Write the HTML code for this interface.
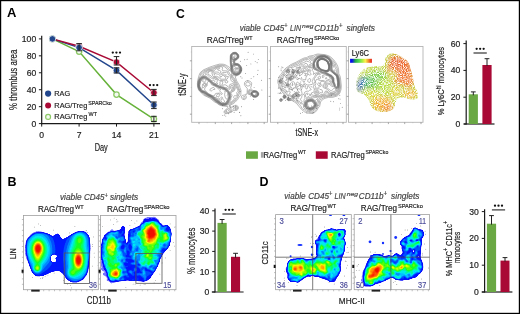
<!DOCTYPE html>
<html><head><meta charset="utf-8"><style>
html,body{margin:0;padding:0;background:#fff;}
#f{position:relative;width:520px;height:314px;overflow:hidden;background:#fff;}
svg{position:absolute;left:0;top:0;will-change:transform;}
</style></head><body><div id="f">
<svg width="520" height="314" viewBox="0 0 520 314" xmlns="http://www.w3.org/2000/svg" font-family="Liberation Sans, sans-serif">
<defs><filter id="jet" x="-5%" y="-5%" width="110%" height="110%" color-interpolation-filters="sRGB">
<feGaussianBlur stdDeviation="0.45"/>
<feComponentTransfer><feFuncR type="table" tableValues="1.000 1.000 1.000 1.000 1.000 1.000 1.000 0.910 0.760 0.610 0.460 0.309 0.159 0.039 0.036 0.032 0.029 0.026 0.023 0.020 0.017 0.014 0.011 0.008 0.005 0.002 0.000 0.000 0.000 0.000 0.000 0.000 0.000 0.000 0.000 0.000 0.000 0.000 0.000 0.000 0.000 0.000 0.000 0.000 0.000 0.000 0.000 0.000 0.000 0.000 0.000 0.000 0.000 0.000 0.003 0.016 0.029 0.041 0.054 0.067 0.080 0.092 0.123 0.167 0.211 0.255 0.299 0.343 0.387 0.431 0.475 0.519 0.565 0.615 0.666 0.716 0.766 0.817 0.867 0.917 0.968 1.000 1.000 1.000 1.000 1.000 1.000 1.000 1.000 1.000 1.000 1.000 1.000 1.000 1.000 1.000 1.000 1.000 1.000 1.000 1.000 1.000 1.000 1.000 1.000 1.000 1.000 1.000 1.000 1.000 1.000 1.000 0.997 0.992 0.988 0.983 0.978 0.973 0.969 0.964 0.959 0.955 0.950 0.945 0.940 0.936 0.931 0.926 0.922"/><feFuncG type="table" tableValues="1.000 1.000 1.000 1.000 1.000 1.000 1.000 0.910 0.760 0.610 0.460 0.309 0.159 0.040 0.044 0.047 0.051 0.055 0.058 0.062 0.066 0.069 0.073 0.077 0.080 0.084 0.104 0.150 0.195 0.240 0.285 0.330 0.375 0.421 0.466 0.511 0.555 0.595 0.634 0.673 0.713 0.752 0.792 0.831 0.870 0.904 0.915 0.926 0.937 0.948 0.959 0.970 0.981 0.992 1.000 1.000 1.000 1.000 1.000 1.000 1.000 1.000 1.000 1.000 1.000 1.000 1.000 1.000 1.000 1.000 1.000 1.000 0.999 0.997 0.995 0.993 0.991 0.988 0.986 0.984 0.982 0.971 0.944 0.917 0.890 0.864 0.837 0.810 0.783 0.756 0.729 0.703 0.676 0.649 0.622 0.595 0.569 0.542 0.515 0.488 0.461 0.435 0.408 0.381 0.354 0.327 0.301 0.274 0.247 0.220 0.193 0.167 0.151 0.141 0.132 0.123 0.113 0.104 0.094 0.085 0.075 0.066 0.057 0.047 0.038 0.028 0.019 0.009 0.000"/><feFuncB type="table" tableValues="1.000 1.000 1.000 1.000 1.000 1.000 1.000 1.000 1.000 1.000 1.000 1.000 1.000 1.000 1.000 1.000 1.000 1.000 1.000 1.000 1.000 1.000 1.000 1.000 1.000 1.000 1.000 1.000 1.000 1.000 1.000 1.000 1.000 1.000 1.000 1.000 1.000 1.000 1.000 1.000 1.000 1.000 1.000 1.000 1.000 0.989 0.934 0.880 0.825 0.770 0.716 0.661 0.606 0.551 0.497 0.443 0.390 0.336 0.282 0.229 0.175 0.122 0.093 0.083 0.074 0.064 0.054 0.045 0.035 0.026 0.016 0.007 0.000 0.000 0.000 0.000 0.000 0.000 0.000 0.000 0.000 0.000 0.000 0.000 0.000 0.000 0.000 0.000 0.000 0.000 0.000 0.000 0.000 0.000 0.000 0.000 0.000 0.000 0.000 0.000 0.000 0.000 0.000 0.000 0.000 0.000 0.000 0.000 0.000 0.000 0.000 0.000 0.000 0.000 0.000 0.000 0.000 0.000 0.000 0.000 0.000 0.000 0.000 0.000 0.000 0.000 0.000 0.000 0.000"/></feComponentTransfer>
</filter><clipPath id="cB1"><rect x="23.5" y="215.5" width="74.8" height="74.19999999999999"/></clipPath><clipPath id="cB2"><rect x="100.5" y="215.5" width="75.5" height="74.19999999999999"/></clipPath><clipPath id="cD1"><rect x="275.6" y="214.6" width="75.69999999999999" height="75.1"/></clipPath><clipPath id="cD2"><rect x="354.2" y="214.6" width="75.40000000000003" height="75.1"/></clipPath><clipPath id="lyclip"><path d="M356.5 88.0 356.4 87.1 356.4 86.1 356.3 85.1 356.4 84.0 356.4 83.0 356.5 82.0 356.6 81.1 356.8 80.3 357.1 79.4 357.3 78.6 357.6 77.8 358.0 77.0 358.4 76.1 358.9 75.3 359.3 74.4 359.9 73.6 360.4 72.7 361.0 72.0 361.6 71.3 362.2 70.7 362.9 70.1 363.6 69.5 364.3 69.0 365.0 68.5 365.8 68.1 366.6 67.7 367.4 67.3 368.2 67.0 369.1 66.7 370.0 66.5 371.0 66.3 372.0 66.2 373.0 66.1 374.0 66.0 375.0 66.0 376.0 66.0 376.9 66.1 377.8 66.2 378.7 66.4 379.5 66.6 380.3 66.6 381.0 66.5 381.7 66.2 382.4 65.9 383.0 65.4 383.6 64.8 384.1 64.2 384.5 63.5 384.8 62.7 384.9 61.8 385.0 60.8 385.1 59.7 385.2 58.8 385.4 58.0 385.7 57.3 386.1 56.8 386.6 56.3 387.0 55.8 387.5 55.4 388.0 55.0 388.5 54.6 388.9 54.2 389.4 53.9 389.8 53.6 390.4 53.4 391.0 53.3 391.7 53.2 392.4 53.2 393.2 53.3 394.1 53.4 395.0 53.7 396.0 54.0 397.1 54.4 398.3 55.0 399.5 55.7 400.7 56.4 401.9 57.1 403.0 57.8 404.0 58.4 404.9 59.0 405.8 59.6 406.6 60.3 407.3 61.1 408.0 62.0 408.6 63.1 409.2 64.3 409.7 65.7 410.1 67.1 410.6 68.6 411.0 70.0 411.4 71.5 411.8 73.0 412.2 74.6 412.6 76.1 412.9 77.6 413.2 79.0 413.5 80.3 413.7 81.6 413.8 82.8 414.0 83.9 414.2 85.0 414.5 86.0 414.9 86.9 415.3 87.8 415.8 88.6 416.2 89.3 416.7 90.1 417.0 91.0 417.3 92.0 417.6 93.1 417.8 94.2 418.0 95.2 418.1 96.2 418.0 97.0 417.8 97.7 417.4 98.2 416.9 98.7 416.4 99.0 415.7 99.3 415.0 99.5 414.2 99.6 413.2 99.6 412.2 99.5 411.1 99.4 410.0 99.2 409.0 99.0 408.0 98.8 407.0 98.5 406.0 98.1 405.0 97.8 404.0 97.6 403.0 97.5 401.9 97.5 400.8 97.6 399.7 97.8 398.7 98.1 397.7 98.5 397.0 99.0 396.5 99.6 396.2 100.4 396.0 101.3 395.9 102.2 395.8 103.1 395.5 104.0 395.2 104.9 394.8 105.8 394.5 106.7 394.1 107.5 393.6 108.3 393.0 109.0 392.3 109.6 391.6 110.1 390.8 110.5 389.9 110.9 389.0 111.2 388.0 111.5 386.9 111.7 385.8 111.9 384.6 112.0 383.3 112.1 382.1 112.1 381.0 112.0 379.9 111.8 378.9 111.6 377.8 111.3 376.8 110.9 375.9 110.5 375.0 110.0 374.2 109.5 373.5 108.9 372.8 108.2 372.1 107.6 371.5 106.8 371.0 106.0 370.5 105.1 370.2 104.1 369.9 103.1 369.5 102.0 369.2 101.0 368.7 100.0 368.1 99.1 367.5 98.1 366.7 97.2 366.0 96.4 365.2 95.6 364.5 95.0 363.7 94.5 362.9 94.1 362.1 93.8 361.4 93.5 360.6 93.3 360.0 93.0 359.5 92.7 359.0 92.5 358.5 92.3 358.1 92.1 357.8 91.9 357.5 91.5 357.2 91.1 357.0 90.6 356.8 90.0 356.7 89.4 356.6 88.8Z"/></clipPath><filter id="lyblur" x="-10%" y="-10%" width="120%" height="120%"><feGaussianBlur stdDeviation="2.2"/></filter>
<filter id="speck" x="0" y="0" width="100%" height="100%" color-interpolation-filters="sRGB">
<feTurbulence type="fractalNoise" baseFrequency="1.1" numOctaves="1" seed="4" result="n"/>
<feColorMatrix in="n" type="matrix" values="0 0 0 0 0  0 0 0 0 0  0 0 0 0 0  3.0 0 0 0 -0.9" result="na"/>
<feComposite in="SourceGraphic" in2="na" operator="in"/>
</filter><linearGradient id="lyg" x1="0" x2="1" y1="0" y2="0"><stop offset="0" stop-color="#0000f0"/><stop offset="0.1" stop-color="#0818e0"/><stop offset="0.24" stop-color="#28a848"/><stop offset="0.42" stop-color="#58e050"/><stop offset="0.6" stop-color="#c0f040"/><stop offset="0.7" stop-color="#fff050"/><stop offset="0.82" stop-color="#f0a030"/><stop offset="0.92" stop-color="#f05020"/><stop offset="1" stop-color="#e02020"/></linearGradient></defs><rect x="0.5" y="0.5" width="519" height="313" fill="#fff" stroke="#000" stroke-width="1.4"/>
<text x="7.0" y="17.4" font-size="12.8" fill="#000" textLength="9.4" lengthAdjust="spacingAndGlyphs" font-weight="bold">A</text><text x="175.9" y="17.7" font-size="12.2" fill="#000" font-weight="bold">C</text><text x="7.6" y="185.7" font-size="12.5" fill="#000" font-weight="bold">B</text><text x="259.4" y="185.7" font-size="12.1" fill="#000" textLength="9.0" lengthAdjust="spacingAndGlyphs" font-weight="bold">D</text><line x1="41.7" y1="35.7" x2="41.7" y2="124.2" stroke="#1a1a1a" stroke-width="1.2"/><line x1="41.1" y1="123.6" x2="160" y2="123.6" stroke="#1a1a1a" stroke-width="1.2"/><line x1="38.9" y1="123.6" x2="41.7" y2="123.6" stroke="#1a1a1a" stroke-width="1"/><text x="36.2" y="126.6" font-size="8.6" fill="#222" text-anchor="end" stroke="#222" stroke-width="0.18">0</text><line x1="38.9" y1="106.66" x2="41.7" y2="106.66" stroke="#1a1a1a" stroke-width="1"/><text x="36.2" y="109.66" font-size="8.6" fill="#222" text-anchor="end" stroke="#222" stroke-width="0.18">20</text><line x1="38.9" y1="89.72" x2="41.7" y2="89.72" stroke="#1a1a1a" stroke-width="1"/><text x="36.2" y="92.72" font-size="8.6" fill="#222" text-anchor="end" stroke="#222" stroke-width="0.18">40</text><line x1="38.9" y1="72.78" x2="41.7" y2="72.78" stroke="#1a1a1a" stroke-width="1"/><text x="36.2" y="75.78" font-size="8.6" fill="#222" text-anchor="end" stroke="#222" stroke-width="0.18">60</text><line x1="38.9" y1="55.84" x2="41.7" y2="55.84" stroke="#1a1a1a" stroke-width="1"/><text x="36.2" y="58.84" font-size="8.6" fill="#222" text-anchor="end" stroke="#222" stroke-width="0.18">80</text><line x1="38.9" y1="38.89999999999999" x2="41.7" y2="38.89999999999999" stroke="#1a1a1a" stroke-width="1"/><text x="36.2" y="41.89999999999999" font-size="8.6" fill="#222" text-anchor="end" stroke="#222" stroke-width="0.18">100</text><line x1="41.7" y1="123.6" x2="41.7" y2="126.6" stroke="#1a1a1a" stroke-width="1"/><text x="41.7" y="137.6" font-size="8.6" fill="#222" text-anchor="middle" stroke="#222" stroke-width="0.18">0</text><line x1="79.1" y1="123.6" x2="79.1" y2="126.6" stroke="#1a1a1a" stroke-width="1"/><text x="79.1" y="137.6" font-size="8.6" fill="#222" text-anchor="middle" stroke="#222" stroke-width="0.18">7</text><line x1="116.5" y1="123.6" x2="116.5" y2="126.6" stroke="#1a1a1a" stroke-width="1"/><text x="116.5" y="137.6" font-size="8.6" fill="#222" text-anchor="middle" stroke="#222" stroke-width="0.18">14</text><line x1="153.90000000000003" y1="123.6" x2="153.90000000000003" y2="126.6" stroke="#1a1a1a" stroke-width="1"/><text x="153.90000000000003" y="137.6" font-size="8.6" fill="#222" text-anchor="middle" stroke="#222" stroke-width="0.18">21</text><text x="101.25" y="151.2" font-size="10" fill="#222" text-anchor="middle" textLength="13.1" lengthAdjust="spacingAndGlyphs" stroke="#222" stroke-width="0.18">Day</text><text x="16.6" y="79.8" font-size="10.8" fill="#222" text-anchor="middle" textLength="60.4" lengthAdjust="spacingAndGlyphs" transform="rotate(-90 16.6 79.8)" stroke="#222" stroke-width="0.18">% thrombus area</text><polyline points="52.4,38.9 79.1,51.6 116.5,94.6 153.9,119.1" fill="none" stroke="#66b23a" stroke-width="1.45"/><polyline points="52.4,38.9 79.1,47.6 116.5,70.4 153.9,105.0" fill="none" stroke="#22468c" stroke-width="1.45"/><polyline points="52.4,38.9 79.1,46.3 116.5,62.1 153.9,92.7" fill="none" stroke="#a90a35" stroke-width="1.45"/><circle cx="52.4" cy="38.9" r="2.7" fill="#f4faf0" stroke="#8cc866" stroke-width="1.3"/><circle cx="79.1" cy="51.6" r="2.7" fill="#f4faf0" stroke="#8cc866" stroke-width="1.3"/><circle cx="116.5" cy="94.6" r="2.7" fill="#f4faf0" stroke="#8cc866" stroke-width="1.3"/><circle cx="153.9" cy="119.1" r="2.7" fill="#f4faf0" stroke="#8cc866" stroke-width="1.3"/><circle cx="79.1" cy="46.3" r="3.3" fill="#a90a35" stroke="#fff" stroke-width="0.7"/><circle cx="116.5" cy="62.1" r="3.3" fill="#a90a35" stroke="#fff" stroke-width="0.7"/><circle cx="153.9" cy="92.7" r="3.3" fill="#a90a35" stroke="#fff" stroke-width="0.7"/><circle cx="52.4" cy="38.9" r="3.3" fill="#22468c" stroke="#fff" stroke-width="0.7"/><circle cx="79.1" cy="47.6" r="3.3" fill="#22468c" stroke="#fff" stroke-width="0.7"/><circle cx="116.5" cy="70.4" r="3.3" fill="#22468c" stroke="#fff" stroke-width="0.7"/><circle cx="153.9" cy="105.0" r="3.3" fill="#22468c" stroke="#fff" stroke-width="0.7"/><line x1="79.1" y1="43.6" x2="79.1" y2="50.8" stroke="#222" stroke-width="1"/><line x1="76.3" y1="43.6" x2="81.89999999999999" y2="43.6" stroke="#222" stroke-width="1"/><line x1="76.3" y1="50.8" x2="81.89999999999999" y2="50.8" stroke="#222" stroke-width="1"/><line x1="116.5" y1="56.6" x2="116.5" y2="65" stroke="#222" stroke-width="1"/><line x1="113.7" y1="56.6" x2="119.3" y2="56.6" stroke="#222" stroke-width="1"/><line x1="113.7" y1="65" x2="119.3" y2="65" stroke="#222" stroke-width="1"/><line x1="116.5" y1="67.8" x2="116.5" y2="73" stroke="#222" stroke-width="1"/><line x1="113.7" y1="67.8" x2="119.3" y2="67.8" stroke="#222" stroke-width="1"/><line x1="113.7" y1="73" x2="119.3" y2="73" stroke="#222" stroke-width="1"/><line x1="153.90000000000003" y1="89.4" x2="153.90000000000003" y2="95.6" stroke="#222" stroke-width="1"/><line x1="151.10000000000002" y1="89.4" x2="156.70000000000005" y2="89.4" stroke="#222" stroke-width="1"/><line x1="151.10000000000002" y1="95.6" x2="156.70000000000005" y2="95.6" stroke="#222" stroke-width="1"/><line x1="153.90000000000003" y1="102" x2="153.90000000000003" y2="108.6" stroke="#222" stroke-width="1"/><line x1="151.10000000000002" y1="102" x2="156.70000000000005" y2="102" stroke="#222" stroke-width="1"/><line x1="151.10000000000002" y1="108.6" x2="156.70000000000005" y2="108.6" stroke="#222" stroke-width="1"/><line x1="153.90000000000003" y1="116.3" x2="153.90000000000003" y2="121.6" stroke="#222" stroke-width="1"/><line x1="151.10000000000002" y1="116.3" x2="156.70000000000005" y2="116.3" stroke="#222" stroke-width="1"/><line x1="151.10000000000002" y1="121.6" x2="156.70000000000005" y2="121.6" stroke="#222" stroke-width="1"/><circle cx="112.80" cy="52.6" r="1.15" fill="#111"/><circle cx="116.40" cy="52.6" r="1.15" fill="#111"/><circle cx="120.00" cy="52.6" r="1.15" fill="#111"/><circle cx="150.00" cy="85.1" r="1.15" fill="#111"/><circle cx="153.60" cy="85.1" r="1.15" fill="#111"/><circle cx="157.20" cy="85.1" r="1.15" fill="#111"/><circle cx="48.1" cy="93.6" r="3.1" fill="#22468c"/><circle cx="48.1" cy="105.4" r="3.0" fill="#a90a35"/><circle cx="48.1" cy="116.9" r="2.45" fill="#f4faf0" stroke="#8cc866" stroke-width="1.2"/><text x="54.3" y="96.2" font-size="7.8" fill="#222" textLength="15.8" lengthAdjust="spacingAndGlyphs" stroke="#222" stroke-width="0.18">RAG</text><text x="54.3" y="107.9" font-size="7.8" fill="#1e1e1e" textLength="33" lengthAdjust="spacingAndGlyphs" stroke="#1e1e1e" stroke-width="0.18">RAG/Treg</text><text x="88.2" y="104.60000000000001" font-size="6.2" fill="#1e1e1e" textLength="23.6" lengthAdjust="spacingAndGlyphs" stroke="#1e1e1e" stroke-width="0.18">SPARCko</text><text x="54.3" y="119.2" font-size="7.8" fill="#1e1e1e" textLength="33" lengthAdjust="spacingAndGlyphs" stroke="#1e1e1e" stroke-width="0.18">RAG/Treg</text><text x="88.6" y="116.0" font-size="6.2" fill="#1e1e1e" textLength="8.4" lengthAdjust="spacingAndGlyphs" stroke="#1e1e1e" stroke-width="0.18">WT</text><line x1="466.2" y1="40.5" x2="466.2" y2="124.6" stroke="#1a1a1a" stroke-width="1.2"/><line x1="463.9" y1="124" x2="494.5" y2="124" stroke="#1a1a1a" stroke-width="1.2"/><line x1="463.4" y1="124.0" x2="466.2" y2="124.0" stroke="#1a1a1a" stroke-width="1"/><text x="460.4" y="127.0" font-size="8.6" fill="#222" text-anchor="end" stroke="#222" stroke-width="0.18">0</text><line x1="463.4" y1="97.2" x2="466.2" y2="97.2" stroke="#1a1a1a" stroke-width="1"/><text x="460.4" y="100.2" font-size="8.6" fill="#222" text-anchor="end" stroke="#222" stroke-width="0.18">20</text><line x1="463.4" y1="70.4" x2="466.2" y2="70.4" stroke="#1a1a1a" stroke-width="1"/><text x="460.4" y="73.4" font-size="8.6" fill="#222" text-anchor="end" stroke="#222" stroke-width="0.18">40</text><line x1="463.4" y1="43.599999999999994" x2="466.2" y2="43.599999999999994" stroke="#1a1a1a" stroke-width="1"/><text x="460.4" y="46.599999999999994" font-size="8.6" fill="#222" text-anchor="end" stroke="#222" stroke-width="0.18">60</text><rect x="468.7" y="94.3" width="9.199999999999989" height="29.700000000000003" fill="#6aa843"/><line x1="473.29999999999995" y1="91.9" x2="473.29999999999995" y2="95.3" stroke="#222" stroke-width="1"/><line x1="470.9" y1="91.9" x2="475.69999999999993" y2="91.9" stroke="#222" stroke-width="1"/><rect x="482.4" y="65" width="9.200000000000045" height="59" fill="#a90a35"/><line x1="487.0" y1="58.7" x2="487.0" y2="66" stroke="#222" stroke-width="1"/><line x1="484.6" y1="58.7" x2="489.4" y2="58.7" stroke="#222" stroke-width="1"/><line x1="473.5" y1="53" x2="486.8" y2="53" stroke="#222" stroke-width="1.1"/><circle cx="476.65" cy="48.8" r="1.15" fill="#111"/><circle cx="480.15" cy="48.8" r="1.15" fill="#111"/><circle cx="483.65" cy="48.8" r="1.15" fill="#111"/><text x="444.5" y="81.1" font-size="9.7" fill="#222" text-anchor="middle" textLength="68.5" lengthAdjust="spacingAndGlyphs" transform="rotate(-90 444.5 81.1)" stroke="#222" stroke-width="0.18">% Ly6C<tspan font-size="6.5" dy="-3.5">hi</tspan><tspan dy="3.5"> monocytes</tspan></text><line x1="215" y1="208.6" x2="215" y2="292.6" stroke="#1a1a1a" stroke-width="1.2"/><line x1="211.8" y1="292" x2="243.6" y2="292" stroke="#1a1a1a" stroke-width="1.2"/><line x1="212.2" y1="292.0" x2="215" y2="292.0" stroke="#1a1a1a" stroke-width="1"/><text x="209.4" y="295.0" font-size="8.6" fill="#222" text-anchor="end" stroke="#222" stroke-width="0.18">0</text><line x1="212.2" y1="271.7" x2="215" y2="271.7" stroke="#1a1a1a" stroke-width="1"/><text x="209.4" y="274.7" font-size="8.6" fill="#222" text-anchor="end" stroke="#222" stroke-width="0.18">10</text><line x1="212.2" y1="251.4" x2="215" y2="251.4" stroke="#1a1a1a" stroke-width="1"/><text x="209.4" y="254.4" font-size="8.6" fill="#222" text-anchor="end" stroke="#222" stroke-width="0.18">20</text><line x1="212.2" y1="231.10000000000002" x2="215" y2="231.10000000000002" stroke="#1a1a1a" stroke-width="1"/><text x="209.4" y="234.10000000000002" font-size="8.6" fill="#222" text-anchor="end" stroke="#222" stroke-width="0.18">30</text><line x1="212.2" y1="210.8" x2="215" y2="210.8" stroke="#1a1a1a" stroke-width="1"/><text x="209.4" y="213.8" font-size="8.6" fill="#222" text-anchor="end" stroke="#222" stroke-width="0.18">40</text><rect x="217.5" y="222.9" width="9.199999999999989" height="69.1" fill="#6aa843"/><line x1="222.1" y1="219.5" x2="222.1" y2="223.9" stroke="#222" stroke-width="1"/><line x1="219.7" y1="219.5" x2="224.5" y2="219.5" stroke="#222" stroke-width="1"/><rect x="231" y="256.8" width="9.099999999999994" height="35.19999999999999" fill="#a90a35"/><line x1="235.55" y1="253.3" x2="235.55" y2="257.8" stroke="#222" stroke-width="1"/><line x1="233.15" y1="253.3" x2="237.95000000000002" y2="253.3" stroke="#222" stroke-width="1"/><line x1="222.4" y1="214" x2="235.8" y2="214" stroke="#222" stroke-width="1.1"/><circle cx="225.60" cy="209.8" r="1.15" fill="#111"/><circle cx="229.10" cy="209.8" r="1.15" fill="#111"/><circle cx="232.60" cy="209.8" r="1.15" fill="#111"/><text x="195" y="250.8" font-size="10.5" fill="#222" text-anchor="middle" textLength="46.4" lengthAdjust="spacingAndGlyphs" transform="rotate(-90 195 250.8)" stroke="#222" stroke-width="0.18">% monocytes</text><line x1="484.6" y1="209.3" x2="484.6" y2="292.6" stroke="#1a1a1a" stroke-width="1.2"/><line x1="481.8" y1="292" x2="512.4" y2="292" stroke="#1a1a1a" stroke-width="1.2"/><line x1="481.8" y1="292.0" x2="484.6" y2="292.0" stroke="#1a1a1a" stroke-width="1"/><text x="478.9" y="295.0" font-size="8.6" fill="#222" text-anchor="end" stroke="#222" stroke-width="0.18">0</text><line x1="481.8" y1="265.2" x2="484.6" y2="265.2" stroke="#1a1a1a" stroke-width="1"/><text x="478.9" y="268.2" font-size="8.6" fill="#222" text-anchor="end" stroke="#222" stroke-width="0.18">10</text><line x1="481.8" y1="238.4" x2="484.6" y2="238.4" stroke="#1a1a1a" stroke-width="1"/><text x="478.9" y="241.4" font-size="8.6" fill="#222" text-anchor="end" stroke="#222" stroke-width="0.18">20</text><line x1="481.8" y1="211.6" x2="484.6" y2="211.6" stroke="#1a1a1a" stroke-width="1"/><text x="478.9" y="214.6" font-size="8.6" fill="#222" text-anchor="end" stroke="#222" stroke-width="0.18">30</text><rect x="486.9" y="223.7" width="9.200000000000045" height="68.30000000000001" fill="#6aa843"/><line x1="491.5" y1="215.6" x2="491.5" y2="224.7" stroke="#222" stroke-width="1"/><line x1="489.1" y1="215.6" x2="493.9" y2="215.6" stroke="#222" stroke-width="1"/><rect x="500.5" y="260.6" width="9.0" height="31.399999999999977" fill="#a90a35"/><line x1="505.0" y1="257.6" x2="505.0" y2="261.6" stroke="#222" stroke-width="1"/><line x1="502.6" y1="257.6" x2="507.4" y2="257.6" stroke="#222" stroke-width="1"/><line x1="491.9" y1="209.9" x2="505.1" y2="209.9" stroke="#222" stroke-width="1.1"/><circle cx="495.00" cy="205.70000000000002" r="1.15" fill="#111"/><circle cx="498.50" cy="205.70000000000002" r="1.15" fill="#111"/><circle cx="502.00" cy="205.70000000000002" r="1.15" fill="#111"/><text x="451.8" y="248.6" font-size="9.4" fill="#222" text-anchor="middle" textLength="55.2" lengthAdjust="spacingAndGlyphs" transform="rotate(-90 451.8 248.6)" stroke="#222" stroke-width="0.18">% MHC<tspan font-size="6.5" dy="-3.5">+</tspan><tspan dy="3.5"> CD11c</tspan><tspan font-size="6.5" dy="-3.5">+</tspan></text><text x="460.3" y="247.4" font-size="9.2" fill="#222" text-anchor="middle" textLength="31" lengthAdjust="spacingAndGlyphs" transform="rotate(-90 460.3 247.4)" stroke="#222" stroke-width="0.18">monocytes</text><text x="239.7" y="30.8" font-size="8.3" fill="#444" textLength="21.2" lengthAdjust="spacingAndGlyphs" font-style="italic" stroke="#444" stroke-width="0.18">viable</text><text x="263.6" y="30.8" font-size="8.3" fill="#444" textLength="20.8" lengthAdjust="spacingAndGlyphs" font-style="italic" stroke="#444" stroke-width="0.18">CD45</text><text x="284.3" y="28.2" font-size="6.6" fill="#444" textLength="3.3" lengthAdjust="spacingAndGlyphs" font-style="italic" stroke="#444" stroke-width="0.18">+</text><text x="290" y="30.8" font-size="8.3" fill="#444" textLength="11" lengthAdjust="spacingAndGlyphs" font-style="italic" stroke="#444" stroke-width="0.18">LIN</text><text x="302.1" y="28.2" font-size="6.0" fill="#444" textLength="11.4" lengthAdjust="spacingAndGlyphs" font-style="italic" stroke="#444" stroke-width="0.18">neg</text><text x="314.2" y="30.8" font-size="8.3" fill="#444" textLength="24.6" lengthAdjust="spacingAndGlyphs" font-style="italic" stroke="#444" stroke-width="0.18">CD11b</text><text x="339.0" y="28.2" font-size="6.6" fill="#444" textLength="3.5" lengthAdjust="spacingAndGlyphs" font-style="italic" stroke="#444" stroke-width="0.18">+</text><text x="346.5" y="30.8" font-size="8.3" fill="#444" textLength="28.4" lengthAdjust="spacingAndGlyphs" font-style="italic" stroke="#444" stroke-width="0.18">singlets</text><text x="284.3" y="198.9" font-size="8.3" fill="#444" textLength="21.2" lengthAdjust="spacingAndGlyphs" font-style="italic" stroke="#444" stroke-width="0.18">viable</text><text x="308.20000000000005" y="198.9" font-size="8.3" fill="#444" textLength="20.8" lengthAdjust="spacingAndGlyphs" font-style="italic" stroke="#444" stroke-width="0.18">CD45</text><text x="328.90000000000003" y="196.3" font-size="6.6" fill="#444" textLength="3.3" lengthAdjust="spacingAndGlyphs" font-style="italic" stroke="#444" stroke-width="0.18">+</text><text x="334.6" y="198.9" font-size="8.3" fill="#444" textLength="11" lengthAdjust="spacingAndGlyphs" font-style="italic" stroke="#444" stroke-width="0.18">LIN</text><text x="346.70000000000005" y="196.3" font-size="6.0" fill="#444" textLength="11.4" lengthAdjust="spacingAndGlyphs" font-style="italic" stroke="#444" stroke-width="0.18">neg</text><text x="358.8" y="198.9" font-size="8.3" fill="#444" textLength="24.6" lengthAdjust="spacingAndGlyphs" font-style="italic" stroke="#444" stroke-width="0.18">CD11b</text><text x="383.6" y="196.3" font-size="6.6" fill="#444" textLength="3.5" lengthAdjust="spacingAndGlyphs" font-style="italic" stroke="#444" stroke-width="0.18">+</text><text x="391.1" y="198.9" font-size="8.3" fill="#444" textLength="28.4" lengthAdjust="spacingAndGlyphs" font-style="italic" stroke="#444" stroke-width="0.18">singlets</text><text x="59.9" y="200.4" font-size="8.3" fill="#444" textLength="21.8" lengthAdjust="spacingAndGlyphs" font-style="italic" stroke="#444" stroke-width="0.18">viable</text><text x="84" y="200.4" font-size="8.3" fill="#444" textLength="20.5" lengthAdjust="spacingAndGlyphs" font-style="italic" stroke="#444" stroke-width="0.18">CD45</text><text x="104.6" y="197.8" font-size="6.6" fill="#444" textLength="3.3" lengthAdjust="spacingAndGlyphs" font-style="italic" stroke="#444" stroke-width="0.18">+</text><text x="110" y="200.4" font-size="8.3" fill="#444" textLength="28.1" lengthAdjust="spacingAndGlyphs" font-style="italic" stroke="#444" stroke-width="0.18">singlets</text><text x="206.7" y="42.9" font-size="8.3" fill="#1e1e1e" textLength="36.9" lengthAdjust="spacingAndGlyphs" stroke="#1e1e1e" stroke-width="0.18">RAG/Treg</text><text x="244.2" y="39.8" font-size="6.2" fill="#1e1e1e" textLength="8.3" lengthAdjust="spacingAndGlyphs" stroke="#1e1e1e" stroke-width="0.18">WT</text><text x="276.8" y="42.9" font-size="8.3" fill="#1e1e1e" textLength="36.5" lengthAdjust="spacingAndGlyphs" stroke="#1e1e1e" stroke-width="0.18">RAG/Treg</text><text x="314" y="39.8" font-size="6.2" fill="#1e1e1e" textLength="25.3" lengthAdjust="spacingAndGlyphs" stroke="#1e1e1e" stroke-width="0.18">SPARCko</text><text x="37.9" y="212" font-size="8.3" fill="#1e1e1e" textLength="36.1" lengthAdjust="spacingAndGlyphs" stroke="#1e1e1e" stroke-width="0.18">RAG/Treg</text><text x="75" y="208.9" font-size="6.2" fill="#1e1e1e" textLength="8.7" lengthAdjust="spacingAndGlyphs" stroke="#1e1e1e" stroke-width="0.18">WT</text><text x="106.9" y="212" font-size="8.3" fill="#1e1e1e" textLength="36.4" lengthAdjust="spacingAndGlyphs" stroke="#1e1e1e" stroke-width="0.18">RAG/Treg</text><text x="144" y="208.9" font-size="6.2" fill="#1e1e1e" textLength="25.6" lengthAdjust="spacingAndGlyphs" stroke="#1e1e1e" stroke-width="0.18">SPARCko</text><text x="290.5" y="211" font-size="8.3" fill="#1e1e1e" textLength="36.3" lengthAdjust="spacingAndGlyphs" stroke="#1e1e1e" stroke-width="0.18">RAG/Treg</text><text x="327.6" y="207.9" font-size="6.2" fill="#1e1e1e" textLength="8.6" lengthAdjust="spacingAndGlyphs" stroke="#1e1e1e" stroke-width="0.18">WT</text><text x="360.8" y="211" font-size="8.3" fill="#1e1e1e" textLength="36.3" lengthAdjust="spacingAndGlyphs" stroke="#1e1e1e" stroke-width="0.18">RAG/Treg</text><text x="397.9" y="207.9" font-size="6.2" fill="#1e1e1e" textLength="24.9" lengthAdjust="spacingAndGlyphs" stroke="#1e1e1e" stroke-width="0.18">SPARCko</text><rect x="246" y="151.3" width="11.9" height="7.5" fill="#6aa843"/><rect x="260.9" y="152.1" width="2.9" height="5.6" fill="#a4a4a4"/><text x="263.5" y="157.7" font-size="8.3" fill="#1e1e1e" textLength="33.8" lengthAdjust="spacingAndGlyphs" stroke="#1e1e1e" stroke-width="0.18">RAG/Treg</text><text x="297.9" y="154.29999999999998" font-size="6.2" fill="#1e1e1e" textLength="8.1" lengthAdjust="spacingAndGlyphs" stroke="#1e1e1e" stroke-width="0.18">WT</text><rect x="315.8" y="151.3" width="11.9" height="7.5" fill="#a90a35"/><text x="331" y="157.8" font-size="8.3" fill="#1e1e1e" textLength="33.7" lengthAdjust="spacingAndGlyphs" stroke="#1e1e1e" stroke-width="0.18">RAG/Treg</text><text x="365.4" y="154.4" font-size="6.2" fill="#1e1e1e" textLength="22.9" lengthAdjust="spacingAndGlyphs" stroke="#1e1e1e" stroke-width="0.18">SPARCko</text><text x="185.9" y="84.65" font-size="10" fill="#222" text-anchor="middle" textLength="22.3" lengthAdjust="spacingAndGlyphs" transform="rotate(-90 185.9 84.65)" stroke="#222" stroke-width="0.18">tSNE-y</text><text x="306.8" y="136.1" font-size="10" fill="#222" text-anchor="middle" textLength="22.4" lengthAdjust="spacingAndGlyphs" stroke="#222" stroke-width="0.18">tSNE-x</text><text x="15.8" y="253.7" font-size="9.2" fill="#222" text-anchor="middle" textLength="10.8" lengthAdjust="spacingAndGlyphs" transform="rotate(-90 15.8 253.7)" stroke="#222" stroke-width="0.18">LIN</text><text x="98.8" y="304" font-size="10" fill="#222" text-anchor="middle" textLength="24.2" lengthAdjust="spacingAndGlyphs" stroke="#222" stroke-width="0.18">CD11b</text><text x="268.5" y="252.95" font-size="9.8" fill="#222" text-anchor="middle" textLength="23.1" lengthAdjust="spacingAndGlyphs" transform="rotate(-90 268.5 252.95)" stroke="#222" stroke-width="0.18">CD11c</text><text x="351.85" y="303.6" font-size="9.4" fill="#222" text-anchor="middle" textLength="26" lengthAdjust="spacingAndGlyphs" stroke="#222" stroke-width="0.18">MHC-II</text><g clip-path="url(#cB1)"><g filter="url(#jet)"><rect x="19.5" y="211.5" width="82.8" height="82.19999999999999" fill="#000"/><path fill-rule="evenodd" fill="rgb(10,10,10)" d="M78.38 286.64 76.62 286.52 75.12 286.11 73.62 285.38 72.12 284.34 66.38 279.60 65.73 278.88 63.00 274.62 60.92 272.62 59.62 271.80 58.38 271.53 56.62 271.49 54.12 271.83 51.40 272.62 49.61 273.38 48.12 274.27 43.38 276.20 39.62 276.83 38.12 276.81 35.62 276.26 34.12 275.56 33.03 274.62 32.00 273.38 30.12 270.49 26.17 265.62 24.71 263.12 23.62 260.65 23.62 239.35 24.71 236.88 26.17 234.38 27.88 232.16 29.62 230.43 32.38 228.53 35.38 227.34 38.38 226.94 41.38 227.28 43.88 228.16 46.38 229.64 48.38 231.36 50.39 233.62 52.38 235.20 53.38 235.13 56.88 233.17 57.62 233.05 58.38 233.24 59.31 234.12 61.62 237.77 62.12 238.25 62.62 238.41 63.86 238.12 66.41 236.88 68.53 235.12 70.72 232.38 72.38 230.78 74.38 229.47 76.62 228.65 79.38 228.44 82.12 229.06 83.62 229.75 85.62 231.00 87.75 232.88 89.31 235.12 90.30 237.88 92.42 251.12 92.78 255.12 92.84 259.12 92.59 263.38 92.08 267.12 91.20 271.12 90.00 274.88 88.44 278.38 86.77 281.12 84.88 283.39 82.88 285.06 80.62 286.20 78.38 286.64ZM53.85 262.12 55.02 261.88 56.12 260.79 56.12 259.92 54.73 258.62 54.88 258.38 56.12 257.65 56.74 256.38 56.64 255.88 56.27 255.38 55.50 254.88 54.12 254.56 53.12 254.68 51.86 255.62 51.12 257.05 50.83 258.38 50.85 259.62 51.10 260.62 51.62 261.37 52.70 262.12 53.85 262.12Z"/><path fill-rule="evenodd" fill="rgb(20,20,20)" d="M76.38 282.65 74.12 282.74 72.12 282.47 70.38 281.82 68.62 280.77 66.28 278.88 63.02 274.12 60.38 271.80 58.62 271.24 55.88 271.20 51.88 272.09 49.38 273.11 47.88 274.00 43.38 275.82 39.62 276.47 38.38 276.48 35.88 275.95 34.38 275.26 33.58 274.62 32.57 273.38 31.70 271.88 28.38 263.61 26.31 259.12 25.24 255.62 24.69 251.88 24.63 249.38 24.82 246.62 25.47 242.62 26.21 240.12 27.51 237.88 30.62 234.27 32.38 232.87 34.12 231.89 36.12 231.20 38.12 230.93 40.88 231.19 47.12 233.02 50.62 234.71 52.38 235.76 53.38 235.62 56.88 233.52 57.88 233.41 58.92 234.12 61.62 238.29 62.12 238.66 62.88 238.75 63.62 238.61 66.44 237.38 73.12 232.96 75.62 231.75 77.62 231.07 79.12 230.84 81.38 230.82 83.88 231.23 85.62 231.84 87.22 233.12 88.87 235.38 89.76 237.88 90.18 240.38 90.52 244.88 90.61 248.62 90.30 260.38 89.95 264.12 89.26 267.88 88.02 272.38 87.23 274.38 85.67 276.88 84.10 278.88 82.62 280.26 80.38 281.57 77.62 282.47 76.38 282.65ZM53.39 262.38 55.12 262.01 56.27 260.88 56.38 259.99 55.03 258.62 56.17 257.88 56.93 256.38 56.83 255.88 56.38 255.24 55.62 254.75 54.38 254.42 53.12 254.51 51.88 255.40 51.12 256.65 50.71 258.12 50.71 259.62 51.04 260.88 51.88 261.88 52.62 262.27 53.39 262.38Z"/><path fill-rule="evenodd" fill="rgb(31,31,31)" d="M76.62 282.14 75.12 282.33 72.62 282.23 70.88 281.71 69.88 281.21 66.62 278.86 63.60 274.38 61.52 272.38 60.12 271.35 58.62 270.97 55.62 270.97 51.88 271.82 44.38 275.16 43.12 275.63 41.38 275.96 39.38 276.24 38.12 276.17 35.62 275.58 33.95 274.62 32.71 273.12 32.01 271.88 29.77 266.38 27.23 258.38 25.92 252.62 25.68 246.88 26.06 242.62 26.77 240.12 28.08 238.12 31.38 234.95 32.38 234.20 34.62 232.95 36.88 232.42 40.62 232.35 43.38 232.55 45.38 232.96 47.88 233.67 50.62 235.04 51.88 235.88 52.62 236.07 53.62 235.80 56.88 233.81 57.88 233.68 58.79 234.38 61.38 238.40 61.88 238.85 62.62 239.02 63.62 238.89 66.54 237.62 73.12 233.42 77.38 231.67 79.38 231.31 81.88 231.24 84.88 231.83 86.58 232.88 88.56 235.38 89.54 238.12 89.90 240.38 90.22 244.88 90.28 248.62 89.93 254.12 88.90 264.12 88.27 268.38 87.42 272.12 86.70 274.12 85.17 276.38 83.14 278.88 82.38 279.55 79.88 281.03 76.62 282.14ZM54.05 262.38 55.22 262.12 56.44 260.88 56.50 259.88 55.30 258.62 56.12 258.13 56.62 257.49 57.09 256.12 56.62 255.29 55.62 254.59 53.62 254.28 52.63 254.62 51.52 255.62 50.84 257.12 50.59 258.12 50.56 259.38 50.89 260.88 51.67 261.88 52.88 262.48 54.05 262.38Z"/><path fill-rule="evenodd" fill="rgb(41,41,41)" d="M76.38 281.91 74.12 282.09 72.38 281.94 70.62 281.34 68.98 280.38 66.62 278.51 63.38 273.76 60.62 271.33 58.88 270.73 55.62 270.69 51.88 271.54 44.39 274.88 43.09 275.38 41.38 275.70 39.38 275.98 38.12 275.92 35.88 275.42 34.12 274.46 33.00 273.12 32.27 271.88 30.04 266.38 27.78 259.12 26.22 252.38 26.00 246.88 26.32 242.88 26.97 240.38 28.23 238.38 31.62 235.16 32.62 234.43 34.62 233.30 37.12 232.73 42.88 232.80 45.38 233.23 47.88 233.94 50.62 235.32 51.88 236.16 52.62 236.33 53.88 235.97 56.88 234.12 57.88 233.99 58.62 234.62 61.20 238.62 61.88 239.16 62.62 239.29 63.62 239.16 66.38 237.98 73.38 233.58 77.38 231.95 79.38 231.58 81.88 231.50 84.88 232.08 86.38 233.01 88.38 235.53 89.30 238.12 89.67 240.38 89.98 244.88 90.04 248.38 89.67 253.88 87.94 268.38 87.12 272.12 86.51 273.88 84.99 276.12 82.97 278.62 82.38 279.19 79.62 280.82 76.38 281.91ZM53.63 262.62 55.38 262.22 56.47 261.12 56.75 260.38 56.68 259.88 55.57 258.62 56.12 258.31 56.72 257.62 57.24 256.38 57.18 255.88 56.62 255.07 55.62 254.44 54.38 254.16 53.12 254.24 51.62 255.31 50.79 256.88 50.48 258.12 50.47 259.62 50.91 261.12 51.88 262.19 52.62 262.56 53.63 262.62Z"/><path fill-rule="evenodd" fill="rgb(51,51,51)" d="M76.62 281.63 74.12 281.85 72.38 281.69 70.74 281.12 69.05 280.12 66.85 278.38 63.91 273.88 61.88 271.81 60.62 270.78 58.88 270.20 55.88 270.14 53.88 270.51 51.38 271.27 49.12 272.23 47.12 273.38 43.45 274.88 41.30 275.38 39.38 275.66 38.27 275.62 35.95 275.12 34.38 274.30 32.62 272.05 30.29 266.38 28.04 259.12 26.47 252.38 26.24 246.88 26.55 242.88 27.22 240.38 28.32 238.62 31.62 235.48 32.77 234.62 34.88 233.47 37.12 232.98 42.88 233.04 45.12 233.42 47.68 234.12 50.62 235.62 51.88 236.47 52.62 236.63 53.88 236.36 56.98 234.62 57.62 234.49 58.12 234.82 60.02 237.88 61.01 239.12 61.62 239.56 62.38 239.70 63.88 239.48 66.62 238.19 73.38 233.83 77.62 232.12 79.38 231.80 81.88 231.74 84.88 232.33 86.14 233.12 88.15 235.62 89.03 238.12 89.42 240.38 89.73 244.88 89.81 248.38 89.45 253.88 87.75 268.12 86.88 272.12 86.24 273.88 82.87 278.38 82.12 279.07 79.62 280.55 76.62 281.63ZM54.41 262.62 55.38 262.48 56.76 261.12 57.00 260.38 56.96 259.88 56.02 258.88 56.00 258.62 56.98 257.62 57.50 256.12 56.88 255.04 55.88 254.37 54.62 254.03 53.62 254.01 52.38 254.52 51.26 255.62 50.43 257.88 50.35 259.62 50.75 261.12 51.62 262.21 52.88 262.80 54.41 262.62Z"/><path fill-rule="evenodd" fill="rgb(61,61,61)" d="M76.38 281.40 74.88 281.55 72.62 281.41 70.11 280.38 68.62 279.38 67.12 278.04 65.88 276.20 64.85 274.12 64.31 272.12 63.05 260.88 62.92 256.38 63.20 252.12 63.74 248.62 64.58 245.12 65.98 240.88 66.95 238.88 68.57 237.38 73.83 233.88 77.62 232.35 79.38 232.03 81.88 231.99 84.62 232.56 85.94 233.38 87.88 235.86 88.74 238.38 89.11 240.62 89.53 248.38 89.21 253.88 88.59 259.88 87.52 268.12 86.64 272.12 85.97 273.88 84.59 275.88 82.12 278.76 79.38 280.39 76.38 281.40ZM38.62 274.66 36.38 274.56 35.12 274.14 34.38 273.66 32.88 271.87 31.38 268.52 28.62 260.39 27.35 255.62 26.70 252.38 26.47 246.88 26.79 242.88 27.38 240.62 28.38 238.92 32.10 235.38 34.12 234.08 35.16 233.62 37.12 233.22 43.38 233.33 47.49 234.38 50.25 235.88 52.36 237.38 52.78 237.88 54.18 241.62 55.04 245.38 55.43 249.38 55.30 253.12 55.18 253.62 53.38 253.84 52.38 254.31 51.25 255.38 50.54 256.88 50.21 258.62 50.45 260.88 51.20 262.12 52.23 263.12 51.50 264.62 49.94 266.88 47.38 269.58 43.26 272.62 40.88 274.01 38.62 274.66Z"/><path fill-rule="evenodd" fill="rgb(71,71,71)" d="M76.62 280.90 74.01 280.88 72.62 280.43 70.88 279.57 68.38 277.66 67.38 276.38 66.73 275.12 66.29 273.62 66.11 272.12 66.30 267.12 65.60 258.62 65.83 253.38 66.44 249.38 67.47 245.38 69.49 239.88 71.08 236.62 72.02 235.62 73.62 234.38 76.89 232.88 79.12 232.34 81.62 232.29 83.95 232.88 85.33 233.88 86.91 236.12 87.82 238.62 88.22 240.88 89.04 248.62 88.92 253.88 88.35 259.88 87.25 268.12 86.38 271.99 85.62 273.86 84.38 275.65 82.09 278.38 79.11 280.12 76.62 280.90ZM37.62 273.38 36.38 273.29 35.12 272.89 33.92 272.12 33.12 271.26 32.12 269.30 29.12 261.01 27.62 255.69 26.92 252.12 26.74 246.88 27.10 242.88 27.75 240.62 28.62 239.12 32.12 235.73 34.19 234.38 35.38 233.85 37.38 233.48 43.03 233.62 45.80 234.38 47.13 235.12 48.74 237.12 50.27 239.88 51.45 243.12 52.14 246.38 52.40 249.88 52.18 253.38 51.96 254.12 50.99 255.38 50.42 256.62 50.02 258.12 49.88 260.91 48.38 263.41 46.97 265.12 44.38 267.69 42.37 270.62 41.38 271.75 39.62 272.92 37.62 273.38Z"/><path fill-rule="evenodd" fill="rgb(82,82,82)" d="M77.62 278.88 74.12 278.94 71.38 278.29 70.12 277.63 69.16 276.88 68.31 275.88 67.75 274.88 67.35 273.62 67.20 272.38 67.99 266.38 67.41 260.12 67.41 255.88 67.84 251.88 68.73 247.88 71.47 239.88 72.69 237.12 73.90 235.38 75.38 234.12 77.54 233.12 80.12 232.80 82.12 233.21 83.88 234.30 85.26 235.88 86.23 237.88 86.74 240.38 87.07 246.12 88.24 252.88 88.18 257.62 87.51 264.12 86.88 267.97 85.88 271.51 85.38 272.68 83.62 275.35 81.88 277.12 79.88 278.29 77.62 278.88ZM37.38 272.63 35.88 272.38 34.62 271.71 33.57 270.62 32.91 269.38 32.08 264.88 29.62 260.65 27.88 255.16 27.29 251.88 27.22 246.62 27.73 243.38 28.62 240.97 29.86 238.88 31.88 236.72 33.59 235.38 35.61 234.38 37.62 234.00 40.12 234.04 42.12 234.47 44.12 235.63 46.12 237.50 47.80 239.88 48.99 242.38 49.88 245.38 50.31 248.38 50.31 251.62 49.98 254.12 49.42 256.38 48.57 258.62 47.50 260.62 46.12 262.51 43.38 265.50 42.88 266.48 41.93 269.38 41.01 270.88 39.38 272.16 37.38 272.63Z"/><path fill-rule="evenodd" fill="rgb(92,92,92)" d="M74.38 277.63 72.12 277.48 70.38 276.73 68.97 275.38 68.18 273.62 68.03 272.38 68.14 271.12 69.20 267.62 69.43 266.12 68.79 258.88 69.10 253.38 70.15 248.62 73.11 239.38 73.99 237.38 75.32 235.62 76.88 234.48 78.62 233.89 80.38 233.87 82.12 234.43 83.62 235.53 84.77 237.12 85.40 238.88 85.64 240.88 85.57 246.38 86.75 252.38 87.16 255.88 87.20 259.38 86.87 262.88 86.30 265.88 85.35 268.88 84.15 271.38 82.76 273.38 81.12 274.95 79.38 276.04 76.62 277.16 74.38 277.63ZM38.38 271.93 36.88 272.04 35.62 271.66 34.54 270.88 33.69 269.62 33.26 267.88 33.37 264.88 33.21 263.88 30.46 258.88 29.38 256.38 28.55 253.12 28.28 249.88 28.49 247.12 29.03 244.62 29.98 242.12 31.31 239.88 32.88 238.10 34.62 236.82 36.38 236.08 38.38 235.79 40.38 236.06 42.38 236.91 44.12 238.21 45.62 239.91 46.88 241.96 47.85 244.38 48.48 247.12 48.70 249.88 48.30 253.88 47.06 257.62 45.59 260.12 42.14 264.38 41.81 265.38 41.49 268.38 40.78 270.12 39.62 271.34 38.38 271.93Z"/><path fill-rule="evenodd" fill="rgb(102,102,102)" d="M74.12 276.65 72.38 276.66 70.62 275.98 69.38 274.66 68.82 273.12 68.78 272.12 69.00 270.88 70.44 267.62 70.73 266.38 70.06 259.12 70.34 253.88 71.10 250.38 73.06 244.88 74.16 239.88 74.94 237.88 76.04 236.38 77.38 235.38 78.88 234.88 80.38 234.88 81.88 235.41 83.11 236.38 83.96 237.62 84.48 239.12 84.63 241.12 84.15 246.38 85.49 252.62 85.89 255.38 86.02 259.12 85.72 262.62 85.23 265.12 84.44 267.62 83.38 269.88 82.18 271.62 80.62 273.13 78.00 274.88 75.88 276.09 74.12 276.65ZM38.38 271.42 37.12 271.58 35.88 271.25 34.88 270.52 34.14 269.38 33.82 267.62 34.34 264.62 34.30 263.62 31.74 258.38 30.73 255.88 29.94 252.88 29.67 249.88 29.84 247.38 30.31 245.12 31.04 243.12 32.15 241.12 33.62 239.41 35.12 238.30 36.62 237.67 38.38 237.43 40.12 237.70 41.62 238.35 43.12 239.46 44.59 241.12 45.76 243.12 46.52 245.12 47.03 247.38 47.22 249.88 46.91 253.12 45.88 256.38 44.65 258.62 41.62 262.68 40.96 263.88 40.78 264.88 40.96 267.88 40.59 269.38 39.71 270.62 38.38 271.42Z"/><path fill-rule="evenodd" fill="rgb(112,112,112)" d="M73.38 275.90 71.88 275.76 70.69 275.12 69.87 274.12 69.49 272.88 69.52 271.88 69.79 270.88 71.61 267.88 71.97 266.62 71.17 259.12 71.23 256.38 71.55 253.88 72.39 250.62 74.55 245.38 75.16 240.38 75.81 238.38 76.68 237.12 77.88 236.23 79.12 235.83 80.38 235.86 81.62 236.36 82.53 237.12 83.29 238.38 83.62 239.62 83.59 241.62 82.78 245.12 82.69 246.62 82.96 248.12 84.32 252.62 84.86 255.62 85.04 259.38 84.67 263.12 84.16 265.38 83.45 267.38 82.62 269.00 81.62 270.40 80.38 271.59 75.62 275.04 74.49 275.62 73.38 275.90ZM37.62 271.14 36.62 271.06 35.62 270.59 34.92 269.88 34.44 268.88 34.37 267.12 35.30 264.38 35.31 263.38 33.20 259.12 31.78 255.38 30.99 252.12 30.79 249.12 31.00 246.88 31.49 244.88 32.19 243.12 33.10 241.62 34.38 240.21 35.62 239.34 36.88 238.84 38.38 238.66 39.88 238.93 41.38 239.65 42.62 240.68 43.79 242.12 44.75 243.88 45.44 245.88 45.82 247.88 45.92 250.12 45.53 253.12 44.57 255.88 43.21 258.38 39.85 263.62 39.79 264.62 40.43 267.38 40.18 269.12 39.77 269.88 39.12 270.54 37.62 271.14Z"/><path fill-rule="evenodd" fill="rgb(122,122,122)" d="M73.88 274.93 72.62 275.10 71.38 274.69 70.58 273.88 70.21 272.62 70.34 271.62 70.66 270.88 72.79 268.38 73.13 267.38 73.09 266.12 72.15 260.12 72.14 257.62 72.40 255.12 72.91 252.88 73.62 250.89 76.09 246.62 76.47 245.62 76.56 244.62 76.23 241.12 76.62 239.12 77.18 238.12 78.12 237.27 79.12 236.88 80.12 236.87 81.12 237.24 81.86 237.88 82.33 238.62 82.63 239.62 82.68 240.62 82.46 241.88 81.06 245.12 80.84 246.38 81.14 247.62 83.12 252.12 83.91 255.12 84.27 259.12 83.97 262.88 83.02 266.38 82.31 267.88 81.38 269.24 79.88 270.60 77.13 272.12 75.19 274.12 73.88 274.93ZM37.88 270.67 36.88 270.69 36.05 270.38 35.38 269.78 34.89 268.88 34.76 267.88 35.02 266.62 36.60 264.12 36.74 263.62 34.57 260.12 33.31 257.12 32.00 252.62 31.63 249.12 31.78 247.12 32.16 245.38 32.71 243.88 33.56 242.38 34.62 241.13 35.62 240.36 36.88 239.80 38.12 239.62 39.38 239.77 40.62 240.30 41.88 241.25 42.88 242.43 43.71 243.88 44.37 245.62 44.75 247.38 44.89 249.38 44.55 252.38 43.52 255.38 41.11 259.88 38.38 263.62 38.43 264.12 39.76 266.62 39.95 268.12 39.38 269.69 38.62 270.37 37.88 270.67Z"/><path fill-rule="evenodd" fill="rgb(133,133,133)" d="M79.88 242.95 79.12 243.09 78.38 242.70 77.88 241.93 77.62 240.88 77.72 239.88 78.12 238.98 78.80 238.38 79.62 238.14 80.38 238.31 80.88 238.68 81.30 239.38 81.45 240.12 81.12 241.62 80.62 242.36 79.88 242.95ZM38.38 261.64 37.38 261.81 36.62 261.46 35.62 260.39 34.89 259.12 32.91 253.38 32.44 251.12 32.28 249.12 32.38 247.38 32.74 245.62 33.29 244.12 34.00 242.88 34.88 241.82 35.88 241.04 36.88 240.58 38.12 240.39 39.38 240.58 40.38 241.02 41.38 241.79 42.31 242.88 43.03 244.12 43.60 245.62 44.09 248.88 43.77 251.88 42.74 254.88 40.29 259.62 39.38 260.84 38.38 261.64ZM73.12 274.14 72.38 274.13 71.62 273.73 71.22 273.12 71.10 272.38 71.30 271.62 71.84 270.88 74.02 269.62 74.44 268.88 74.33 267.62 73.29 263.38 72.93 260.88 72.91 257.88 73.28 255.12 74.15 252.38 75.38 250.24 77.12 248.63 77.88 248.33 78.62 248.31 79.88 248.95 81.12 250.33 82.12 252.04 82.92 254.12 83.43 256.38 83.66 258.88 83.59 261.38 83.24 263.62 82.23 266.62 80.88 268.66 79.12 269.93 75.88 270.83 74.42 273.38 73.12 274.14ZM38.12 270.15 37.12 270.30 36.38 270.07 35.62 269.41 35.27 268.62 35.23 267.62 35.57 266.62 36.38 265.65 37.12 265.27 37.88 265.31 38.62 265.82 39.12 266.51 39.45 267.38 39.47 268.38 39.23 269.12 38.88 269.63 38.12 270.15Z"/><path fill-rule="evenodd" fill="rgb(143,143,143)" d="M38.38 260.40 37.62 260.60 36.88 260.37 36.12 259.70 35.38 258.49 33.46 253.12 33.00 251.12 32.81 249.12 33.20 245.88 34.31 243.38 35.12 242.38 36.12 241.60 37.12 241.17 38.12 241.04 39.12 241.18 40.12 241.61 41.11 242.38 41.88 243.29 42.99 245.62 43.46 248.62 43.19 251.38 42.27 254.12 39.88 258.82 39.12 259.81 38.38 260.40ZM78.62 269.19 77.62 269.27 76.62 268.98 75.88 268.38 75.38 267.65 74.59 265.88 73.98 263.88 73.46 259.88 73.73 256.38 74.74 253.12 75.45 251.88 76.38 250.83 77.12 250.31 78.12 250.02 79.12 250.17 79.88 250.59 80.88 251.58 81.62 252.73 82.77 255.88 83.18 259.38 82.90 262.88 82.00 265.88 81.31 267.12 80.49 268.12 79.62 268.79 78.62 269.19ZM38.12 269.65 37.38 269.86 36.62 269.69 36.12 269.31 35.74 268.62 35.67 267.88 35.88 267.15 36.38 266.47 36.88 266.16 37.62 266.08 38.12 266.28 38.93 267.38 38.94 268.62 38.62 269.22 38.12 269.65Z"/><path fill-rule="evenodd" fill="rgb(153,153,153)" d="M37.62 259.39 36.89 259.12 36.38 258.64 35.07 256.12 33.59 251.62 33.26 248.38 33.66 245.88 34.71 243.62 35.38 242.83 36.38 242.07 38.12 241.61 39.12 241.77 40.12 242.26 41.62 243.82 42.63 246.12 42.96 248.88 42.49 251.88 41.23 254.88 39.12 258.48 38.38 259.17 37.62 259.39ZM78.62 268.42 77.62 268.40 76.88 268.08 76.12 267.42 75.43 266.38 74.35 263.38 73.94 259.88 74.29 256.38 75.26 253.62 76.62 251.86 77.38 251.39 78.38 251.18 79.12 251.33 79.88 251.75 80.62 252.47 81.39 253.62 82.39 256.38 82.77 259.62 82.49 262.88 81.61 265.62 80.38 267.44 79.62 268.03 78.62 268.42ZM37.88 269.15 37.38 269.30 36.88 269.20 36.32 268.62 36.22 268.12 36.38 267.46 37.12 266.84 37.88 266.96 38.39 267.62 38.38 268.56 37.88 269.15Z"/><path fill-rule="evenodd" fill="rgb(163,163,163)" d="M38.12 258.00 37.38 258.05 36.88 257.77 35.62 255.89 34.09 251.88 33.65 248.62 33.99 246.12 35.05 243.88 36.38 242.62 37.12 242.28 38.12 242.13 39.12 242.31 39.88 242.68 41.29 244.12 42.18 246.12 42.52 248.62 42.26 250.88 41.38 253.37 39.38 256.80 38.12 258.00ZM78.88 267.69 78.12 267.76 77.38 267.57 76.62 267.05 75.88 266.11 74.78 263.38 74.36 260.38 74.56 257.38 75.40 254.62 76.12 253.42 76.88 252.65 77.62 252.23 78.38 252.10 79.12 252.24 79.88 252.68 81.12 254.24 82.02 256.62 82.40 259.38 82.21 262.38 81.50 264.88 80.38 266.71 79.62 267.35 78.88 267.69Z"/><path fill-rule="evenodd" fill="rgb(173,173,173)" d="M38.12 256.72 37.38 256.74 36.88 256.43 35.62 254.61 34.43 251.62 34.00 248.62 34.29 246.38 35.18 244.38 36.62 242.99 38.12 242.60 39.62 243.05 40.97 244.38 41.85 246.38 42.13 248.62 41.84 250.88 40.98 253.12 39.38 255.63 38.12 256.72ZM78.62 267.14 77.88 267.10 77.12 266.74 75.96 265.38 75.03 262.88 74.71 260.12 74.97 257.38 75.70 255.12 76.88 253.50 77.62 253.03 78.38 252.88 79.12 253.02 79.73 253.38 80.94 254.88 81.76 257.12 82.08 259.88 81.83 262.62 81.12 264.81 80.05 266.38 79.38 266.88 78.62 267.14Z"/><path fill-rule="evenodd" fill="rgb(184,184,184)" d="M37.88 255.66 37.38 255.59 36.62 255.04 35.41 253.12 34.55 250.62 34.34 248.38 34.64 246.38 35.45 244.62 36.62 243.48 38.12 243.06 39.62 243.56 40.68 244.62 41.49 246.38 41.78 248.62 41.44 250.88 40.61 252.88 39.12 254.92 37.88 255.66ZM79.12 266.43 78.38 266.59 77.62 266.42 76.45 265.38 75.51 263.38 75.07 260.88 75.19 258.12 75.88 255.77 77.03 254.12 77.62 253.74 78.38 253.56 79.62 254.01 80.62 255.19 81.41 257.12 81.76 259.38 81.69 261.62 81.15 263.88 80.37 265.38 79.12 266.43Z"/><path fill-rule="evenodd" fill="rgb(194,194,194)" d="M38.12 254.69 37.12 254.52 35.88 253.08 34.96 250.88 34.65 248.62 34.90 246.62 35.62 244.99 36.88 243.80 38.12 243.49 39.38 243.88 40.41 244.88 41.14 246.38 41.45 248.38 41.21 250.38 40.56 252.12 39.38 253.84 38.12 254.69ZM79.12 265.89 77.88 265.96 77.12 265.50 76.62 264.93 75.78 263.12 75.38 260.88 75.48 258.38 76.12 256.17 77.12 254.74 78.38 254.19 79.38 254.49 80.41 255.62 81.14 257.38 81.47 259.38 81.40 261.62 80.90 263.62 80.12 265.06 79.12 265.89Z"/><path fill-rule="evenodd" fill="rgb(204,204,204)" d="M38.12 253.91 37.12 253.71 35.95 252.38 35.23 250.62 34.95 248.62 35.15 246.88 35.88 245.23 36.88 244.25 38.12 243.92 39.38 244.35 40.32 245.38 40.94 246.88 41.13 248.38 40.93 250.12 40.26 251.88 39.12 253.36 38.12 253.91ZM78.88 265.47 78.12 265.50 77.62 265.31 76.71 264.38 75.96 262.62 75.65 260.62 75.80 258.38 76.38 256.52 77.38 255.18 78.38 254.79 79.38 255.11 80.26 256.12 80.88 257.62 81.20 259.62 81.12 261.62 80.62 263.48 79.88 264.76 78.88 265.47Z"/><path fill-rule="evenodd" fill="rgb(214,214,214)" d="M38.38 253.16 37.38 253.14 36.38 252.26 35.57 250.62 35.26 248.88 35.35 247.38 35.88 245.86 36.88 244.72 37.88 244.35 38.88 244.52 39.88 245.35 40.54 246.62 40.81 248.12 40.71 249.62 40.23 251.12 39.38 252.44 38.38 253.16ZM78.88 264.95 77.88 264.90 76.88 263.97 76.20 262.38 75.94 260.62 76.06 258.62 76.61 256.88 77.38 255.81 78.38 255.36 79.38 255.72 80.12 256.62 80.64 257.88 80.93 259.62 80.87 261.38 80.43 263.12 79.69 264.38 78.88 264.95Z"/><path fill-rule="evenodd" fill="rgb(224,224,224)" d="M38.62 252.42 37.62 252.58 36.63 251.88 35.93 250.62 35.58 249.12 35.62 247.62 36.11 246.12 36.88 245.20 37.88 244.78 38.88 244.98 39.62 245.61 40.19 246.62 40.48 247.88 40.43 249.38 40.06 250.62 39.38 251.78 38.62 252.42ZM78.88 264.43 77.88 264.37 77.12 263.67 76.52 262.38 76.23 260.62 76.33 258.88 76.77 257.38 77.45 256.38 78.38 255.93 79.12 256.14 79.88 256.94 80.38 258.12 80.65 259.62 80.62 261.12 80.29 262.62 79.62 263.86 78.88 264.43Z"/><path fill-rule="evenodd" fill="rgb(235,235,235)" d="M38.38 251.93 37.62 251.96 36.79 251.38 36.12 250.14 35.87 248.88 35.94 247.62 36.37 246.38 37.12 245.51 37.88 245.23 38.62 245.34 39.38 245.90 39.93 246.88 40.18 248.12 40.09 249.38 39.66 250.62 39.12 251.40 38.38 251.93ZM78.88 263.88 78.12 263.92 77.38 263.35 76.78 262.12 76.52 260.62 76.60 259.12 76.95 257.88 77.62 256.86 78.38 256.51 79.12 256.75 79.68 257.38 80.13 258.38 80.38 259.88 80.33 261.12 80.04 262.38 79.50 263.38 78.88 263.88Z"/><path fill-rule="evenodd" fill="rgb(245,245,245)" d="M38.12 251.39 37.38 251.22 36.79 250.62 36.35 249.62 36.20 248.38 36.38 247.26 36.82 246.38 37.38 245.88 38.12 245.70 38.88 246.01 39.38 246.58 39.71 247.38 39.85 248.38 39.73 249.38 39.38 250.33 38.88 250.99 38.12 251.39ZM78.62 263.38 77.88 263.19 77.38 262.62 76.99 261.62 76.82 260.38 76.93 259.12 77.26 258.12 77.81 257.38 78.38 257.12 79.12 257.40 79.62 258.08 80.08 260.12 79.98 261.38 79.66 262.38 79.12 263.12 78.62 263.38Z"/></g><circle cx="40.4" cy="225.4" r="0.4" fill="#555"/><circle cx="53.4" cy="230.1" r="0.4" fill="#555"/><circle cx="92.4" cy="244.4" r="0.4" fill="#555"/><circle cx="94.6" cy="257.1" r="0.4" fill="#555"/><circle cx="74.9" cy="226.4" r="0.4" fill="#555"/><circle cx="67.6" cy="284.1" r="0.4" fill="#555"/><circle cx="34.4" cy="227.1" r="0.4" fill="#555"/><circle cx="40.6" cy="278.6" r="0.4" fill="#555"/><circle cx="71.6" cy="287.9" r="0.4" fill="#555"/><circle cx="86.6" cy="230.4" r="0.4" fill="#555"/><circle cx="69.4" cy="232.9" r="0.4" fill="#555"/><circle cx="23.6" cy="267.4" r="0.4" fill="#555"/><circle cx="70.6" cy="285.6" r="0.4" fill="#555"/><circle cx="54.1" cy="273.1" r="0.4" fill="#555"/><circle cx="92.4" cy="266.1" r="0.4" fill="#555"/><circle cx="38.4" cy="223.9" r="0.4" fill="#555"/><circle cx="23.6" cy="234.6" r="0.4" fill="#555"/><circle cx="94.1" cy="253.1" r="0.4" fill="#555"/><circle cx="87.4" cy="232.4" r="0.4" fill="#555"/><circle cx="37.1" cy="276.6" r="0.4" fill="#555"/><circle cx="63.6" cy="280.6" r="0.4" fill="#555"/><circle cx="47.9" cy="275.1" r="0.4" fill="#555"/><circle cx="93.6" cy="236.9" r="0.4" fill="#555"/><circle cx="32.4" cy="277.6" r="0.4" fill="#555"/><circle cx="42.4" cy="278.4" r="0.4" fill="#555"/><circle cx="98.1" cy="265.4" r="0.4" fill="#555"/><circle cx="85.9" cy="230.9" r="0.4" fill="#555"/><circle cx="45.1" cy="276.6" r="0.4" fill="#555"/><circle cx="42.9" cy="277.4" r="0.4" fill="#555"/><circle cx="92.6" cy="246.4" r="0.4" fill="#555"/></g><g clip-path="url(#cB2)"><g filter="url(#jet)"><rect x="96.5" y="211.5" width="83.5" height="82.19999999999999" fill="#000"/><path fill-rule="evenodd" fill="rgb(10,10,10)" d="M114.38 289.63 111.56 289.62 111.12 289.08 110.12 288.83 109.38 289.02 108.25 289.62 106.52 289.62 106.01 288.12 104.83 286.62 104.35 285.62 104.19 284.88 104.32 283.62 102.62 282.80 101.33 280.38 101.45 279.88 102.58 278.38 102.72 277.88 102.38 277.22 101.03 276.38 100.62 275.17 100.56 273.88 100.59 236.88 100.62 235.98 101.11 235.12 102.25 231.62 102.31 229.38 102.52 228.88 103.38 228.17 104.88 227.54 106.12 225.39 107.49 224.62 107.57 224.38 106.64 223.88 106.58 223.62 106.88 223.35 108.12 223.61 109.88 223.32 111.62 224.34 113.38 224.61 114.88 225.21 116.88 224.72 117.51 225.38 117.88 226.74 119.38 227.31 119.88 227.88 120.38 227.49 120.98 226.38 121.62 225.90 123.12 225.70 124.38 226.00 125.36 226.88 125.76 228.38 125.16 232.12 125.14 234.88 125.62 237.67 126.12 238.82 126.62 239.28 126.88 239.09 127.38 236.56 128.06 230.88 128.51 229.88 129.38 229.20 131.94 228.12 133.88 226.25 136.07 225.38 136.44 224.62 136.24 224.12 135.55 223.38 135.56 223.12 137.63 222.12 138.63 220.38 140.88 218.19 142.38 217.40 143.38 216.46 145.62 216.28 146.83 215.62 154.88 215.54 157.92 215.62 158.61 215.88 158.97 216.38 159.34 217.62 160.90 218.88 161.88 220.53 163.38 221.15 163.95 221.62 164.15 222.12 164.19 223.62 164.62 224.28 165.12 224.47 166.88 224.40 167.88 224.71 168.88 225.37 170.05 226.62 171.18 229.12 171.76 231.38 172.04 234.12 171.53 240.38 170.62 243.38 170.23 245.62 169.75 246.62 168.35 248.62 164.45 253.12 163.95 254.12 163.69 255.62 161.74 258.62 161.65 259.88 161.17 261.62 161.90 263.62 161.86 264.38 161.12 266.15 159.38 266.84 158.82 267.62 158.45 269.62 158.93 271.38 158.66 272.12 157.38 273.54 156.88 273.70 155.62 273.68 155.22 273.88 154.38 275.61 153.12 276.05 152.80 276.38 152.67 276.88 152.83 277.88 152.62 278.20 151.12 278.78 147.88 280.94 146.12 281.81 142.88 282.12 137.38 281.69 132.38 281.59 130.62 281.27 127.38 281.13 123.88 281.72 121.80 281.88 120.54 282.88 120.01 284.38 118.51 285.88 118.15 286.62 117.86 288.12 117.38 288.84 116.88 289.03 116.62 288.62 117.23 287.12 117.24 286.62 116.71 286.12 116.12 286.12 115.62 286.50 114.56 288.12 114.38 289.63Z"/><path fill-rule="evenodd" fill="rgb(20,20,20)" d="M111.88 283.42 111.12 283.52 110.62 283.33 108.62 281.60 106.77 280.88 106.51 280.38 106.58 278.12 106.12 277.15 105.12 276.13 103.46 275.62 102.99 274.88 102.85 273.62 103.05 272.88 103.38 272.52 104.38 272.18 104.36 271.88 104.06 271.62 102.88 271.39 102.12 271.03 100.69 269.12 100.75 268.62 101.44 267.38 101.36 266.88 100.62 266.05 100.61 265.62 100.59 252.38 100.62 251.78 101.10 250.88 101.22 250.12 100.93 248.38 101.16 246.62 100.83 244.88 101.53 242.62 101.73 239.88 102.05 238.88 103.14 237.38 104.00 235.12 106.03 233.62 107.38 231.65 109.62 230.89 110.88 229.53 111.88 229.12 112.88 229.26 113.62 230.29 114.12 230.55 118.62 229.95 120.26 228.88 120.88 227.96 121.42 226.62 121.88 226.24 123.12 226.07 124.38 226.40 125.08 227.12 125.37 228.62 124.78 232.12 124.67 235.12 126.21 241.88 126.88 242.97 127.12 242.78 127.62 241.12 127.64 237.62 128.40 231.12 128.82 230.12 129.62 229.55 133.87 228.12 134.88 227.42 139.19 225.38 140.65 223.12 142.38 221.13 143.38 219.12 144.38 218.16 145.12 217.76 148.12 216.81 149.88 216.63 151.88 216.78 153.62 216.38 154.62 216.50 157.12 218.30 159.16 220.12 159.48 220.62 159.91 222.38 160.40 222.88 162.12 223.54 162.90 225.12 163.62 225.32 167.12 224.93 168.12 225.33 169.38 226.40 170.74 228.88 171.43 231.62 171.65 234.12 171.09 240.38 170.13 243.62 169.82 245.62 168.05 248.38 163.13 253.88 161.73 257.12 160.62 258.81 160.02 261.12 158.01 266.38 156.91 268.12 155.26 271.38 151.62 276.37 150.11 278.88 147.38 280.73 146.12 281.38 145.38 281.56 143.12 281.76 137.38 281.36 132.62 281.32 130.88 281.00 126.88 280.69 124.12 281.16 118.87 281.62 114.38 283.00 112.88 283.07 111.88 283.42Z"/><path fill-rule="evenodd" fill="rgb(31,31,31)" d="M114.62 281.88 110.88 281.78 109.62 281.02 108.46 279.88 107.86 278.12 106.56 275.62 106.71 273.62 106.53 272.88 105.12 270.14 103.79 269.12 103.67 267.38 103.11 265.88 102.88 264.14 102.22 262.62 102.12 260.76 101.42 259.62 101.56 257.88 101.10 255.88 101.00 253.62 101.53 250.38 101.40 248.62 101.60 246.88 101.52 244.62 102.34 239.38 103.62 237.38 104.20 235.88 104.62 235.29 107.62 232.78 108.62 232.18 111.38 231.24 113.38 231.39 114.62 231.24 118.88 230.22 120.35 229.38 120.84 228.88 121.88 226.60 122.62 226.34 123.88 226.49 124.77 227.12 125.05 228.38 124.29 235.12 125.89 241.88 126.38 242.96 126.88 243.55 127.12 243.48 127.38 243.02 127.93 241.12 127.90 237.62 128.51 233.62 128.67 231.12 128.96 230.38 129.88 229.76 133.88 228.52 139.46 225.88 141.38 223.76 142.88 222.62 143.31 221.88 143.90 219.88 144.38 219.30 145.12 218.82 146.12 218.75 147.12 219.33 147.62 219.39 149.88 218.33 151.88 218.65 153.62 217.94 154.38 217.91 156.88 219.40 157.74 220.12 158.42 220.88 159.43 222.62 161.38 224.37 162.38 225.64 163.12 225.83 166.88 225.16 167.88 225.52 169.12 226.56 169.73 227.38 170.55 229.12 171.19 231.62 171.43 234.12 170.84 240.38 169.93 243.38 169.56 245.62 167.74 248.38 162.88 253.71 161.53 256.88 160.34 258.62 159.74 260.88 157.74 266.12 156.64 267.88 155.28 270.62 151.39 276.12 149.88 278.67 146.12 281.10 143.62 281.50 140.88 281.19 132.62 281.11 127.12 280.20 124.12 280.89 121.88 280.98 114.62 281.88Z"/><path fill-rule="evenodd" fill="rgb(41,41,41)" d="M115.12 281.43 113.62 281.57 110.88 281.05 109.88 280.50 109.10 279.62 107.44 276.12 106.96 272.88 103.92 265.88 103.04 262.88 102.87 261.38 102.03 258.88 101.55 256.12 101.42 253.88 101.77 250.38 101.66 248.62 101.87 246.88 101.83 244.62 102.62 239.38 104.02 237.38 104.46 236.12 105.00 235.38 107.88 233.01 108.88 232.45 111.38 231.66 113.38 231.69 115.12 231.44 118.88 230.51 122.28 229.38 122.60 229.12 121.82 228.38 121.88 227.12 122.12 226.81 122.62 226.62 123.88 226.79 124.56 227.38 124.62 228.51 124.38 228.85 123.02 229.12 124.12 229.80 124.40 230.38 124.22 232.88 123.76 235.12 124.42 236.38 124.66 237.88 125.24 239.62 125.56 241.88 126.62 243.77 127.12 243.91 127.49 243.38 128.24 241.12 128.11 237.88 128.98 233.88 128.90 231.38 129.12 230.59 129.66 230.12 134.12 228.68 137.88 226.81 139.62 226.18 141.38 224.18 142.95 223.12 143.73 222.38 144.73 220.62 145.12 220.30 147.12 220.78 150.62 220.03 153.62 218.88 154.24 218.88 156.88 220.24 162.38 226.01 163.12 226.14 166.88 225.40 167.62 225.69 169.01 226.88 170.30 229.12 170.98 231.62 171.24 234.12 170.67 240.12 169.68 243.38 169.33 245.62 167.62 248.18 162.61 253.62 161.28 256.88 160.04 258.62 159.40 261.12 158.21 263.88 157.48 266.12 156.48 267.62 155.15 270.38 152.98 273.62 151.03 276.12 149.88 278.21 149.12 278.74 147.88 278.95 146.77 280.38 145.88 280.95 145.12 281.12 143.38 281.25 142.04 280.88 141.87 279.12 141.38 278.52 140.62 278.23 140.12 278.62 139.92 280.62 139.12 280.92 132.38 280.90 129.28 280.38 128.69 280.12 128.12 279.52 127.38 279.35 126.62 279.51 125.12 280.38 124.12 280.67 120.38 281.03 116.38 281.15 115.12 281.43ZM122.95 247.62 123.34 247.12 123.40 246.62 123.12 246.14 122.88 246.07 122.28 246.38 121.96 247.12 122.14 247.62 122.95 247.62ZM130.03 268.62 130.61 268.12 130.52 267.62 130.12 267.37 128.62 267.41 128.12 267.62 127.69 268.12 127.75 268.38 128.12 268.56 130.03 268.62Z"/><path fill-rule="evenodd" fill="rgb(51,51,51)" d="M114.88 281.18 113.62 281.32 111.12 280.81 110.12 280.32 109.30 279.38 107.74 275.88 107.24 272.88 106.48 271.38 106.01 269.62 104.26 265.88 103.33 262.88 103.12 261.29 102.30 258.88 101.80 256.12 101.70 253.88 101.99 250.38 101.87 248.88 102.11 246.88 102.08 244.62 102.50 242.88 102.59 240.62 102.87 239.38 104.59 237.38 104.87 236.12 105.21 235.62 108.38 232.97 111.12 231.98 114.62 231.77 119.62 230.66 120.88 231.06 122.62 230.25 123.62 230.44 124.09 231.12 123.94 232.88 123.62 233.76 122.65 235.12 122.88 235.56 123.88 236.12 124.12 236.47 124.46 238.12 125.02 239.62 125.13 240.62 124.88 241.42 124.06 241.62 123.72 242.12 124.12 242.42 125.12 242.22 125.62 242.66 126.62 244.12 127.12 244.25 127.53 243.88 128.79 240.88 128.38 239.60 128.37 237.88 128.88 236.10 129.53 235.38 129.73 234.88 129.73 233.62 129.23 231.38 129.51 230.62 131.62 229.66 134.12 228.93 138.12 226.97 139.62 226.62 141.62 224.23 143.07 223.38 145.12 221.79 150.62 220.93 153.12 220.11 153.62 220.19 154.38 220.65 156.12 220.65 158.12 222.05 162.38 226.31 163.12 226.40 166.38 225.61 167.12 225.74 167.64 226.12 168.42 227.38 166.88 228.59 166.69 229.12 166.82 229.62 167.12 230.05 167.62 230.16 168.44 229.12 168.88 228.23 169.12 228.18 169.62 228.59 170.08 229.38 170.68 231.38 171.05 234.12 170.42 240.38 169.48 243.12 169.12 245.55 167.39 248.12 165.46 249.88 162.26 253.62 161.12 256.75 159.72 258.62 159.16 261.12 157.92 263.88 157.24 266.12 156.31 267.38 155.63 269.12 154.62 270.81 152.64 273.62 150.46 276.12 149.88 277.24 149.62 277.44 149.12 276.82 148.62 276.99 147.04 278.38 146.62 279.88 146.27 280.38 145.12 280.90 143.12 280.84 142.87 280.62 142.82 279.38 142.46 278.62 141.38 277.70 139.88 277.09 139.62 277.11 139.44 277.38 139.32 279.88 139.00 280.38 138.62 280.50 135.62 280.42 133.38 280.71 132.12 280.63 129.62 280.00 129.35 279.62 129.25 278.62 128.38 278.36 126.38 278.67 125.62 279.17 124.77 280.12 123.88 280.48 117.88 280.92 116.12 280.67 114.88 281.18ZM123.88 227.68 122.88 227.82 122.45 227.38 122.62 227.11 123.38 227.11 123.87 227.38 123.88 227.68ZM122.74 248.38 123.53 247.88 123.93 246.88 123.82 245.88 123.12 245.37 122.12 245.85 121.44 247.12 121.43 247.62 121.68 248.12 122.12 248.36 122.74 248.38ZM130.56 249.12 131.13 247.38 131.13 246.62 130.12 245.64 129.62 245.52 129.40 247.88 129.88 248.90 130.38 249.26 130.56 249.12ZM130.14 261.88 132.88 261.51 133.18 261.12 132.88 260.81 130.88 259.84 129.88 259.84 129.05 260.12 128.78 260.62 129.07 261.38 129.62 261.86 130.14 261.88ZM126.75 265.12 127.77 264.62 127.91 264.38 127.76 264.12 125.88 263.40 125.11 263.62 124.95 264.12 125.38 264.93 125.88 265.18 126.75 265.12ZM128.35 269.38 130.38 269.35 131.38 268.98 131.59 268.62 131.89 266.38 131.38 266.16 128.62 266.77 126.97 267.62 126.69 268.12 127.12 269.03 127.62 269.41 128.35 269.38ZM138.76 272.12 139.31 271.38 139.30 270.12 138.66 268.88 137.88 268.60 137.16 270.88 137.12 271.62 137.38 272.07 137.88 272.30 138.76 272.12ZM129.44 274.62 129.57 274.38 129.38 273.88 128.80 273.62 128.62 273.88 128.74 274.38 129.12 274.70 129.44 274.62ZM134.29 277.88 136.12 276.91 136.11 276.38 135.84 276.12 135.38 276.12 134.38 276.73 132.38 277.33 131.38 277.01 131.11 277.12 131.21 277.62 131.62 277.91 134.29 277.88Z"/><path fill-rule="evenodd" fill="rgb(61,61,61)" d="M114.62 280.91 113.62 281.09 111.38 280.66 110.21 280.12 109.55 279.38 107.98 275.88 107.48 272.88 106.70 271.38 106.27 269.62 105.43 268.12 104.44 265.62 103.55 262.88 103.32 261.12 102.47 258.62 102.01 256.12 101.99 254.12 102.24 250.38 102.10 248.62 102.41 246.88 102.33 244.88 102.88 243.12 102.82 240.62 103.16 239.38 104.12 238.54 104.88 238.57 105.62 239.51 105.88 239.57 106.38 239.14 106.54 238.38 105.49 236.62 105.49 236.12 105.80 235.62 108.24 233.38 109.12 232.86 111.39 232.12 113.88 232.11 117.88 231.24 119.02 231.38 119.18 232.62 119.62 233.40 120.12 233.62 121.12 233.62 121.53 233.12 121.98 231.38 122.38 231.02 123.12 230.96 123.64 231.38 123.62 232.62 123.12 233.45 121.76 234.38 121.35 235.88 123.67 236.62 124.81 240.12 124.62 240.66 123.56 241.12 122.63 241.88 122.33 242.62 122.88 243.29 123.38 243.49 125.38 243.00 126.45 244.38 127.12 244.62 127.74 244.12 128.12 242.95 128.62 242.17 129.88 242.19 130.26 241.38 130.12 240.24 128.88 239.26 128.77 238.62 128.94 237.38 130.14 236.38 130.59 235.62 129.98 231.62 130.07 231.12 131.40 230.12 134.12 229.21 138.12 227.26 139.62 227.34 141.62 224.48 143.14 223.62 144.88 222.25 146.38 221.81 150.62 221.25 152.62 220.79 154.42 221.12 156.12 221.18 156.88 221.46 158.12 222.36 162.12 226.51 163.12 226.69 166.38 225.88 167.03 226.12 167.27 226.62 167.20 227.12 166.04 229.12 166.29 230.38 166.88 231.09 167.88 231.28 168.81 231.12 169.14 230.88 169.38 230.22 169.62 230.24 170.39 231.62 170.85 234.12 170.20 240.38 169.12 243.12 168.88 245.40 167.26 247.88 166.12 248.79 165.62 248.93 163.88 248.43 163.08 248.62 162.62 248.97 161.51 250.88 161.44 251.38 161.62 251.67 162.12 251.86 163.62 250.88 163.86 251.12 162.38 252.71 161.78 253.62 160.94 256.62 159.74 257.88 159.31 258.62 158.91 261.12 157.55 263.88 157.13 265.88 155.81 267.38 155.10 269.62 154.12 271.11 153.12 272.21 152.79 272.38 152.12 271.38 149.38 269.89 147.38 269.44 145.88 267.95 145.38 267.84 144.98 268.12 145.40 270.12 145.88 270.92 148.12 271.16 149.62 271.86 151.88 273.38 151.62 274.08 151.12 274.54 149.38 274.71 148.75 275.38 147.62 275.88 146.46 278.12 146.19 279.62 145.88 280.23 145.12 280.62 143.88 280.46 143.62 278.89 143.35 278.38 139.80 275.62 139.12 275.48 137.62 276.08 136.88 275.57 136.31 274.38 136.44 273.62 136.79 273.12 138.62 272.91 139.88 272.46 140.88 272.88 141.38 272.88 141.65 272.62 141.59 272.12 140.52 271.38 140.16 270.12 139.19 268.38 137.88 267.47 136.38 267.02 136.18 265.88 135.88 265.49 133.38 264.99 131.12 264.77 130.43 264.38 130.33 263.38 130.69 262.62 131.38 262.26 133.12 262.16 133.62 261.94 134.03 261.38 133.78 260.62 132.32 259.88 130.88 258.74 128.62 259.02 127.12 258.56 126.62 258.68 126.09 259.12 125.79 259.62 125.79 260.12 126.38 261.33 127.62 261.65 128.06 262.12 128.10 262.62 127.88 262.91 127.38 263.02 126.12 262.49 125.62 262.50 124.38 262.96 123.95 263.62 124.55 265.12 125.62 266.24 127.12 265.80 128.13 265.88 127.84 266.38 127.12 266.81 125.88 266.69 125.62 266.91 125.55 267.38 127.01 270.12 126.72 271.88 127.62 272.96 128.34 275.62 129.27 276.38 129.18 276.88 128.38 277.38 127.38 277.42 125.75 276.12 124.88 275.94 124.02 276.38 123.57 276.88 123.61 277.12 124.66 278.12 124.41 279.62 124.04 280.12 123.12 280.37 118.12 280.67 115.88 280.07 115.38 280.25 114.62 280.91ZM139.63 229.62 139.88 229.55 140.07 229.12 139.62 228.51 139.38 228.66 139.20 229.12 139.24 229.38 139.63 229.62ZM134.07 232.12 134.60 231.62 134.69 231.12 134.39 230.62 133.88 230.52 133.19 230.88 132.81 231.88 133.38 232.26 134.07 232.12ZM130.82 250.62 131.20 249.88 131.72 246.62 130.30 243.88 130.12 243.63 129.88 243.65 128.62 245.12 128.48 247.62 129.88 250.56 130.38 250.82 130.82 250.62ZM123.22 249.12 124.03 248.12 124.73 245.88 124.38 245.09 123.38 244.39 122.88 244.49 121.76 245.62 121.13 246.62 120.86 247.62 120.97 248.38 121.38 248.85 122.62 249.23 123.22 249.12ZM130.81 257.38 131.08 256.88 130.97 256.62 129.62 256.03 129.10 255.38 129.53 252.38 129.40 251.38 128.88 250.98 127.12 250.43 126.79 251.12 127.14 252.62 127.04 254.38 126.79 254.88 125.71 255.62 125.79 256.38 126.88 257.25 128.38 257.00 130.12 257.56 130.81 257.38ZM139.74 265.38 139.84 264.88 139.20 264.12 138.38 263.75 137.75 263.88 137.61 264.62 138.12 265.35 139.12 265.61 139.74 265.38ZM129.38 265.67 128.92 265.62 129.19 265.38 129.62 265.35 129.38 265.67ZM133.62 275.74 132.62 275.74 131.77 274.88 130.62 274.25 128.51 272.38 128.25 271.88 128.27 271.12 128.88 270.23 129.88 270.00 131.38 270.04 132.88 270.92 133.38 270.91 133.66 270.12 133.74 268.62 133.98 268.12 135.12 267.42 136.38 267.21 136.90 269.12 136.77 270.12 136.38 271.10 135.88 271.72 134.12 271.78 133.69 272.12 133.67 272.88 134.48 274.62 134.15 275.38 133.62 275.74ZM124.22 272.38 124.36 272.12 123.88 271.80 123.38 271.82 123.19 272.12 123.62 272.59 124.22 272.38ZM138.12 279.73 136.88 279.40 136.58 278.88 137.38 278.44 138.16 278.38 138.44 278.62 138.57 279.12 138.38 279.61 138.12 279.73ZM133.38 280.41 132.42 280.38 131.79 279.88 132.38 279.33 133.38 279.17 133.75 279.38 134.05 279.88 133.99 280.12 133.38 280.41Z"/><path fill-rule="evenodd" fill="rgb(71,71,71)" d="M153.62 271.01 153.12 271.05 151.38 270.54 149.38 269.21 147.62 268.94 146.38 267.60 145.62 267.18 144.38 267.24 142.88 266.92 142.09 267.38 141.12 268.62 140.62 268.83 140.38 268.75 138.24 266.62 138.38 266.37 139.88 266.09 140.45 265.38 140.11 264.38 138.31 262.88 137.79 261.88 137.51 260.38 137.87 259.88 138.62 259.35 137.60 259.38 137.29 260.12 135.94 261.62 135.89 262.12 136.39 263.62 136.28 264.12 136.02 264.38 134.88 264.65 133.62 264.30 132.12 264.31 131.54 264.12 131.18 263.62 131.38 263.01 131.88 262.75 133.12 262.73 133.88 262.46 134.77 261.62 134.83 260.88 134.51 260.38 132.88 259.61 132.18 258.88 132.00 258.12 132.33 256.12 132.21 255.62 130.38 255.53 129.93 255.12 129.80 254.62 129.93 253.62 130.28 252.88 131.57 251.88 131.77 249.38 132.21 247.12 131.60 244.88 131.50 243.62 131.03 242.38 130.99 240.62 129.98 238.62 129.88 237.88 130.35 237.12 131.12 236.56 131.62 236.41 132.88 236.70 133.62 236.16 133.88 235.12 133.50 234.12 133.51 233.62 133.98 233.12 135.12 232.62 135.90 230.38 135.83 230.12 134.78 229.62 134.81 229.38 135.41 228.88 138.12 227.86 138.27 228.12 137.88 228.91 136.67 229.62 136.38 230.12 137.12 230.39 140.12 230.13 140.66 229.38 140.43 227.88 140.77 226.12 141.11 225.38 141.88 224.50 143.38 223.80 144.69 222.62 145.62 222.23 152.62 221.11 155.88 221.45 157.12 221.91 158.37 222.88 160.38 224.88 161.38 226.54 161.88 226.93 163.62 227.12 165.60 226.38 166.39 226.38 166.56 226.62 166.52 227.12 164.90 229.62 164.94 230.62 166.85 231.62 170.12 232.83 170.59 234.38 169.88 240.63 169.38 241.77 168.44 242.88 168.22 244.88 166.95 245.88 167.06 247.12 166.88 247.62 166.38 248.06 165.88 248.17 164.62 247.49 164.12 247.42 161.95 248.12 161.44 249.62 160.60 250.62 160.41 251.12 161.14 252.62 161.12 253.38 160.38 254.23 158.88 254.55 158.23 255.12 158.38 255.88 159.34 257.12 158.54 259.12 158.56 261.12 157.88 262.57 156.76 263.38 157.11 264.88 156.78 265.88 156.12 266.26 154.62 266.17 153.11 267.62 152.97 268.12 153.19 268.62 153.62 268.90 154.62 268.92 154.86 269.12 154.38 270.25 153.62 271.01ZM114.12 280.73 113.38 280.81 111.62 280.52 110.19 279.88 109.64 279.12 108.26 276.12 107.73 272.88 106.88 271.27 106.52 269.62 105.54 267.88 103.88 263.38 103.57 261.12 102.66 258.62 102.24 256.12 102.33 254.38 102.62 253.75 103.38 253.24 103.59 252.62 102.67 251.38 102.40 248.62 102.62 247.95 103.21 247.12 102.74 245.62 102.75 244.88 103.76 243.38 103.11 241.88 103.19 240.38 103.38 239.83 103.88 239.37 104.38 239.47 105.62 240.46 106.38 240.00 107.11 238.38 107.01 237.88 106.20 236.62 106.21 236.12 106.53 235.62 107.88 234.65 108.47 233.62 109.21 233.12 111.62 232.31 114.38 232.33 116.77 231.62 117.88 231.56 118.32 231.88 118.57 233.62 118.32 236.12 118.10 236.62 117.62 236.86 117.12 236.77 116.12 236.04 115.88 236.05 115.66 236.38 115.67 236.88 116.24 238.12 116.88 238.57 117.38 238.56 118.62 237.52 120.38 237.28 121.88 236.83 122.62 236.82 123.38 237.35 123.56 238.38 124.30 239.62 124.12 240.15 121.88 241.02 121.38 240.95 120.62 240.46 119.88 240.49 119.38 240.88 119.15 241.38 119.54 241.88 120.88 242.44 121.85 243.88 121.70 244.88 120.63 246.38 120.24 247.38 120.16 248.38 120.49 249.62 120.78 250.12 121.83 251.12 122.24 251.88 122.61 253.12 123.15 254.12 123.08 255.38 123.31 255.88 125.38 257.07 126.04 257.88 125.89 258.38 125.00 259.62 125.34 260.88 125.28 261.62 124.72 262.12 123.35 262.62 123.12 263.12 123.62 264.88 124.43 266.62 124.58 267.88 125.99 269.12 126.34 269.88 126.31 270.38 125.89 270.88 125.38 271.06 123.12 270.94 122.54 271.62 122.48 272.62 123.12 273.36 123.88 273.56 125.88 272.95 126.62 273.01 127.28 273.62 127.55 274.62 127.38 275.26 126.88 275.58 125.38 275.10 124.62 275.15 120.17 277.88 119.65 278.62 119.88 279.39 120.31 279.88 120.08 280.12 118.12 280.39 115.62 279.62 114.95 279.88 114.12 280.73ZM135.98 233.88 136.19 233.12 135.62 232.80 135.35 233.12 135.39 233.88 135.62 234.10 135.98 233.88ZM131.88 234.99 131.38 234.68 131.21 234.12 131.34 233.38 131.62 233.26 132.35 233.62 132.61 234.12 132.38 234.62 131.88 234.99ZM164.75 246.62 165.68 245.88 165.77 245.38 165.22 244.38 164.62 244.12 163.78 244.62 163.51 245.38 163.64 245.88 164.12 246.53 164.75 246.62ZM127.12 246.68 126.88 246.65 126.84 246.38 127.12 245.82 127.38 246.12 127.12 246.68ZM125.88 253.16 125.38 253.19 124.38 252.36 123.87 251.62 123.67 250.62 123.88 249.90 125.12 247.53 125.88 247.18 126.35 247.38 125.93 248.88 126.12 250.38 125.88 253.16ZM137.42 251.12 137.81 250.62 138.16 248.38 137.96 247.62 137.62 247.28 137.38 247.28 136.91 248.12 135.62 249.08 135.49 249.62 135.69 250.38 136.12 250.84 136.88 251.17 137.42 251.12ZM160.38 256.66 160.10 256.62 160.06 256.38 160.37 255.62 160.62 255.48 160.74 256.12 160.38 256.66ZM122.13 261.88 122.45 261.62 122.86 260.38 122.82 259.88 122.38 259.62 121.73 259.88 121.35 260.62 121.58 261.62 122.13 261.88ZM155.64 261.38 155.88 261.25 155.97 260.88 155.62 260.63 155.38 260.67 155.20 260.88 155.27 261.12 155.64 261.38ZM150.40 267.38 152.38 266.38 152.51 265.88 152.34 265.62 151.62 265.53 149.77 266.38 149.47 266.88 149.57 267.38 149.88 267.52 150.40 267.38ZM135.12 270.88 134.62 270.70 134.40 270.38 134.35 269.38 134.88 268.50 135.62 268.30 136.12 268.66 136.33 269.62 135.88 270.58 135.12 270.88ZM145.38 279.93 144.88 280.06 144.64 279.88 144.24 277.88 142.12 275.93 140.88 275.40 139.38 274.25 138.88 274.27 137.88 274.85 137.62 274.81 137.35 274.38 137.42 274.12 137.88 273.86 141.12 273.86 142.11 273.38 142.53 272.38 142.06 271.12 142.08 270.62 143.62 268.84 144.12 268.93 144.38 269.17 145.76 272.38 145.93 273.88 145.49 275.12 146.27 276.62 145.74 278.12 145.62 279.55 145.38 279.93ZM131.62 273.66 130.88 273.58 129.38 272.33 129.10 271.62 129.56 270.88 130.88 270.65 131.52 270.88 132.02 271.38 132.27 272.62 132.00 273.38 131.62 273.66ZM122.88 280.13 121.12 279.88 121.12 279.62 122.09 278.38 122.88 278.09 123.62 278.54 123.79 279.38 123.62 279.88 122.88 280.13Z"/><path fill-rule="evenodd" fill="rgb(82,82,82)" d="M148.38 268.39 147.62 268.28 146.38 266.90 145.62 266.55 144.62 266.62 142.88 266.30 140.88 267.21 140.49 267.12 140.94 265.88 140.87 264.88 140.17 263.88 138.82 262.62 138.52 261.88 138.66 261.12 139.79 260.38 140.19 259.38 139.93 257.62 140.04 256.38 139.52 255.12 140.33 253.88 139.77 253.12 139.38 252.99 138.88 253.15 138.54 253.62 138.03 255.12 135.31 257.38 134.88 259.13 134.52 259.38 133.88 259.43 132.92 258.88 132.75 258.12 132.91 256.62 133.68 254.88 133.74 253.62 134.06 252.88 134.88 252.15 135.62 251.78 137.38 251.86 138.12 251.72 138.46 251.38 138.81 250.12 139.54 249.62 139.68 249.12 139.38 248.17 138.12 246.17 137.38 245.66 136.62 245.61 136.12 246.12 135.69 247.38 134.62 248.14 134.36 249.88 134.11 250.38 133.12 251.00 132.62 251.00 132.38 250.81 132.22 249.62 132.76 247.62 132.35 245.38 132.58 243.88 131.76 242.12 131.81 240.38 130.87 239.12 130.61 238.12 130.82 237.62 131.38 237.25 133.38 237.34 134.62 236.22 135.88 235.88 136.84 233.38 137.12 231.82 138.38 231.04 140.38 230.46 140.88 229.92 141.09 229.12 140.99 227.88 141.14 225.88 142.06 224.62 143.88 224.03 144.79 222.88 145.88 222.37 152.88 221.35 155.88 221.76 156.88 222.10 158.22 223.12 159.27 224.38 160.17 225.12 160.61 226.12 160.27 228.62 160.88 229.63 161.38 229.75 161.78 229.62 163.12 228.38 163.78 228.38 163.94 228.62 163.90 229.88 164.23 230.88 164.61 231.38 167.62 232.27 168.84 233.12 169.56 234.12 169.03 235.12 169.88 236.31 169.91 238.62 169.38 240.89 167.57 242.62 166.88 244.09 166.38 244.18 165.62 243.49 164.88 243.31 163.88 243.81 163.03 244.62 162.82 245.38 162.88 246.70 161.30 247.62 161.00 248.12 160.73 249.38 159.54 250.38 159.52 251.12 160.31 252.62 160.26 253.12 159.88 253.42 158.12 253.61 156.84 254.62 156.96 255.38 158.41 257.12 158.42 257.88 157.38 259.78 156.88 259.95 154.88 260.01 154.38 260.24 154.24 260.62 155.57 262.88 156.38 265.19 155.88 265.28 154.38 264.67 153.12 264.89 151.62 264.82 149.12 266.30 148.66 268.12 148.38 268.39ZM113.62 280.38 111.12 280.18 110.38 279.79 109.88 279.15 109.55 278.12 108.26 275.62 107.97 272.62 107.12 271.30 106.80 269.62 105.76 267.88 105.31 266.12 104.02 263.12 103.90 261.12 102.93 258.88 102.54 255.88 102.62 255.26 102.88 254.94 103.12 254.92 103.39 255.12 103.62 256.40 104.12 256.46 104.34 256.12 103.90 254.62 104.46 252.12 104.27 251.62 103.51 250.88 103.29 250.12 103.38 249.48 103.88 248.65 104.12 247.68 103.96 245.12 104.70 244.12 104.80 243.62 104.52 242.88 103.63 241.88 103.52 241.38 103.62 240.87 104.12 240.53 105.62 241.27 106.12 241.07 107.55 238.38 107.50 237.62 106.98 236.62 107.04 236.12 107.38 235.83 108.88 235.35 109.65 233.62 111.58 232.62 113.88 232.89 115.12 232.84 116.24 232.12 117.12 231.88 117.62 232.09 117.71 232.38 117.66 233.38 117.38 233.74 116.12 233.64 115.27 234.38 114.88 234.50 113.38 233.79 112.88 233.76 112.38 234.05 112.27 234.62 112.94 235.62 114.62 236.28 115.63 238.12 116.62 239.06 117.62 239.19 118.88 238.37 119.38 238.23 120.20 238.38 120.34 238.62 118.38 240.39 117.91 241.12 117.79 241.88 117.95 242.38 118.38 242.79 120.38 243.07 121.09 243.88 120.98 244.88 119.88 245.94 118.59 248.38 119.12 249.23 119.59 250.62 121.12 251.49 121.62 252.09 121.80 253.88 122.64 256.12 124.55 257.88 124.51 258.12 123.88 258.49 122.38 258.74 121.62 259.08 120.78 259.88 120.61 260.38 120.99 262.12 122.20 263.12 122.62 263.83 123.21 266.38 123.12 266.66 122.88 266.70 121.38 266.52 120.80 266.88 120.62 267.38 120.88 267.88 121.97 268.88 122.50 269.62 122.55 270.38 122.02 271.88 121.93 272.88 122.38 273.58 123.42 274.38 123.58 274.88 122.98 275.62 121.38 276.47 119.55 277.88 119.21 278.38 119.14 279.62 118.98 279.88 118.12 280.02 116.38 279.38 115.38 279.32 114.48 279.62 113.62 280.38ZM139.48 240.12 139.66 239.62 139.52 239.12 139.12 238.69 138.62 238.67 138.43 239.12 138.62 240.06 139.12 240.36 139.48 240.12ZM134.59 240.38 134.76 239.88 134.38 239.48 133.62 239.45 133.14 239.88 133.15 240.12 133.48 240.38 134.59 240.38ZM139.70 243.62 139.81 243.12 139.62 242.46 139.38 242.08 138.88 241.98 138.46 242.62 138.41 243.12 138.92 243.62 139.70 243.62ZM125.12 251.55 124.62 251.45 124.35 250.88 124.46 250.38 124.88 250.03 125.21 250.12 125.47 250.62 125.38 251.27 125.12 251.55ZM131.38 254.92 130.62 254.84 130.39 254.12 130.76 253.38 131.38 253.14 131.97 253.38 132.16 253.88 131.88 254.55 131.38 254.92ZM124.12 261.73 123.62 261.74 123.33 261.38 123.40 260.88 123.88 260.35 124.38 260.45 124.65 260.88 124.60 261.38 124.12 261.73ZM134.88 263.88 134.38 263.65 134.25 263.38 134.38 263.09 134.88 262.85 135.36 263.38 135.33 263.62 134.88 263.88ZM152.12 270.14 151.38 270.04 150.62 269.58 150.14 268.88 150.25 268.38 151.12 267.91 151.81 268.12 152.78 269.62 152.75 269.88 152.12 270.14ZM125.38 270.38 124.38 270.31 124.20 270.12 124.29 269.62 124.88 269.21 125.38 269.32 125.70 269.88 125.38 270.38ZM144.12 274.65 143.38 274.77 142.88 274.47 142.72 274.12 143.16 272.38 142.96 270.88 143.62 270.19 144.05 270.38 144.38 270.87 144.91 272.38 144.74 273.88 144.12 274.65ZM131.12 272.40 130.88 272.52 130.56 272.38 130.34 272.12 130.38 271.77 130.88 271.72 131.12 272.02 131.12 272.40ZM126.62 274.49 126.21 274.38 126.12 274.12 126.38 273.97 126.62 274.07 126.62 274.49ZM122.88 279.42 122.62 279.52 122.47 279.38 122.62 279.15 122.88 279.42Z"/><path fill-rule="evenodd" fill="rgb(92,92,92)" d="M147.88 267.29 147.07 266.62 146.65 265.12 146.12 264.59 145.86 264.62 145.35 265.62 144.88 265.97 141.88 265.74 140.89 264.12 139.37 262.38 139.38 261.71 140.16 261.12 140.44 260.62 140.91 256.12 141.38 255.65 142.62 255.25 143.01 254.62 142.85 254.12 141.55 253.12 141.01 252.38 141.13 251.88 141.94 250.88 141.83 250.12 140.39 248.88 139.09 246.38 139.05 245.88 139.28 245.38 140.88 244.88 141.21 244.38 140.28 241.88 140.41 240.12 140.29 239.38 139.38 238.00 137.12 235.86 136.82 234.88 137.74 232.12 138.62 231.50 140.62 230.77 141.27 229.88 141.88 227.90 143.20 227.62 143.77 226.12 144.77 224.88 144.91 223.38 145.33 222.88 146.62 222.43 148.62 222.39 151.88 221.64 153.12 221.58 156.21 222.38 156.64 223.62 157.12 223.85 157.88 223.88 159.74 225.38 160.00 226.38 159.55 228.38 159.94 229.38 160.62 230.26 161.12 230.41 162.62 229.92 163.12 229.99 164.38 231.79 166.62 232.20 168.12 233.09 168.47 233.88 168.34 235.38 169.49 236.88 169.67 238.38 169.02 240.38 168.38 241.12 166.62 242.33 164.62 242.77 162.13 244.38 161.98 245.88 161.62 246.36 161.12 246.51 160.12 246.36 159.88 246.58 159.58 248.88 157.91 250.12 158.62 251.38 158.66 252.12 157.19 253.38 154.59 254.88 154.36 255.62 154.62 256.10 155.88 256.01 156.38 256.15 157.32 256.88 157.62 257.62 157.17 258.62 156.62 259.23 155.88 259.46 154.12 259.60 153.48 260.12 153.55 260.62 154.76 262.62 154.88 263.12 154.76 263.62 153.38 264.21 151.38 264.31 150.38 265.12 148.88 265.89 147.88 267.29ZM142.38 226.73 141.88 226.70 141.56 225.88 141.90 225.12 142.62 224.80 143.12 225.12 143.19 225.62 143.00 226.12 142.38 226.73ZM111.62 279.91 110.95 279.88 110.27 279.38 109.97 278.12 108.60 276.12 108.33 275.12 108.31 273.88 108.89 271.88 108.62 271.55 107.88 271.58 107.60 271.38 107.35 270.88 107.36 269.62 106.38 268.47 105.94 267.62 105.88 266.88 106.54 265.62 106.27 264.38 106.84 262.88 106.73 262.38 106.23 261.62 106.22 260.12 105.88 259.63 105.38 259.46 103.88 259.90 103.38 259.28 103.15 258.38 103.38 257.67 104.62 257.01 105.07 256.38 104.69 254.12 105.39 251.62 104.75 250.38 104.63 249.62 104.81 246.12 105.57 244.38 105.60 242.62 106.38 241.59 107.74 238.88 108.23 237.12 108.62 236.75 110.17 236.12 110.62 234.89 110.88 234.66 111.38 234.87 112.62 236.12 114.38 236.88 115.62 238.83 117.27 240.12 117.22 241.88 117.62 242.99 119.72 244.38 118.78 246.38 117.38 247.99 117.11 248.62 117.10 249.38 118.00 250.62 118.38 252.15 118.62 252.30 119.62 251.85 120.38 251.82 120.91 252.12 121.13 252.88 120.88 253.44 119.82 254.38 119.49 255.88 117.62 256.48 117.15 256.88 116.98 257.38 117.15 257.88 118.12 258.62 117.89 259.62 118.12 260.62 119.88 261.48 120.88 263.19 121.74 264.12 121.62 264.78 119.35 266.62 118.86 267.38 119.17 267.88 121.12 268.78 121.89 269.62 122.01 270.62 121.37 273.12 121.62 273.80 122.53 274.88 122.22 275.38 121.12 276.07 119.08 277.88 118.33 279.38 117.88 279.45 115.88 279.02 113.88 279.14 112.88 278.42 112.38 278.32 111.76 278.62 111.82 279.62 111.62 279.91ZM132.38 238.88 131.88 239.02 131.62 238.89 131.44 238.38 131.59 238.12 132.12 238.09 132.52 238.38 132.38 238.88ZM136.88 240.39 136.38 240.62 136.12 240.44 135.73 239.38 135.79 238.88 136.62 238.49 137.12 238.62 137.36 239.12 137.26 239.88 136.88 240.39ZM133.62 242.98 133.12 242.87 132.64 242.38 132.49 241.88 132.64 241.38 133.38 241.12 135.35 241.38 135.42 241.62 135.20 241.88 133.62 242.98ZM161.05 244.88 161.82 244.38 161.76 243.88 161.12 243.22 160.38 243.21 159.92 243.62 160.00 244.62 160.38 245.09 161.05 244.88ZM133.88 246.53 133.38 246.51 133.02 245.88 133.04 245.12 133.38 244.34 133.62 244.00 134.12 243.82 135.35 244.12 135.51 244.62 135.27 245.12 133.88 246.53ZM134.12 256.95 133.85 256.88 133.69 256.38 134.18 255.12 134.34 253.62 134.58 253.12 135.12 252.65 135.88 252.36 136.88 252.36 137.68 252.62 137.90 253.38 137.38 254.59 134.88 256.57 134.12 256.95ZM120.62 258.63 119.62 258.84 118.13 258.62 118.44 257.88 119.66 256.12 121.12 255.56 121.63 255.88 121.94 256.88 120.62 258.63ZM143.57 260.12 143.62 259.76 143.38 259.68 143.38 260.29 143.57 260.12ZM105.38 264.54 105.12 264.55 104.88 264.24 104.32 263.12 104.28 262.38 104.62 261.73 105.12 261.82 105.37 262.12 105.38 264.54Z"/><path fill-rule="evenodd" fill="rgb(102,102,102)" d="M148.62 265.47 148.12 265.61 147.62 265.43 146.62 264.10 145.88 263.56 145.38 263.74 144.87 264.88 144.38 265.33 142.50 265.12 141.88 264.67 140.86 263.12 140.74 262.62 140.88 262.35 142.38 262.27 142.88 262.08 144.34 260.62 144.90 259.62 144.46 258.62 143.62 257.57 142.88 257.28 142.12 257.39 141.82 257.12 141.77 256.62 141.93 256.38 142.88 255.88 143.38 255.37 143.74 254.62 143.76 254.12 142.38 252.62 142.43 252.12 142.93 251.12 142.78 250.38 142.12 249.34 140.88 248.45 139.92 246.62 140.12 246.10 141.67 245.12 141.96 244.62 141.97 244.12 140.96 242.38 140.95 240.12 140.68 239.12 138.88 236.11 137.50 235.12 137.35 234.38 137.76 233.12 138.24 232.38 140.88 231.18 142.12 228.96 143.77 228.12 144.36 226.38 145.43 224.88 145.68 223.12 146.88 222.69 148.88 223.13 150.87 222.12 152.12 221.82 153.12 221.79 154.98 222.38 155.84 223.88 156.38 224.44 158.38 225.01 159.22 225.62 159.46 226.38 158.91 227.88 158.93 228.38 159.49 229.62 160.38 230.89 160.88 231.09 162.38 230.50 162.88 230.52 164.00 232.12 166.12 232.32 167.64 233.12 167.98 233.88 167.93 235.38 169.19 237.12 169.35 238.38 168.59 240.12 167.12 241.25 164.88 242.13 162.88 243.21 160.88 242.70 160.12 242.77 159.52 243.12 159.37 243.62 159.48 245.38 158.84 248.38 158.12 248.85 156.38 249.08 155.23 250.62 155.26 251.12 155.51 251.38 157.02 252.12 156.91 252.62 155.62 253.31 153.88 253.37 153.46 253.88 153.47 256.38 153.62 256.94 154.12 257.21 156.12 257.16 156.61 257.62 156.50 258.38 155.88 258.92 153.62 259.07 152.94 259.62 152.77 260.12 152.88 260.62 154.14 262.38 154.20 262.88 153.92 263.38 152.88 263.78 151.12 263.62 150.12 264.79 148.62 265.47ZM117.88 278.72 114.38 278.74 112.69 277.88 110.88 277.91 109.38 276.87 108.88 276.26 108.55 275.38 108.56 274.12 109.38 272.64 109.50 271.88 108.65 269.88 108.98 268.38 108.88 268.17 107.88 268.47 107.12 268.48 106.62 268.15 106.36 267.62 106.47 267.12 107.32 266.12 106.99 264.38 107.48 262.38 106.36 259.38 105.88 259.01 104.37 258.88 104.01 258.62 104.45 257.88 106.20 256.88 106.54 256.38 106.45 255.88 105.62 255.25 105.30 254.12 105.50 253.38 106.39 252.12 106.24 251.38 105.41 249.88 105.23 248.88 105.38 246.62 106.12 244.62 106.31 242.62 107.33 240.12 108.88 237.51 109.38 237.26 110.62 237.19 111.88 236.66 113.12 236.92 114.12 237.37 115.24 239.12 116.42 240.12 116.69 240.62 117.00 242.88 118.46 244.88 118.28 245.88 117.12 247.47 116.42 249.12 116.58 249.88 117.56 251.38 117.39 253.62 117.62 253.96 118.49 254.38 118.57 254.88 118.21 255.38 116.62 256.43 116.38 256.90 116.33 257.62 117.08 259.38 116.96 261.88 117.38 262.11 118.62 261.90 119.38 262.11 120.02 262.88 120.41 263.88 120.15 264.88 118.26 266.62 118.07 267.12 118.15 267.62 118.88 268.42 120.38 268.81 121.12 269.30 121.54 269.88 121.65 270.62 120.87 273.12 121.10 275.12 120.23 276.38 117.88 278.72ZM143.19 247.62 143.44 247.12 143.12 246.86 142.62 246.93 142.50 247.12 142.62 247.58 143.19 247.62ZM135.88 254.90 135.38 255.07 135.00 254.88 134.83 254.12 134.92 253.62 135.62 253.00 136.38 252.87 136.88 252.99 137.20 253.38 137.13 253.88 136.73 254.38 135.88 254.90ZM141.88 260.90 141.38 260.93 141.06 259.88 141.38 258.64 141.88 258.13 142.36 258.62 142.49 259.38 142.27 260.38 141.88 260.90Z"/><path fill-rule="evenodd" fill="rgb(112,112,112)" d="M148.62 264.92 148.12 264.90 147.62 264.58 146.83 263.38 146.83 262.88 147.41 261.88 147.57 261.12 147.44 259.62 147.16 258.88 146.79 258.62 145.62 258.55 145.12 258.29 143.63 256.38 143.75 255.88 144.82 254.38 144.95 253.88 143.62 252.38 144.55 250.12 143.45 249.62 143.19 248.88 143.64 248.38 144.62 247.83 144.88 247.76 145.38 248.23 145.38 248.09 144.34 246.88 142.48 245.88 142.38 245.38 142.67 244.12 141.50 242.38 141.32 239.38 140.10 237.38 139.57 235.62 138.12 234.78 137.88 234.12 138.15 233.38 138.88 232.73 140.38 232.48 141.88 232.69 141.52 231.38 141.88 230.11 142.38 229.37 144.13 228.38 144.68 226.62 146.03 224.88 146.49 223.38 146.88 223.31 148.12 223.86 148.88 223.79 149.88 223.38 151.38 222.28 153.12 222.04 154.52 222.62 155.41 224.12 156.38 225.07 158.12 225.49 158.69 225.88 158.86 226.38 158.35 227.62 158.38 228.38 160.38 232.77 160.62 232.81 161.47 231.62 162.38 231.08 162.88 231.28 163.62 232.60 165.62 232.52 166.83 232.88 167.52 233.62 167.66 235.62 168.78 237.12 169.03 238.12 168.62 239.31 167.88 240.21 163.38 242.38 162.62 242.48 159.88 242.23 158.62 241.68 158.12 241.76 157.70 242.12 157.67 242.62 158.62 243.36 159.04 244.62 158.38 247.85 157.88 248.23 157.38 248.25 155.88 247.67 155.16 249.38 153.96 250.38 153.42 251.88 152.36 253.12 152.37 253.62 153.01 255.12 152.99 258.12 152.22 259.62 152.09 260.38 152.47 261.12 153.46 262.12 153.52 262.88 153.12 263.20 152.62 263.26 151.38 262.72 150.62 262.80 150.29 263.12 149.80 264.38 148.62 264.92ZM116.88 278.40 114.62 278.39 113.12 277.60 111.12 277.39 109.62 276.59 108.96 275.88 108.77 275.12 108.85 274.38 109.62 273.05 109.88 271.88 109.29 269.62 110.38 267.88 109.95 267.38 108.39 266.62 107.62 264.81 107.53 264.12 108.02 262.38 106.68 258.62 107.97 255.88 107.62 254.82 106.54 253.88 107.06 252.88 107.12 252.12 105.72 249.12 105.90 246.88 106.65 244.62 106.71 242.88 107.64 240.12 108.88 238.43 109.62 238.10 110.62 238.85 110.88 238.86 111.62 237.81 112.38 237.43 113.12 237.54 113.88 237.94 114.69 239.38 116.06 240.62 116.52 242.88 117.32 245.38 117.08 246.62 115.90 249.12 116.07 250.12 116.88 251.22 117.02 251.88 116.47 254.62 115.31 255.88 116.05 259.38 115.88 259.70 114.88 259.43 114.24 259.62 113.41 260.38 113.33 260.88 113.99 261.62 114.33 262.88 114.62 263.03 117.12 263.07 118.62 262.58 119.38 262.89 119.77 263.62 119.73 264.38 119.38 264.89 117.88 266.13 117.53 266.88 117.53 267.38 118.48 268.62 120.62 269.39 121.11 269.88 121.29 270.38 121.16 271.38 120.50 272.88 120.54 274.62 120.08 275.88 119.52 276.62 118.12 277.86 116.88 278.40ZM155.95 247.12 156.87 245.88 156.68 245.38 156.38 245.24 155.70 245.62 155.39 246.38 155.62 247.15 155.88 247.26 155.95 247.12ZM111.04 258.62 110.88 257.90 110.34 257.62 110.11 257.88 110.18 258.38 110.62 258.75 111.04 258.62ZM143.88 264.47 142.81 264.38 142.45 264.12 142.21 263.62 143.38 262.76 144.62 261.20 145.38 261.03 145.74 261.38 145.82 262.12 144.50 263.38 144.12 264.29 143.88 264.47Z"/><path fill-rule="evenodd" fill="rgb(122,122,122)" d="M149.38 259.88 148.88 259.85 148.38 259.55 147.51 258.12 145.62 257.74 144.55 256.62 144.58 255.88 145.62 254.63 146.17 253.38 145.88 252.91 144.82 252.38 144.72 251.88 144.88 251.55 145.62 251.01 146.62 250.75 146.88 250.84 147.45 251.88 148.12 252.04 148.80 251.62 148.93 250.88 148.58 250.38 147.12 250.38 146.92 250.12 146.42 247.38 146.12 246.71 144.12 246.17 143.23 245.62 143.07 245.12 143.31 243.88 142.16 242.38 142.14 240.62 141.88 239.04 140.71 237.38 140.53 236.62 141.38 234.46 142.55 233.62 142.87 233.12 142.82 232.38 142.06 231.12 142.26 230.12 142.67 229.62 144.38 228.62 144.95 226.88 145.38 226.23 147.12 224.74 149.62 224.04 151.62 222.58 153.06 222.38 154.09 222.88 155.04 224.38 156.12 225.49 157.62 226.00 158.06 226.38 157.81 228.12 158.43 229.62 159.06 232.12 159.85 233.62 159.80 235.62 160.38 236.56 161.38 236.97 161.96 236.62 162.00 236.12 161.41 234.38 161.62 233.45 162.12 232.72 163.38 233.31 165.88 232.81 166.62 233.08 167.14 233.62 167.32 235.62 168.49 237.38 168.65 238.12 168.26 239.12 167.38 240.01 163.38 241.65 162.38 241.57 161.12 241.78 160.38 241.63 160.08 241.12 160.05 239.88 159.83 239.12 159.38 238.81 158.62 239.09 158.07 240.62 157.21 241.62 157.01 242.38 157.23 243.38 158.38 244.23 158.41 245.12 158.12 245.46 157.88 245.47 157.09 244.62 156.38 244.47 155.62 244.81 154.95 245.62 154.60 246.62 154.55 248.62 154.12 249.11 153.12 249.74 152.62 251.12 151.48 252.62 151.54 253.62 152.38 254.87 152.50 255.38 152.12 258.54 151.62 259.28 151.12 259.66 149.38 259.88ZM139.62 234.23 139.06 234.12 139.12 233.88 139.63 233.88 139.84 234.12 139.62 234.23ZM113.12 259.51 112.62 259.60 112.18 259.12 112.12 257.26 111.12 256.65 110.31 255.88 108.88 255.36 108.38 254.79 107.81 253.62 107.55 251.88 106.40 249.88 106.12 248.88 106.30 247.12 107.16 244.62 107.12 243.00 108.12 239.89 109.12 239.01 109.62 239.08 110.59 239.62 111.12 239.59 112.62 238.23 113.12 238.29 113.58 238.62 114.38 240.08 115.55 241.12 116.19 243.62 116.63 246.38 116.47 247.12 115.47 249.12 115.56 250.38 116.02 251.88 115.88 252.11 114.88 252.01 114.53 252.38 114.77 252.88 115.59 253.38 115.55 254.12 114.62 255.12 113.01 256.12 112.42 256.88 112.41 257.12 112.62 257.20 114.12 257.20 114.65 257.62 114.54 258.38 113.12 259.51ZM116.12 278.15 115.12 278.11 113.38 277.33 111.12 276.91 109.32 275.62 109.26 274.88 109.88 273.41 110.22 271.88 109.85 269.62 110.38 269.02 112.00 268.38 112.16 267.88 111.76 267.38 109.60 266.38 108.12 264.38 108.66 262.12 107.85 260.62 107.47 258.88 107.88 257.97 108.38 257.55 108.88 257.81 109.39 258.88 110.52 260.12 109.72 261.38 109.63 261.88 110.08 262.38 111.38 263.16 112.12 264.88 112.82 265.12 113.38 265.10 114.62 263.91 115.38 263.60 117.38 263.62 118.62 263.32 119.07 263.62 118.96 264.38 117.38 265.92 116.96 266.88 116.93 267.38 118.62 269.16 120.58 269.88 120.90 270.38 120.90 271.12 120.19 272.62 120.10 274.62 119.46 276.12 117.88 277.57 116.12 278.15ZM148.62 264.21 147.88 263.98 147.62 263.62 147.62 263.11 148.62 261.65 149.12 261.50 149.77 261.62 149.85 261.88 149.08 263.88 148.62 264.21Z"/><path fill-rule="evenodd" fill="rgb(133,133,133)" d="M150.12 259.14 149.01 258.88 148.11 257.62 146.12 257.08 145.59 256.62 145.49 256.12 145.65 255.62 146.88 253.49 147.62 252.93 149.38 252.80 149.93 251.62 149.93 250.88 149.60 250.12 149.12 249.64 147.88 249.37 147.38 248.96 147.00 246.88 146.62 246.17 146.12 245.93 144.38 245.76 143.79 245.38 143.89 243.62 143.18 242.12 143.50 240.88 142.80 239.88 142.60 238.12 141.49 237.12 141.31 236.62 141.88 235.56 142.38 235.14 143.09 234.88 143.24 234.62 143.39 232.62 142.53 231.12 142.56 230.38 142.94 229.88 144.62 228.83 145.52 226.62 147.12 225.45 149.88 224.36 151.62 223.04 152.62 222.85 153.62 223.25 155.62 225.71 157.09 226.88 157.23 227.88 158.00 229.62 158.40 232.12 159.32 233.88 159.19 235.62 159.54 237.12 159.38 237.51 158.38 238.27 157.73 239.12 156.71 241.62 156.38 243.57 155.12 244.46 154.58 245.12 154.10 246.12 153.74 247.88 152.46 248.88 151.88 250.20 150.69 251.38 150.12 252.85 149.38 253.94 149.18 255.12 149.43 256.38 150.12 256.68 151.38 256.37 151.71 257.12 151.71 257.88 151.39 258.62 150.88 258.99 150.12 259.14ZM164.38 240.70 163.88 240.78 163.38 240.60 162.53 239.38 163.12 237.12 162.77 234.88 163.05 234.38 164.66 233.38 165.88 233.10 166.52 233.38 166.88 233.86 167.06 235.88 168.01 237.38 168.17 238.12 167.89 238.88 167.19 239.62 164.38 240.70ZM111.88 255.88 109.38 254.83 108.82 254.38 108.32 253.38 107.84 251.38 106.64 249.38 106.54 248.12 106.77 246.88 107.65 244.88 107.57 243.12 108.41 241.88 108.22 240.88 108.46 240.12 109.12 239.67 110.38 240.12 111.12 240.14 112.88 239.21 114.86 241.88 115.62 243.69 116.22 246.62 115.98 247.38 115.19 248.62 114.89 250.88 113.63 252.12 113.71 252.62 114.43 253.88 114.40 254.38 113.62 255.13 111.88 255.88ZM150.18 246.88 150.39 246.38 150.26 245.88 149.62 245.55 149.27 245.88 149.20 246.38 149.62 246.84 150.18 246.88ZM109.88 264.29 109.38 264.24 109.02 263.88 109.11 263.38 109.38 263.18 109.88 263.30 110.19 263.62 110.12 264.12 109.88 264.29ZM115.88 266.88 115.12 266.74 114.66 266.38 114.35 265.38 114.88 264.34 115.38 264.05 116.12 263.96 116.88 264.14 117.35 264.62 116.62 266.28 115.88 266.88ZM116.62 277.67 115.38 277.78 113.81 277.12 111.62 276.65 110.37 275.62 110.08 274.38 110.60 271.62 110.42 270.12 110.62 269.62 112.38 269.16 113.62 268.46 114.88 268.63 116.38 267.98 117.12 268.27 118.88 269.77 119.88 270.04 120.37 270.38 120.47 271.12 119.81 272.62 119.77 274.38 119.29 275.62 118.29 276.88 116.62 277.67Z"/><path fill-rule="evenodd" fill="rgb(143,143,143)" d="M147.88 245.95 146.62 245.41 144.88 245.32 144.39 244.88 144.50 243.62 144.23 242.12 145.12 240.68 145.26 240.12 144.88 239.38 143.75 238.62 142.97 236.62 144.12 235.91 144.39 235.12 143.94 233.88 143.75 232.38 142.99 231.12 142.93 230.62 143.38 229.98 145.03 228.88 145.62 227.16 146.12 226.59 147.12 226.00 149.38 225.12 151.62 223.54 152.38 223.43 153.12 223.84 156.19 227.12 157.39 229.12 157.90 232.12 158.80 234.12 158.67 236.62 158.50 237.12 157.12 239.07 156.03 242.62 155.62 243.26 154.59 243.62 153.38 244.65 152.88 244.84 151.62 244.86 149.88 244.53 149.13 244.62 147.88 245.95ZM164.88 239.91 164.12 239.94 163.62 239.38 163.91 237.38 163.58 235.38 163.93 234.62 164.65 233.88 165.38 233.47 165.88 233.45 166.38 233.75 166.57 234.12 166.67 235.88 167.48 237.38 167.60 238.12 167.29 238.88 166.88 239.29 164.88 239.91ZM112.38 255.15 111.62 255.11 109.12 253.73 108.62 252.62 108.48 250.62 107.33 249.62 106.99 248.88 106.93 248.12 107.26 246.62 108.30 245.12 108.18 243.38 108.44 243.12 109.62 243.13 110.38 242.80 110.54 242.12 110.05 241.12 110.12 240.98 112.38 240.52 113.12 240.98 113.91 241.88 115.12 244.11 115.84 246.62 115.62 247.31 114.79 248.62 114.65 250.12 114.38 250.74 113.38 251.41 111.88 251.61 111.68 251.88 111.88 252.19 113.12 252.88 113.74 253.88 113.47 254.62 112.38 255.15ZM152.62 247.19 152.12 247.11 151.82 246.38 152.12 245.80 152.88 245.48 153.12 245.66 153.24 246.38 153.10 246.88 152.62 247.19ZM149.12 248.48 148.62 248.60 148.12 248.41 147.97 247.88 148.12 247.54 148.62 247.57 149.07 247.88 149.25 248.12 149.12 248.48ZM109.09 250.12 109.15 249.88 108.88 249.93 108.88 250.19 109.09 250.12ZM148.38 256.71 147.62 256.84 146.88 256.70 146.37 256.38 146.18 255.88 146.73 254.38 147.38 253.71 147.88 253.52 148.38 253.64 148.63 254.12 148.73 255.88 148.38 256.71ZM150.38 258.41 149.68 258.12 149.83 257.62 150.38 257.49 150.81 257.62 150.83 258.12 150.38 258.41ZM116.12 265.96 115.62 266.11 115.03 265.62 115.07 264.88 115.62 264.46 116.12 264.46 116.57 264.88 116.51 265.38 116.12 265.96ZM116.12 277.41 115.38 277.36 111.62 276.19 110.78 275.12 110.55 273.62 110.88 272.07 111.62 270.46 113.38 269.53 114.88 269.30 116.62 268.53 117.38 268.86 118.62 270.20 119.62 270.77 119.80 271.12 119.44 272.38 119.39 274.38 118.71 275.88 117.88 276.75 116.12 277.41Z"/><path fill-rule="evenodd" fill="rgb(153,153,153)" d="M152.12 243.88 150.38 243.95 148.62 243.75 146.38 242.75 145.65 242.12 145.58 241.62 145.99 239.88 144.33 237.62 144.30 237.12 144.88 235.88 144.95 235.12 144.42 233.62 144.20 232.38 143.38 230.88 143.74 230.12 145.30 229.12 145.88 227.62 146.38 226.97 149.38 225.58 151.12 224.32 151.88 224.03 152.38 224.16 154.62 226.23 156.88 228.98 157.22 229.88 157.54 232.38 158.19 233.88 158.30 234.62 157.98 236.62 156.69 238.88 155.62 241.87 155.38 242.17 154.38 242.42 153.12 243.46 152.12 243.88ZM165.62 239.13 164.88 238.92 164.71 238.62 164.66 237.12 164.27 235.62 164.35 235.12 164.82 234.38 165.62 233.91 166.16 234.38 166.19 235.88 167.00 237.88 166.62 238.79 165.62 239.13ZM113.38 250.92 112.62 250.98 110.78 250.62 110.47 249.62 110.08 249.12 109.38 248.85 107.88 248.93 107.53 248.62 107.36 248.12 107.39 247.38 107.72 246.62 108.38 246.05 109.87 245.62 109.96 245.12 109.63 244.12 111.12 243.26 111.82 241.88 112.12 241.72 112.88 241.91 113.38 242.39 114.48 244.12 115.40 246.38 115.29 247.12 114.45 248.38 114.25 250.12 113.91 250.62 113.38 250.92ZM146.12 244.66 145.62 244.69 145.28 244.38 145.38 243.82 145.62 243.55 146.12 243.59 146.68 244.12 146.65 244.38 146.12 244.66ZM110.38 253.16 109.76 253.12 109.32 252.62 109.38 251.93 109.88 251.50 110.12 251.46 110.38 251.77 110.57 252.88 110.38 253.16ZM112.62 254.39 111.88 254.27 111.58 253.62 112.09 253.38 112.62 253.49 112.94 253.88 112.62 254.39ZM147.88 256.19 147.12 256.17 146.73 255.62 146.91 254.88 147.62 254.26 147.97 254.38 148.24 255.12 148.17 255.88 147.88 256.19ZM116.62 276.95 115.62 277.04 112.12 276.07 111.28 275.12 110.90 273.62 111.17 272.38 111.88 271.45 113.62 270.10 115.12 269.70 116.62 268.98 117.43 269.38 118.81 271.38 119.11 273.62 119.00 274.38 118.26 275.88 117.62 276.50 116.62 276.95Z"/><path fill-rule="evenodd" fill="rgb(163,163,163)" d="M150.12 243.39 148.38 243.01 147.12 242.45 146.47 241.88 146.32 241.38 146.66 239.62 145.10 237.62 145.03 237.12 145.45 235.12 144.70 232.38 143.88 230.88 144.12 230.32 145.62 229.37 146.28 227.88 146.70 227.38 149.38 226.00 151.12 224.78 151.88 224.63 152.38 224.94 153.34 226.12 154.38 226.79 156.50 229.12 156.81 229.88 157.14 232.38 157.79 234.12 157.85 235.12 157.51 236.38 155.12 241.01 154.12 241.59 152.88 242.81 150.12 243.39ZM165.88 237.94 165.71 237.62 165.88 237.40 166.03 237.62 165.88 237.94ZM113.38 250.45 112.34 250.38 111.88 249.99 111.14 248.88 109.88 248.36 108.12 248.18 107.84 247.62 107.97 247.12 108.38 246.71 109.88 246.57 110.38 246.26 111.30 244.38 112.62 243.15 113.12 243.26 113.69 243.88 114.90 246.62 113.96 248.38 113.89 249.88 113.38 250.45ZM116.38 276.68 115.62 276.70 112.43 275.88 111.62 274.96 111.29 273.62 111.41 272.88 111.71 272.38 113.88 270.55 116.62 269.50 117.29 269.88 118.19 271.38 118.75 273.62 118.50 274.62 117.81 275.88 117.20 276.38 116.38 276.68Z"/><path fill-rule="evenodd" fill="rgb(173,173,173)" d="M149.88 242.88 149.12 242.84 147.88 242.43 146.87 241.62 146.80 241.12 147.23 239.38 145.67 237.38 145.91 234.88 145.15 232.12 144.50 230.88 144.82 230.38 145.98 229.62 146.62 228.29 147.12 227.75 150.88 225.33 151.62 225.13 152.12 225.39 153.10 226.62 154.28 227.38 156.19 229.38 156.47 230.12 156.75 232.38 157.43 234.38 157.45 235.12 155.38 239.74 154.88 240.14 153.88 240.43 152.88 242.00 151.38 242.21 149.88 242.88ZM113.12 249.76 112.70 249.62 112.30 248.62 110.76 247.88 110.42 247.38 112.60 244.62 112.88 244.49 113.12 244.67 113.36 245.62 113.98 246.62 113.26 248.38 113.31 249.38 113.12 249.76ZM116.38 276.38 115.38 276.36 112.63 275.62 111.99 274.88 111.71 273.62 112.12 272.70 113.12 271.99 114.18 270.88 116.38 270.15 116.88 270.27 117.62 271.24 118.18 272.38 118.40 273.38 118.22 274.38 117.62 275.56 117.12 276.05 116.38 276.38Z"/><path fill-rule="evenodd" fill="rgb(184,184,184)" d="M149.62 242.42 147.97 242.12 147.55 241.88 147.22 241.38 147.71 239.38 147.50 238.88 146.38 237.67 146.15 237.12 146.45 235.12 145.45 231.12 147.25 228.38 150.62 225.89 151.38 225.59 151.88 225.80 152.76 226.88 154.12 227.80 155.89 229.62 156.15 230.38 156.37 232.38 156.98 234.12 157.06 234.88 156.88 235.60 156.04 236.88 155.12 239.22 154.62 239.49 153.38 239.67 152.38 241.22 151.12 241.44 149.62 242.42ZM116.12 276.13 115.12 276.04 112.88 275.38 112.38 274.77 112.19 273.88 112.51 273.12 113.38 272.43 114.38 271.26 115.12 270.87 116.12 270.72 116.66 270.88 117.38 271.60 117.88 272.48 118.08 273.38 117.96 274.12 117.36 275.38 116.83 275.88 116.12 276.13Z"/><path fill-rule="evenodd" fill="rgb(194,194,194)" d="M149.38 241.97 148.38 241.93 147.65 241.38 147.64 240.88 148.14 239.38 147.98 238.88 146.88 237.62 146.66 237.12 146.97 235.38 146.31 233.12 146.24 231.38 147.38 228.95 150.12 226.65 150.88 226.17 151.38 226.10 153.88 228.08 155.59 229.88 155.99 232.38 156.60 234.12 156.62 234.88 155.67 236.38 154.88 238.46 154.62 238.68 153.12 239.02 151.88 240.18 150.62 240.40 149.89 241.62 149.38 241.97ZM116.62 275.65 115.88 275.86 115.12 275.76 113.38 275.16 112.86 274.62 112.78 274.12 112.96 273.62 114.61 271.62 115.12 271.31 115.88 271.21 116.62 271.47 117.30 272.12 117.68 272.88 117.75 273.62 117.54 274.38 117.12 275.16 116.62 275.65Z"/><path fill-rule="evenodd" fill="rgb(204,204,204)" d="M149.12 241.46 148.62 241.54 148.11 241.12 148.62 239.38 148.29 238.62 147.18 237.12 147.46 235.38 146.79 233.62 146.70 232.12 147.00 230.62 147.42 229.62 149.71 227.38 151.12 226.59 151.62 226.79 153.62 228.36 155.15 229.88 155.45 230.62 155.55 232.12 156.16 233.88 156.19 234.62 154.38 237.87 153.12 238.36 151.88 239.24 150.12 239.52 149.81 239.88 149.44 241.12 149.12 241.46ZM116.38 275.42 115.62 275.56 114.91 275.38 114.05 274.88 113.73 274.38 114.60 272.38 115.38 271.75 115.88 271.72 116.62 272.02 117.12 272.49 117.41 273.12 117.21 274.38 116.38 275.42Z"/><path fill-rule="evenodd" fill="rgb(214,214,214)" d="M149.62 238.92 148.88 238.62 147.83 237.38 147.75 236.88 147.96 235.62 147.13 233.62 147.06 232.62 147.47 230.62 147.81 229.88 148.88 228.95 149.98 227.62 151.12 227.10 153.38 228.65 154.85 230.12 155.09 230.88 155.15 232.12 155.73 233.62 155.81 234.38 154.08 237.38 151.62 238.68 149.62 238.92ZM116.12 275.15 115.28 275.12 114.88 274.88 114.57 274.38 114.88 272.92 115.62 272.29 116.62 272.56 117.09 273.38 116.86 274.38 116.12 275.15Z"/><path fill-rule="evenodd" fill="rgb(224,224,224)" d="M151.38 238.17 149.62 238.30 149.12 238.13 148.62 237.66 148.37 237.12 148.40 235.62 147.41 233.38 148.08 230.38 150.12 228.04 150.88 227.62 151.70 227.88 154.38 230.12 154.68 230.88 154.82 232.38 155.45 234.12 155.19 234.88 153.95 236.88 151.38 238.17ZM116.12 274.63 115.46 274.62 115.18 274.12 115.38 273.28 115.88 272.93 116.38 273.06 116.62 273.45 116.52 274.12 116.12 274.63Z"/><path fill-rule="evenodd" fill="rgb(235,235,235)" d="M151.12 237.63 149.88 237.77 149.15 237.38 148.83 235.62 147.96 234.12 147.76 233.38 148.54 230.62 150.38 228.49 150.88 228.21 151.51 228.38 154.06 230.38 154.42 232.38 155.08 234.12 154.80 234.88 153.62 236.59 151.12 237.63Z"/><path fill-rule="evenodd" fill="rgb(245,245,245)" d="M150.88 236.91 150.12 237.11 149.74 236.88 149.30 235.62 148.32 234.12 148.14 233.38 149.12 230.75 150.88 229.20 152.88 229.98 153.62 230.55 154.01 232.38 154.70 234.12 154.38 234.95 153.38 236.21 152.88 236.39 151.62 236.38 150.88 236.91Z"/></g><circle cx="175.9" cy="226.9" r="0.4" fill="#555"/><circle cx="135.1" cy="284.6" r="0.4" fill="#555"/><circle cx="115.9" cy="215.6" r="0.4" fill="#555"/><circle cx="170.1" cy="250.6" r="0.4" fill="#555"/><circle cx="114.1" cy="218.1" r="0.4" fill="#555"/><circle cx="170.1" cy="223.9" r="0.4" fill="#555"/><circle cx="116.9" cy="221.9" r="0.4" fill="#555"/><circle cx="102.4" cy="226.6" r="0.4" fill="#555"/><circle cx="113.6" cy="224.4" r="0.4" fill="#555"/><circle cx="129.9" cy="225.6" r="0.4" fill="#555"/><circle cx="133.1" cy="284.1" r="0.4" fill="#555"/><circle cx="154.1" cy="282.9" r="0.4" fill="#555"/><circle cx="159.9" cy="274.1" r="0.4" fill="#555"/><circle cx="173.4" cy="242.6" r="0.4" fill="#555"/><circle cx="155.4" cy="280.6" r="0.4" fill="#555"/><circle cx="136.9" cy="220.9" r="0.4" fill="#555"/><circle cx="131.6" cy="220.4" r="0.4" fill="#555"/><circle cx="125.9" cy="287.6" r="0.4" fill="#555"/><circle cx="174.6" cy="246.1" r="0.4" fill="#555"/><circle cx="144.1" cy="284.4" r="0.4" fill="#555"/><circle cx="140.1" cy="285.1" r="0.4" fill="#555"/><circle cx="110.6" cy="219.9" r="0.4" fill="#555"/><circle cx="116.4" cy="219.4" r="0.4" fill="#555"/><circle cx="100.6" cy="220.6" r="0.4" fill="#555"/><circle cx="162.1" cy="262.9" r="0.4" fill="#555"/><circle cx="165.6" cy="257.9" r="0.4" fill="#555"/><circle cx="117.9" cy="221.1" r="0.4" fill="#555"/><circle cx="174.6" cy="227.1" r="0.4" fill="#555"/><circle cx="145.4" cy="284.1" r="0.4" fill="#555"/><circle cx="134.9" cy="223.1" r="0.4" fill="#555"/></g><g clip-path="url(#cD1)"><g filter="url(#jet)"><rect x="271.6" y="210.6" width="83.69999999999999" height="83.1" fill="#000"/><path fill-rule="evenodd" fill="rgb(10,10,10)" d="M298.73 283.07 297.23 283.16 293.98 282.39 291.73 282.68 290.48 282.56 289.23 281.80 287.16 279.48 286.61 277.98 286.27 274.98 285.98 274.54 284.62 273.48 284.46 270.98 283.33 268.98 283.18 268.23 283.39 267.23 283.94 266.23 285.63 264.98 286.02 262.48 286.38 261.73 287.48 260.78 288.98 259.07 293.48 257.35 299.23 256.78 302.23 256.95 305.44 257.98 306.98 258.23 307.91 257.98 309.23 257.10 310.23 256.73 313.98 256.86 315.23 256.34 315.67 255.72 315.74 255.22 315.06 252.22 315.37 246.47 314.14 242.72 314.21 240.97 314.72 239.97 316.23 238.42 317.14 236.72 318.48 235.02 319.71 232.97 323.23 229.83 325.23 229.04 328.29 228.72 330.23 227.36 330.98 227.19 332.73 227.30 334.48 227.98 335.73 228.24 343.48 228.06 344.48 228.39 345.48 229.08 346.39 230.47 346.57 232.22 346.33 234.47 345.23 237.33 345.10 238.22 345.23 238.98 346.14 241.22 346.47 244.22 345.75 246.97 345.30 251.47 344.35 254.97 343.23 257.32 342.84 259.73 341.73 263.98 341.98 265.11 342.48 265.78 342.98 265.97 343.85 265.98 341.88 271.98 340.48 273.71 339.34 275.98 337.23 278.81 335.80 281.48 334.98 282.07 333.98 282.37 330.23 282.33 328.73 281.89 326.48 280.54 324.23 279.96 321.73 279.61 318.17 277.98 317.23 277.75 312.73 279.03 311.74 278.98 308.98 278.30 307.98 278.36 305.23 279.52 300.48 281.94 298.73 283.07Z"/><path fill-rule="evenodd" fill="rgb(20,20,20)" d="M298.23 282.74 296.73 282.64 293.98 281.89 291.73 282.21 290.48 282.05 289.48 281.34 287.57 278.98 287.20 277.48 287.25 274.48 286.98 273.71 285.77 271.98 285.54 268.48 286.73 265.82 286.91 263.73 287.18 262.73 288.76 260.48 290.23 259.33 293.48 258.35 294.98 258.32 297.73 257.93 301.73 257.81 307.23 258.86 313.51 257.98 314.73 257.52 315.93 256.48 316.35 255.47 315.60 251.97 315.99 245.97 314.77 242.97 314.61 241.97 314.70 241.22 315.24 240.22 317.10 238.72 317.81 237.22 320.04 233.72 321.23 232.34 323.23 230.79 324.98 229.84 328.48 229.24 330.23 228.36 331.23 228.11 332.98 228.26 336.48 229.38 339.73 228.69 343.23 228.65 344.23 228.89 345.15 229.47 345.75 230.22 346.00 230.97 345.85 233.97 345.56 235.22 344.60 237.22 344.45 237.97 344.73 239.17 345.60 241.22 345.95 243.72 345.14 246.97 344.84 250.97 343.84 254.47 342.48 257.48 341.02 263.73 340.90 265.23 341.19 268.98 340.83 271.48 339.04 275.23 336.73 278.57 335.48 281.11 334.73 281.68 333.98 281.91 331.48 282.06 329.98 281.90 328.73 281.43 326.98 280.19 321.23 278.58 317.98 277.07 314.73 277.06 312.23 276.33 310.23 277.12 307.98 276.93 306.93 277.23 304.98 278.21 298.98 282.43 298.23 282.74Z"/><path fill-rule="evenodd" fill="rgb(31,31,31)" d="M297.98 282.48 296.73 282.36 293.98 281.57 291.73 281.89 290.73 281.78 289.73 281.09 287.87 278.73 287.56 277.23 287.70 274.23 287.48 273.46 286.60 271.98 286.41 271.23 286.50 268.48 287.23 265.56 287.48 263.23 287.95 262.23 289.02 260.73 289.73 260.05 290.73 259.54 293.23 258.87 295.23 258.78 297.23 258.40 302.23 258.24 305.73 259.08 307.48 259.26 310.73 259.00 313.73 258.41 314.73 258.01 316.23 256.68 316.74 255.47 315.96 251.97 316.43 245.72 315.12 242.97 314.96 241.97 315.07 241.22 315.48 240.53 316.23 239.97 316.98 239.73 318.23 239.74 318.60 239.47 318.79 238.97 318.34 237.97 318.48 237.22 320.48 233.72 321.48 232.57 325.23 230.12 328.48 229.57 331.23 228.54 332.98 228.65 336.48 229.82 339.98 229.01 343.48 229.12 344.23 229.33 344.98 229.81 345.63 230.97 345.37 232.72 345.47 234.22 345.13 235.47 344.20 237.22 344.05 237.97 344.20 238.72 345.26 241.22 345.62 243.72 344.74 247.22 344.50 250.97 343.50 254.22 342.20 256.98 340.58 263.98 340.43 265.48 340.70 269.48 340.39 271.48 338.70 274.98 336.48 278.17 335.10 280.98 334.48 281.40 333.73 281.59 331.23 281.76 329.98 281.63 328.94 281.23 327.23 279.89 320.48 277.87 318.23 276.72 314.98 276.51 312.23 275.86 309.98 276.48 307.98 276.25 307.15 276.48 304.83 277.73 298.98 282.05 297.98 282.48ZM339.59 234.47 339.48 233.86 338.98 233.90 338.98 234.51 339.23 234.64 339.59 234.47Z"/><path fill-rule="evenodd" fill="rgb(41,41,41)" d="M297.73 282.25 296.48 282.07 294.23 281.34 291.73 281.60 290.73 281.46 289.98 280.91 288.10 278.48 287.84 277.23 288.11 275.23 288.04 273.98 286.88 271.23 286.98 267.98 287.78 263.23 288.43 261.98 289.36 260.73 290.23 260.05 290.98 259.77 293.23 259.25 295.23 259.12 297.48 258.67 299.73 258.71 302.23 258.50 305.48 259.37 307.23 259.61 310.73 259.41 314.55 258.48 316.48 256.84 316.87 256.23 317.06 255.47 316.27 251.97 316.87 245.72 316.62 244.97 315.40 242.97 315.31 241.47 315.73 240.73 316.23 240.37 318.23 240.13 319.04 239.72 319.25 239.22 318.94 237.72 319.07 236.97 320.82 233.72 321.48 232.93 325.23 230.40 328.48 229.84 331.23 228.85 332.98 228.94 336.48 230.12 337.23 230.04 338.98 229.38 339.98 229.27 343.48 229.48 344.73 230.03 345.29 230.97 344.99 232.72 345.17 234.47 344.87 235.47 343.88 237.22 343.71 237.97 343.87 238.72 345.00 241.22 345.35 243.72 344.48 247.10 344.20 251.22 343.25 253.97 341.89 256.73 340.14 264.48 340.07 265.73 340.41 269.48 340.16 271.23 339.00 273.23 338.29 274.98 337.18 276.23 336.23 277.79 334.81 280.73 333.73 281.24 331.23 281.51 329.98 281.39 328.98 280.96 327.23 279.51 320.48 277.51 318.23 276.38 314.98 276.14 312.48 275.52 310.23 276.08 308.23 275.81 307.23 276.03 304.48 277.58 298.73 281.90 297.73 282.25ZM339.50 234.97 339.83 234.72 339.96 234.22 339.73 233.71 339.23 233.53 338.80 233.72 338.61 234.22 338.98 234.87 339.50 234.97Z"/><path fill-rule="evenodd" fill="rgb(51,51,51)" d="M297.98 281.99 296.73 281.92 294.23 281.11 291.73 281.32 290.91 281.23 290.21 280.73 289.48 279.54 288.30 278.23 288.11 276.98 288.45 274.48 288.20 273.23 287.22 271.23 287.30 267.73 287.95 263.48 288.38 262.48 289.42 260.98 290.73 260.09 297.48 258.91 299.73 259.00 302.23 258.71 305.73 259.78 307.23 259.95 310.98 259.71 314.73 258.72 316.72 256.98 317.19 256.23 317.37 255.47 316.58 252.22 317.30 245.47 316.99 244.72 315.78 243.22 315.53 241.72 315.73 241.21 316.23 240.72 318.73 240.36 319.61 239.72 319.71 239.22 319.38 237.72 319.45 236.97 320.98 233.97 321.73 233.02 325.48 230.53 328.73 230.02 331.48 229.09 332.98 229.19 336.48 230.37 339.73 229.50 343.23 229.76 344.48 230.24 344.95 230.97 344.69 232.72 344.94 234.47 344.64 235.47 343.60 237.22 343.40 238.22 344.69 240.97 345.11 243.72 344.25 246.97 343.97 251.22 343.04 253.72 341.59 256.23 340.53 261.98 339.79 264.48 339.73 265.73 340.17 269.48 339.91 271.23 338.73 273.02 338.06 274.73 336.20 276.98 334.48 280.31 333.98 280.66 331.73 281.18 330.23 281.22 329.04 280.73 327.98 279.53 327.48 279.23 323.98 277.97 320.48 277.19 317.98 275.98 315.23 275.89 312.73 275.25 309.98 275.81 307.98 275.42 304.48 277.26 298.55 281.73 297.98 281.99ZM339.80 235.22 340.16 234.72 340.15 233.97 339.73 233.43 338.98 233.39 338.44 233.97 338.55 234.72 339.23 235.32 339.80 235.22ZM333.77 247.47 334.12 247.22 334.11 246.97 333.73 246.67 333.31 246.72 333.23 247.22 333.77 247.47ZM329.26 258.98 329.23 258.65 328.98 258.56 328.74 258.73 328.72 258.98 328.98 259.13 329.26 258.98Z"/><path fill-rule="evenodd" fill="rgb(61,61,61)" d="M297.98 281.74 296.80 281.73 294.23 280.90 291.73 281.03 290.98 280.91 290.45 280.48 289.98 279.09 288.98 278.58 288.51 277.98 288.36 276.98 288.82 275.23 288.82 274.48 288.58 273.23 287.50 271.23 287.56 267.48 288.15 263.48 289.48 261.20 290.73 260.32 292.48 260.18 297.48 259.12 299.73 259.28 301.48 258.92 302.48 258.91 305.48 260.10 306.73 260.34 308.98 260.04 310.98 260.01 312.48 259.52 313.98 259.37 314.73 259.09 316.98 257.12 317.51 256.23 317.70 255.47 316.92 252.22 317.35 250.47 317.35 248.47 317.75 246.47 317.75 244.97 317.48 244.33 316.48 243.73 316.07 243.22 315.79 242.47 315.81 241.72 316.48 240.94 318.73 240.71 319.48 240.43 320.04 239.97 320.18 239.22 319.78 237.97 319.77 236.97 321.27 233.97 321.84 233.22 325.73 230.64 328.84 230.22 331.73 229.31 332.98 229.42 336.48 230.60 339.73 229.72 343.23 230.04 344.23 230.47 344.61 231.22 344.41 232.72 344.72 234.47 344.41 235.47 343.33 237.22 343.04 238.22 343.11 238.72 344.40 240.72 344.88 243.22 344.80 244.22 344.03 246.97 343.75 251.22 342.98 253.24 341.98 254.67 341.23 255.35 339.73 255.73 338.90 256.23 338.98 256.51 340.73 257.00 340.97 257.73 340.21 262.23 339.34 264.98 339.91 268.73 339.88 270.48 339.48 271.61 338.36 272.98 337.73 274.66 336.25 276.23 334.73 278.50 334.23 278.90 332.98 279.31 331.93 280.73 331.23 280.98 330.23 280.99 329.12 280.48 327.99 278.98 326.33 278.48 324.48 277.36 322.48 277.26 320.48 276.86 317.73 275.60 315.23 275.64 312.73 274.99 309.98 275.55 307.98 275.03 304.10 277.23 300.73 279.78 299.47 280.48 297.98 281.74ZM339.70 235.72 340.30 235.22 340.45 234.22 339.98 233.35 339.23 233.14 338.48 233.56 338.25 234.47 338.98 235.59 339.70 235.72ZM325.76 241.47 325.94 240.72 325.73 240.10 324.98 239.85 324.22 240.22 324.13 240.72 324.67 241.47 325.23 241.72 325.76 241.47ZM334.35 247.97 334.85 247.22 334.48 246.55 333.73 246.19 333.23 246.21 332.76 246.47 332.57 246.97 332.97 247.72 333.73 248.11 334.35 247.97ZM332.04 251.72 331.98 251.35 331.84 251.47 332.04 251.72ZM329.64 259.48 329.87 258.98 329.73 258.12 329.23 257.77 328.48 258.02 328.06 258.73 328.20 259.23 328.98 259.68 329.64 259.48Z"/><path fill-rule="evenodd" fill="rgb(71,71,71)" d="M297.73 281.55 296.73 281.49 294.23 280.68 291.23 280.55 290.89 280.23 290.89 279.73 291.94 278.48 290.98 278.18 289.23 278.19 288.73 277.67 288.67 276.73 289.18 275.48 289.22 274.73 288.93 273.23 287.94 271.73 287.70 270.98 287.79 267.23 288.34 263.48 289.69 261.23 290.73 260.54 292.48 260.56 293.73 260.11 295.48 259.90 297.73 259.30 299.73 259.56 301.48 259.10 302.48 259.07 303.69 259.48 305.73 260.62 306.48 260.79 309.23 260.28 311.23 260.28 312.97 259.73 314.48 259.71 317.23 257.34 318.14 255.47 317.40 252.22 317.89 250.72 317.89 248.97 318.28 247.22 318.36 245.47 318.88 244.22 318.90 243.72 318.48 243.29 317.23 243.53 316.73 243.43 316.23 242.90 316.07 241.97 316.30 241.47 316.73 241.20 318.73 241.08 319.83 240.72 320.65 240.22 320.79 239.47 320.14 237.97 320.08 236.97 321.98 233.44 322.73 232.87 324.23 232.20 325.12 231.22 325.73 230.85 329.23 230.38 331.73 229.58 332.98 229.67 336.48 230.81 337.23 230.73 339.48 229.95 342.98 230.26 343.98 230.71 344.25 231.22 344.15 232.72 344.48 233.97 344.47 234.72 344.19 235.47 343.05 237.22 342.33 238.97 343.48 239.64 343.98 240.28 344.36 241.22 344.61 242.72 344.58 243.97 343.84 246.72 343.57 250.97 342.98 252.67 341.98 254.12 340.98 254.83 338.23 255.69 337.65 256.48 337.71 256.98 337.98 257.26 339.98 257.36 340.48 257.70 340.61 258.23 340.10 260.23 339.88 262.48 338.94 264.73 339.03 265.98 339.70 268.73 339.68 270.48 339.23 271.53 338.07 272.73 337.71 273.98 337.25 274.73 334.48 277.70 332.98 278.33 332.17 278.98 331.39 280.48 330.48 280.75 329.57 280.48 329.03 279.73 329.12 279.23 329.98 278.88 330.21 278.48 329.48 276.53 328.98 275.92 328.48 275.92 328.23 276.15 328.02 277.98 327.73 278.27 327.23 278.31 326.48 278.04 324.98 276.82 320.48 276.51 317.73 275.23 315.23 275.42 312.73 274.77 309.98 275.32 307.98 274.68 303.98 277.05 300.48 279.65 299.10 280.23 298.31 281.23 297.73 281.55ZM339.65 236.22 340.48 235.64 340.74 234.47 340.55 233.72 340.23 233.26 339.73 232.98 339.23 232.96 338.33 233.47 338.06 234.47 338.73 235.91 339.23 236.22 339.65 236.22ZM325.65 242.22 326.06 241.97 326.29 241.47 326.44 240.22 326.23 239.73 324.98 239.39 323.93 239.72 323.50 240.22 323.66 240.97 324.73 242.03 325.65 242.22ZM334.55 248.47 335.49 247.47 335.54 247.22 335.22 246.72 333.98 245.93 333.23 245.90 332.49 246.22 332.17 246.97 332.48 247.77 333.73 248.66 334.55 248.47ZM332.16 252.47 332.59 251.97 332.68 251.22 332.48 250.75 331.98 250.58 331.48 250.75 331.17 251.47 331.48 252.32 331.73 252.51 332.16 252.47ZM334.33 258.48 334.62 257.98 334.48 257.32 333.73 256.53 333.23 256.47 333.07 257.48 333.25 258.23 333.73 258.62 334.33 258.48ZM329.54 259.98 330.16 259.48 330.24 258.23 329.86 257.23 329.23 257.01 327.87 257.73 327.55 258.23 327.53 258.73 327.74 259.23 328.26 259.73 328.98 259.99 329.54 259.98Z"/><path fill-rule="evenodd" fill="rgb(82,82,82)" d="M297.73 281.23 296.73 281.24 294.98 280.59 292.48 280.24 292.07 279.98 292.56 279.23 293.48 278.69 294.23 278.57 295.98 278.83 296.98 278.50 297.31 278.23 297.50 277.73 297.20 277.23 293.48 276.78 289.73 277.61 289.23 277.56 289.02 277.23 289.17 276.48 289.78 275.73 289.92 275.23 289.31 273.23 287.98 271.14 287.99 267.23 288.45 263.73 288.86 262.73 289.73 261.44 290.73 260.76 292.73 260.91 293.98 260.36 295.73 260.12 297.23 259.56 298.23 259.52 299.73 259.89 301.98 259.20 303.48 259.57 305.98 261.48 306.48 261.64 308.98 260.58 311.48 260.59 312.98 260.12 314.23 260.52 314.73 260.37 315.84 258.98 317.48 257.81 318.48 256.19 318.98 255.95 320.48 256.38 320.73 256.23 320.90 255.72 320.48 255.04 319.23 254.73 318.73 254.40 318.20 252.97 318.52 250.72 318.48 248.97 318.95 245.72 319.58 244.22 319.57 243.47 319.23 242.91 318.48 242.33 317.98 242.40 317.23 242.87 316.73 242.84 316.46 242.47 316.48 241.96 316.98 241.60 318.23 241.78 322.23 240.67 322.73 240.82 324.48 242.37 325.23 242.72 325.98 242.69 326.61 241.97 327.01 239.97 326.73 239.36 325.98 239.09 324.48 239.03 322.73 239.80 322.23 239.82 321.48 239.34 320.53 237.97 320.38 237.47 320.48 236.77 321.46 235.47 321.82 234.22 322.23 233.60 322.98 233.08 324.48 232.53 325.23 231.47 325.98 230.95 330.23 230.52 331.98 229.88 332.73 229.91 333.98 230.42 336.48 231.02 337.23 230.94 338.73 230.30 339.48 230.17 342.73 230.47 343.73 230.95 343.93 231.47 343.92 232.97 344.28 234.22 344.18 234.97 342.48 237.77 341.23 238.78 340.97 239.22 341.48 239.80 342.98 239.75 343.48 240.00 343.98 240.72 344.26 241.72 344.37 243.47 343.70 245.97 343.23 251.37 342.48 252.96 341.73 253.80 340.73 254.39 337.94 255.22 337.34 255.72 337.03 256.48 337.09 257.48 337.48 258.01 337.98 258.08 339.48 257.75 340.01 257.98 340.21 258.48 339.71 260.23 339.48 262.70 338.31 263.98 338.70 266.48 339.48 268.65 339.48 270.45 338.98 271.41 337.55 272.48 337.32 273.73 336.98 274.38 334.73 276.46 332.98 277.22 331.98 278.22 331.48 278.41 330.73 278.09 330.23 277.35 329.78 273.98 329.48 273.55 328.98 273.69 327.05 275.23 326.93 275.73 327.43 277.23 327.23 277.61 326.98 277.62 325.73 276.17 319.98 276.01 318.96 275.48 317.98 274.50 316.48 275.08 315.48 275.21 312.73 274.55 309.98 275.08 308.48 274.33 307.98 274.33 305.96 275.73 301.98 278.04 300.48 279.33 298.72 279.73 298.44 279.98 298.05 280.98 297.73 281.23ZM339.76 236.72 340.73 235.94 341.08 234.72 340.54 233.22 339.98 232.81 339.48 232.73 338.73 232.94 338.23 233.34 337.89 233.97 337.85 234.47 338.48 236.39 338.98 236.71 339.76 236.72ZM337.63 239.72 337.96 239.47 337.75 238.97 337.03 238.97 337.04 239.47 337.63 239.72ZM334.32 249.22 335.73 248.19 336.98 247.68 337.32 247.22 337.28 246.72 335.73 246.51 333.98 245.66 332.98 245.67 332.29 245.97 331.87 246.72 331.99 247.72 333.38 249.22 334.32 249.22ZM341.28 249.47 341.30 248.72 340.98 248.30 340.73 248.28 340.56 248.72 340.72 249.22 340.98 249.48 341.28 249.47ZM325.38 250.72 325.77 249.97 325.60 249.47 325.23 249.26 324.77 249.72 324.62 250.47 324.73 250.83 325.38 250.72ZM332.25 252.97 332.84 252.22 333.03 251.22 332.79 250.22 332.23 250.08 330.98 250.43 330.73 251.22 331.23 252.79 331.73 253.12 332.25 252.97ZM337.26 252.22 337.73 251.74 337.74 251.22 337.48 250.82 336.98 250.72 336.48 251.04 336.27 251.72 336.61 252.22 337.26 252.22ZM324.01 254.47 324.25 254.22 324.28 253.72 323.71 251.72 322.73 251.08 321.71 250.97 321.43 251.22 321.41 251.72 322.23 253.33 323.03 254.22 323.48 254.47 324.01 254.47ZM334.15 259.23 335.07 258.48 335.13 257.48 333.48 255.15 332.98 254.89 332.48 254.91 332.09 255.47 332.73 258.40 333.23 259.11 334.15 259.23ZM330.03 260.23 330.48 259.90 330.64 259.23 330.58 256.48 330.23 255.84 327.48 256.37 325.73 256.99 324.98 257.41 324.59 257.98 324.54 258.48 324.98 259.00 326.73 258.89 328.48 260.10 330.03 260.23ZM335.03 269.73 335.13 269.23 334.98 268.93 334.48 268.80 334.19 268.98 334.08 269.48 334.23 269.73 334.73 269.90 335.03 269.73ZM318.19 272.98 318.16 272.48 317.98 272.30 317.73 272.44 317.98 273.11 318.19 272.98ZM330.23 280.23 329.86 279.98 329.98 279.83 330.49 279.98 330.23 280.23Z"/><path fill-rule="evenodd" fill="rgb(92,92,92)" d="M300.48 278.98 299.48 279.20 298.48 278.70 298.34 277.73 298.98 276.48 298.73 276.30 295.98 276.65 292.73 276.11 291.98 275.79 290.48 274.53 289.59 272.98 288.38 271.48 288.14 270.73 288.36 268.73 288.19 266.98 288.52 264.23 288.92 262.98 289.93 261.48 290.98 260.94 292.98 261.34 294.02 260.73 295.73 260.45 297.48 259.72 298.23 259.73 299.48 260.26 299.98 260.28 301.23 259.54 302.23 259.36 302.98 259.52 303.75 259.98 305.98 262.42 306.48 262.62 306.98 262.44 308.16 261.23 308.98 260.87 310.23 260.82 312.07 261.23 311.93 262.98 312.23 263.42 312.73 263.50 313.48 263.09 315.05 261.48 315.98 259.44 316.48 259.10 317.98 258.70 318.84 256.98 319.23 256.92 319.68 257.23 319.98 258.86 320.23 259.19 320.73 259.31 320.91 258.98 320.85 257.73 321.52 256.23 321.73 254.67 322.23 254.63 323.73 255.19 324.63 254.97 324.90 254.22 324.73 252.72 324.85 252.22 326.16 250.97 326.45 249.97 325.96 248.72 325.48 248.37 324.98 248.46 323.69 250.47 323.23 250.62 321.48 250.47 320.58 250.97 320.59 251.47 321.40 253.47 321.44 253.97 321.23 254.22 319.98 254.01 319.48 253.67 319.14 252.72 319.27 250.97 318.91 249.22 319.47 245.72 320.24 243.97 319.93 242.22 320.23 241.95 322.48 241.44 323.23 241.83 324.48 243.35 325.73 243.39 326.48 243.03 326.98 242.47 327.60 239.97 327.38 239.22 326.73 238.74 324.48 238.56 322.48 239.14 321.73 238.82 321.23 238.31 320.79 237.47 320.80 236.97 321.23 236.36 322.48 235.51 322.33 234.47 322.48 233.97 323.12 233.47 324.76 232.97 325.18 232.47 325.59 231.47 326.73 230.97 329.48 231.05 331.73 231.87 332.55 231.72 333.48 231.03 333.98 230.88 334.98 230.89 336.73 231.24 339.23 230.43 342.48 230.70 343.24 230.97 343.57 231.47 343.62 232.97 344.01 234.22 343.91 234.97 342.03 237.72 340.24 238.47 339.77 239.22 340.19 239.72 341.23 240.26 343.23 240.21 343.73 240.71 343.99 241.47 344.07 243.22 343.45 244.72 343.30 247.22 342.98 248.53 342.73 248.89 342.48 248.89 340.73 247.02 340.23 247.25 339.70 248.72 339.80 249.47 340.43 250.72 340.69 251.97 340.98 252.27 341.23 252.17 342.23 250.59 342.73 250.31 342.87 251.22 342.48 252.23 340.53 253.72 338.98 253.71 337.23 255.04 336.74 255.72 336.23 257.02 335.98 257.22 335.73 257.12 334.70 256.23 333.78 254.72 332.62 253.97 332.56 253.47 333.15 252.22 333.64 250.22 335.23 249.54 336.23 248.78 337.48 248.24 337.94 247.47 338.22 246.22 338.15 245.97 337.73 245.80 335.98 246.13 333.98 245.41 332.48 245.53 331.84 245.97 331.51 246.97 331.56 247.72 332.30 249.22 331.73 249.58 329.98 249.71 329.80 249.97 330.85 253.47 330.74 254.22 329.23 255.22 326.98 255.67 325.23 256.62 324.33 257.48 324.01 258.48 324.11 258.98 324.73 259.48 326.73 259.47 328.73 260.40 330.48 260.64 331.36 260.48 331.16 258.73 331.48 257.52 331.73 257.56 332.68 259.73 333.23 259.97 334.73 259.54 336.23 258.27 337.48 258.86 338.98 258.39 339.48 258.44 339.58 258.98 339.18 260.23 339.16 261.98 338.99 262.48 338.48 262.75 337.23 262.81 336.80 263.48 336.97 263.98 337.93 265.23 338.10 266.98 338.98 267.87 339.20 268.48 339.33 269.98 338.98 270.98 337.98 271.44 336.48 271.07 336.01 270.48 336.20 268.98 335.95 268.48 334.73 268.09 333.77 268.48 333.39 269.23 333.47 269.98 333.93 270.48 335.20 271.23 335.33 271.73 335.22 272.48 334.86 273.23 334.23 273.61 333.69 273.48 332.48 272.15 331.98 272.20 331.69 272.48 331.59 272.98 332.78 274.48 333.07 275.23 331.96 277.23 331.48 277.67 330.98 277.57 330.60 276.98 330.63 276.48 331.24 275.23 331.04 274.23 331.13 272.98 330.85 272.73 329.98 272.43 329.48 272.48 327.98 273.60 324.73 275.53 323.73 275.51 321.73 274.94 320.48 275.48 319.98 275.50 319.40 275.23 319.04 274.73 318.98 274.23 319.25 273.23 319.13 272.73 318.48 271.85 317.73 271.47 317.24 271.73 317.13 271.98 317.10 273.98 316.79 274.48 316.23 274.84 314.98 274.94 312.98 274.32 310.23 274.86 309.71 274.73 308.73 274.00 307.98 273.96 305.61 275.73 301.73 277.78 300.48 278.98ZM339.59 237.47 340.23 237.12 340.99 236.22 341.44 235.47 341.50 234.97 340.92 233.22 340.23 232.58 339.73 232.46 338.98 232.60 338.23 233.07 337.75 233.72 337.61 234.47 337.77 236.22 337.98 236.74 338.73 237.34 339.59 237.47ZM325.77 235.97 325.73 235.50 325.43 235.47 325.21 235.72 325.38 235.97 325.77 235.97ZM338.57 240.22 339.21 239.47 338.82 238.72 337.73 238.16 336.98 238.25 336.48 238.55 336.30 239.22 336.98 240.18 337.73 240.47 338.57 240.22ZM324.23 244.22 324.22 243.97 323.98 243.82 323.65 243.97 323.90 244.22 324.23 244.22ZM338.30 252.97 338.48 252.91 338.55 252.47 338.37 250.72 338.15 250.22 337.23 249.81 336.23 250.07 335.93 250.47 335.71 251.47 335.98 252.61 336.73 253.01 338.30 252.97ZM297.48 280.78 296.73 280.90 295.23 280.30 293.37 279.98 293.15 279.73 293.48 279.30 293.98 279.13 295.48 279.44 297.23 279.42 297.58 279.98 297.48 280.78Z"/><path fill-rule="evenodd" fill="rgb(102,102,102)" d="M327.73 254.98 325.98 255.22 325.73 255.13 325.55 254.72 325.27 252.97 325.63 252.22 326.73 251.63 327.48 251.58 327.98 251.78 328.26 251.72 328.29 251.47 327.48 250.87 326.91 248.72 325.73 247.38 325.23 247.31 324.98 247.52 323.73 249.66 323.23 250.09 319.98 250.13 319.51 249.72 319.33 249.22 319.90 245.72 320.48 244.75 321.23 244.00 321.73 243.99 324.98 246.19 325.28 245.97 325.87 244.22 327.98 242.60 328.48 242.87 329.51 244.47 330.23 244.51 330.63 243.97 330.58 243.22 330.23 242.72 329.23 241.89 328.23 241.40 328.11 239.72 327.48 238.60 326.73 238.10 325.23 238.05 324.53 237.72 324.49 237.47 324.73 237.22 325.98 236.99 326.48 236.68 326.61 235.97 326.23 235.02 325.48 234.44 324.23 234.55 323.96 234.47 323.88 234.22 325.23 233.54 325.85 231.72 326.23 231.36 326.73 231.20 328.73 231.30 330.73 232.11 331.73 232.27 332.98 232.09 334.48 231.21 336.73 231.50 338.98 230.75 340.48 231.03 342.23 230.98 342.91 231.22 343.22 231.72 343.25 232.97 343.63 234.72 343.23 235.40 342.53 235.97 341.98 237.11 341.48 237.45 341.05 237.22 341.23 236.72 342.18 235.47 341.65 233.72 340.48 232.24 339.98 232.02 339.48 232.10 338.48 232.59 337.60 233.47 337.25 234.47 337.26 237.22 335.98 238.31 335.79 238.97 336.48 240.28 337.48 241.17 338.23 241.10 339.98 240.52 341.48 240.80 342.73 240.54 343.23 240.65 343.52 240.97 343.74 241.72 343.54 242.97 343.23 243.13 341.98 242.51 341.48 242.57 341.10 243.22 340.93 244.47 340.48 244.90 337.98 244.95 335.98 245.74 333.73 245.15 332.48 245.23 331.73 245.52 331.31 246.22 330.93 248.47 328.98 248.86 328.51 249.22 328.50 250.72 329.71 251.97 329.84 253.47 329.23 254.48 328.48 254.86 327.73 254.98ZM322.73 238.51 322.23 238.45 321.62 237.97 321.36 237.47 321.48 236.95 322.23 236.76 323.44 237.47 323.51 237.97 322.73 238.51ZM336.61 242.97 336.70 242.72 336.30 242.72 336.23 242.98 336.61 242.97ZM342.73 247.73 342.23 247.72 341.46 246.47 341.33 245.47 341.73 245.09 342.48 245.17 342.87 245.72 342.99 246.97 342.73 247.73ZM335.98 255.99 335.48 256.18 335.11 255.97 334.23 254.47 333.20 253.47 333.79 250.97 334.48 250.41 334.91 250.47 335.13 250.72 335.55 252.97 336.67 254.22 335.98 255.99ZM322.98 259.26 321.98 258.86 321.56 257.98 321.98 256.56 322.48 255.75 322.73 255.65 323.73 255.87 324.27 256.23 323.23 259.07 322.98 259.26ZM299.98 278.74 299.48 278.66 299.07 278.23 299.23 277.55 300.06 276.98 300.15 276.73 299.50 275.98 298.48 275.72 296.23 276.28 292.73 275.43 290.96 274.23 288.57 271.23 288.41 270.48 288.69 268.73 288.40 266.98 288.74 263.98 289.48 262.37 290.48 261.31 291.23 261.24 293.23 261.93 294.48 261.13 295.73 260.96 296.98 260.18 297.73 259.96 298.65 260.23 299.73 261.24 299.98 261.22 301.26 259.73 302.48 259.54 303.42 259.98 305.73 262.85 306.48 263.25 307.43 262.98 308.33 261.73 308.98 261.24 309.73 261.10 310.73 261.32 311.23 261.79 311.48 263.61 311.77 263.98 312.23 264.14 313.48 263.61 315.48 261.87 315.77 261.48 316.09 260.23 316.73 259.68 318.73 259.70 320.23 260.54 321.98 261.10 322.73 260.77 323.48 259.82 324.98 260.08 326.73 259.86 330.23 261.06 332.48 262.17 332.98 261.98 334.22 260.48 335.73 259.58 336.48 259.45 337.73 259.62 338.35 259.98 338.23 261.50 336.73 262.50 336.26 263.23 336.26 263.98 337.23 265.23 337.37 265.73 337.23 266.43 336.86 266.98 335.98 267.50 334.48 267.55 333.73 267.84 333.02 268.73 332.48 270.52 330.73 271.40 330.23 271.26 330.04 270.98 329.79 269.23 329.48 268.51 329.23 268.39 328.73 268.53 328.20 268.98 327.88 269.73 328.01 270.48 328.76 271.73 328.53 272.48 327.98 273.03 324.98 274.87 324.23 275.01 323.73 274.86 322.16 273.23 319.73 272.42 318.23 271.17 317.48 271.00 316.88 271.48 316.70 273.73 316.46 274.23 315.98 274.59 314.98 274.69 312.98 274.06 310.23 274.56 308.98 273.64 308.23 273.46 307.48 273.85 305.48 275.54 302.73 276.92 301.23 277.44 300.49 278.48 299.98 278.74ZM338.48 270.81 337.73 270.71 337.28 269.98 337.73 268.74 338.23 268.24 338.79 268.48 339.08 269.48 338.98 270.37 338.48 270.81Z"/><path fill-rule="evenodd" fill="rgb(112,112,112)" d="M335.98 245.24 334.48 244.94 331.98 244.91 331.38 244.72 331.04 242.97 329.25 240.97 327.23 237.47 326.95 235.72 325.96 233.72 326.14 232.22 326.48 231.65 326.98 231.47 327.98 231.48 330.48 232.37 332.23 232.55 333.48 232.31 334.73 231.56 336.98 231.87 338.71 231.22 338.98 231.36 338.95 231.72 336.98 233.66 335.73 234.29 335.41 234.72 335.48 234.98 336.27 235.47 336.57 236.47 336.35 237.22 335.44 237.97 335.19 238.47 336.36 241.22 335.48 242.47 335.38 243.22 335.73 243.88 336.77 244.47 336.53 244.97 335.98 245.24ZM342.48 233.17 341.98 233.01 341.26 232.22 341.11 231.72 341.37 231.47 342.23 231.43 342.64 231.72 342.73 232.47 342.48 233.17ZM342.98 241.95 342.43 241.72 342.34 241.47 342.58 241.22 342.98 241.22 343.13 241.47 342.98 241.95ZM339.73 244.27 337.98 244.08 337.73 243.91 337.64 243.47 337.83 242.47 338.14 241.97 338.98 241.51 339.98 241.28 340.58 241.47 340.77 241.97 340.38 243.72 339.73 244.27ZM329.98 248.01 328.98 247.88 327.98 247.15 326.98 246.90 326.43 246.47 326.15 245.72 326.20 244.97 326.98 243.94 327.98 243.60 328.41 243.97 329.17 245.22 330.73 245.47 330.87 245.97 330.73 247.18 330.48 247.71 329.98 248.01ZM322.73 249.75 320.48 249.73 319.98 249.52 319.73 249.12 319.70 248.22 320.21 245.97 320.68 245.22 321.23 244.87 321.98 244.94 322.88 245.47 323.75 246.22 324.21 246.97 324.14 247.72 323.65 248.97 323.23 249.56 322.73 249.75ZM334.73 253.69 333.98 253.50 333.73 252.97 333.98 251.87 334.23 251.40 334.48 251.32 334.73 251.70 334.89 252.72 334.73 253.69ZM327.23 254.49 326.48 254.45 325.98 254.00 325.83 253.22 326.23 252.61 326.98 252.59 328.52 253.47 328.54 253.97 328.30 254.22 327.23 254.49ZM322.73 258.13 322.34 257.98 322.25 257.48 322.48 257.02 322.98 256.72 323.23 256.95 323.23 257.35 322.73 258.13ZM301.98 276.74 300.98 276.54 298.98 275.39 298.23 275.41 296.98 275.85 296.23 275.91 292.98 274.92 291.37 273.98 289.09 271.48 288.74 270.48 289.28 268.73 288.64 266.98 288.86 264.48 289.23 263.23 290.23 261.80 290.73 261.53 291.23 261.55 293.48 262.60 295.73 262.20 296.09 261.98 296.86 260.73 297.73 260.31 298.48 260.61 299.25 261.98 299.98 262.41 300.65 261.98 300.82 260.73 301.23 260.08 301.79 259.73 302.48 259.71 303.31 260.23 305.48 263.17 305.98 263.61 306.98 263.79 307.98 263.56 308.61 262.98 309.23 261.73 309.98 261.62 310.51 261.98 310.61 263.48 310.89 263.98 311.72 264.73 312.23 264.80 313.48 264.09 315.98 262.05 316.73 260.50 317.23 260.31 322.48 262.03 323.53 261.73 325.54 260.48 326.98 260.24 329.77 261.23 331.73 262.64 332.48 262.95 333.23 262.70 334.59 260.98 335.48 260.30 336.73 260.16 337.23 260.39 337.45 260.73 337.38 261.23 336.16 262.48 335.72 263.48 335.76 264.48 336.60 265.73 336.36 266.48 335.73 266.83 334.89 266.73 334.65 266.48 334.48 265.18 333.73 264.73 333.23 264.80 332.89 265.23 332.74 265.98 333.25 266.98 333.19 267.23 331.98 269.65 331.23 270.08 330.73 269.74 330.56 269.23 330.73 267.12 329.73 267.06 328.23 267.59 327.67 268.23 327.32 269.48 327.48 270.37 328.10 271.73 328.06 272.23 327.64 272.73 324.98 274.34 324.23 274.39 322.89 272.98 319.98 272.05 318.23 270.72 317.48 270.52 316.98 270.75 316.60 271.23 316.38 271.98 316.33 273.48 316.12 273.98 315.73 274.29 314.98 274.37 313.23 273.76 310.48 274.26 309.98 274.02 308.98 273.05 308.23 272.91 305.48 275.21 303.98 275.81 302.73 276.57 301.98 276.74ZM291.04 268.98 291.16 268.48 290.99 267.98 290.48 267.91 290.11 268.23 289.97 268.73 290.48 269.13 291.04 268.98Z"/><path fill-rule="evenodd" fill="rgb(122,122,122)" d="M334.48 244.53 332.73 244.60 331.98 244.27 331.47 242.72 330.18 241.47 329.36 240.22 327.77 237.47 327.26 235.72 326.47 233.97 326.48 232.80 326.87 231.97 327.98 231.85 329.73 232.48 331.73 232.77 333.48 232.72 335.23 231.95 336.47 232.47 336.60 232.72 336.46 232.97 334.98 233.81 334.55 234.47 334.48 236.38 335.11 236.47 335.25 236.72 334.98 236.86 334.23 236.48 333.73 236.71 333.34 237.22 333.48 238.00 334.98 239.34 335.76 240.72 335.72 241.22 334.88 242.47 334.94 244.22 334.48 244.53ZM333.01 241.22 333.11 240.97 332.98 240.72 332.72 240.97 333.01 241.22ZM339.48 243.60 338.77 243.47 338.55 242.97 338.77 242.47 339.48 242.19 339.73 242.28 339.95 242.72 339.88 243.22 339.48 243.60ZM327.48 245.80 327.17 245.72 326.92 245.22 327.15 244.72 327.48 244.55 327.80 244.72 327.92 245.22 327.73 245.72 327.48 245.80ZM322.73 249.30 320.98 249.41 320.48 249.30 320.11 248.97 320.02 248.22 320.44 246.47 320.73 245.87 321.23 245.46 321.73 245.44 322.23 245.66 323.48 246.98 323.60 247.47 323.48 248.30 323.15 248.97 322.73 249.30ZM329.73 247.23 329.07 246.72 329.28 246.22 329.98 246.20 330.21 246.47 330.11 246.97 329.73 247.23ZM302.48 276.29 301.23 276.23 299.48 275.24 298.73 275.01 296.73 275.53 295.98 275.44 294.48 274.58 292.98 274.30 291.98 273.87 289.55 271.48 289.17 270.73 289.37 269.98 289.73 269.74 291.23 269.71 291.60 268.73 291.49 267.73 291.23 267.21 290.73 267.04 289.48 267.56 288.95 266.98 289.19 263.98 290.23 262.22 290.98 261.88 293.23 263.08 295.73 263.08 296.57 262.73 297.23 261.20 297.73 260.87 298.23 261.16 299.20 262.73 300.23 262.91 300.73 262.71 301.19 262.23 301.25 260.73 301.48 260.28 301.98 259.94 302.48 259.95 302.98 260.29 305.48 263.86 305.98 264.17 307.73 264.66 308.48 265.70 308.98 264.56 309.73 264.22 310.48 264.46 311.73 265.43 312.48 265.42 314.98 263.22 317.48 261.52 318.48 261.82 320.48 261.95 322.98 263.00 324.73 262.28 325.40 261.23 325.98 260.74 326.98 260.53 329.62 261.48 330.98 262.90 332.39 263.98 332.23 265.09 331.48 265.87 328.73 266.58 327.98 266.51 327.23 266.13 326.98 266.24 326.77 266.98 326.82 269.48 327.54 271.98 327.19 272.48 325.23 273.69 324.48 273.77 323.23 272.63 319.98 271.66 318.23 270.17 317.48 269.88 316.98 270.16 316.34 270.98 316.06 271.73 315.90 273.23 315.48 273.84 314.98 273.90 313.48 273.42 310.73 273.91 310.05 273.48 308.98 272.01 308.48 271.90 307.98 272.23 305.98 274.43 305.23 274.86 303.98 274.94 303.07 275.98 302.48 276.29ZM334.73 264.09 333.98 263.95 333.75 263.73 333.76 263.23 335.26 261.23 335.73 260.92 336.23 260.93 336.40 261.23 336.30 261.48 335.51 262.48 334.98 263.86 334.73 264.09ZM327.24 264.98 327.31 264.48 326.98 264.17 326.98 264.93 327.24 264.98ZM316.79 267.73 316.75 267.23 316.48 266.84 315.69 266.48 315.55 266.98 315.89 267.48 316.48 267.84 316.79 267.73Z"/><path fill-rule="evenodd" fill="rgb(133,133,133)" d="M331.73 241.50 331.23 241.69 330.48 241.13 328.19 237.47 326.79 233.72 326.98 232.74 327.48 232.30 329.98 232.80 333.48 233.18 334.04 233.47 333.79 235.22 332.46 237.22 332.60 239.22 331.98 240.38 331.73 241.50ZM334.73 241.26 334.44 241.22 334.07 240.72 333.87 239.97 333.98 239.71 334.48 239.71 335.03 240.22 335.17 240.72 334.73 241.26ZM333.73 244.27 332.98 244.26 332.46 243.97 332.24 243.22 332.48 242.46 333.48 242.27 334.08 242.47 334.38 243.72 334.23 244.03 333.73 244.27ZM321.98 249.01 320.84 248.97 320.40 248.47 320.73 246.93 320.98 246.42 321.48 246.08 322.24 246.47 322.97 247.72 322.73 248.66 321.98 249.01ZM302.23 275.99 301.23 275.91 298.73 274.62 296.98 275.07 296.23 275.00 295.16 273.73 294.73 273.45 293.23 273.66 292.48 273.55 291.90 273.23 289.98 271.23 289.83 270.73 289.98 270.51 291.23 270.44 291.56 270.23 291.89 268.98 291.80 267.48 291.44 266.48 290.98 266.28 289.73 266.80 289.45 266.73 289.23 266.28 289.48 264.00 290.48 262.56 291.23 262.42 292.73 263.42 293.73 263.63 295.98 263.58 297.98 262.49 299.04 263.23 300.23 263.33 301.17 262.98 301.71 262.48 301.90 261.98 301.75 260.73 301.98 260.42 302.48 260.41 303.09 261.48 304.23 262.59 304.74 263.48 304.91 264.73 304.62 265.48 304.25 267.98 304.48 268.57 305.23 268.90 305.62 268.73 305.87 268.23 305.89 267.48 305.37 265.48 305.48 265.18 305.98 264.90 306.98 265.07 307.98 266.75 308.48 267.24 308.98 267.38 309.33 266.98 309.73 265.19 309.98 265.06 310.48 265.14 311.73 266.13 312.73 266.07 314.18 265.23 314.68 264.23 315.38 263.48 316.98 262.74 318.48 262.76 320.23 262.47 321.23 262.75 322.73 263.55 324.98 263.07 325.48 263.15 325.82 263.48 326.27 264.98 326.11 266.73 326.33 269.23 327.00 271.48 326.73 272.19 325.73 272.84 324.73 273.05 323.48 272.27 319.96 271.23 318.17 269.23 316.98 266.67 315.73 265.59 314.73 265.39 314.31 265.73 314.56 266.73 316.50 268.73 316.72 269.23 316.65 269.73 315.23 272.79 311.48 273.46 310.73 273.34 310.34 272.73 310.56 271.48 310.39 270.98 309.23 269.17 308.98 268.92 308.48 268.86 306.86 269.73 306.48 270.23 307.21 271.73 307.08 272.48 306.48 273.47 305.48 274.17 304.98 274.16 303.98 273.76 303.48 273.89 302.93 275.48 302.23 275.99ZM329.98 265.74 328.98 265.97 328.35 265.73 327.83 263.98 326.23 262.92 325.83 262.48 325.79 261.73 326.23 261.08 326.98 260.83 327.73 260.93 328.98 261.39 329.68 261.98 330.25 263.48 331.23 264.11 331.49 264.48 331.23 265.07 329.98 265.74Z"/><path fill-rule="evenodd" fill="rgb(143,143,143)" d="M331.23 240.32 330.73 240.39 330.23 239.90 328.47 237.22 327.16 233.97 327.27 233.22 327.73 232.80 332.23 233.24 333.04 233.47 333.48 233.92 333.54 234.47 333.33 235.22 331.89 237.22 331.86 238.97 331.23 240.32ZM333.48 243.49 333.24 243.47 333.48 243.49ZM321.48 248.51 320.98 248.24 320.96 247.97 321.48 247.22 321.95 247.47 322.13 247.97 321.98 248.30 321.48 248.51ZM328.98 263.97 328.23 263.69 326.86 262.73 326.37 261.98 326.49 261.48 326.83 261.23 327.48 261.15 329.03 261.73 329.40 262.23 329.49 262.73 328.98 263.97ZM302.23 275.57 301.73 275.69 300.98 275.52 298.73 273.92 297.23 274.34 296.73 274.31 296.09 273.23 294.73 272.56 293.73 272.45 292.73 272.74 292.25 272.48 292.01 271.73 292.17 268.48 291.94 265.98 291.73 265.40 291.48 265.26 290.23 265.88 289.73 265.83 289.73 264.49 290.23 263.66 290.98 263.28 292.23 264.02 295.48 264.14 297.73 263.51 299.48 263.77 300.73 263.66 302.98 262.47 303.96 262.98 304.22 263.48 304.23 263.96 303.62 265.23 303.89 266.48 303.93 268.48 304.23 269.00 305.10 269.73 305.48 271.15 306.37 271.98 306.46 272.48 306.04 273.23 305.48 273.49 303.73 272.83 303.23 272.98 302.86 273.73 302.55 275.23 302.23 275.57ZM325.73 272.23 324.73 272.28 320.73 271.08 320.07 270.73 318.55 268.73 317.52 266.73 315.84 264.73 315.76 264.23 315.90 263.98 316.98 263.45 319.23 263.64 320.48 263.14 321.23 263.26 322.98 264.03 324.73 263.62 325.47 263.98 325.86 264.98 325.68 266.73 325.89 269.23 326.45 271.23 326.35 271.73 325.73 272.23ZM329.23 264.98 329.23 264.63 329.42 264.73 329.23 264.98ZM313.23 272.73 311.73 272.68 311.24 270.98 309.97 268.98 309.85 267.98 310.48 266.57 313.48 266.90 315.23 268.08 316.09 268.98 316.11 269.98 314.99 271.98 314.25 272.48 313.23 272.73ZM307.23 268.24 306.89 267.98 306.98 267.18 307.52 267.73 307.48 268.04 307.23 268.24Z"/><path fill-rule="evenodd" fill="rgb(153,153,153)" d="M330.73 239.27 330.23 239.02 329.23 237.78 327.73 234.83 327.55 233.72 327.98 233.23 331.73 233.37 332.48 233.56 333.02 233.97 333.07 234.97 331.50 236.97 331.29 237.47 331.20 238.72 330.98 239.17 330.73 239.27ZM328.73 263.13 328.23 263.18 327.43 262.73 327.03 262.23 327.02 261.73 327.73 261.48 328.73 261.88 329.04 262.48 328.73 263.13ZM325.48 271.59 324.23 271.56 320.48 270.29 318.98 268.51 318.04 266.73 316.94 265.48 316.71 264.98 316.76 264.48 317.23 264.15 317.98 264.16 319.48 265.04 319.98 264.74 320.50 263.98 320.98 263.76 322.98 264.44 324.48 264.11 325.01 264.23 325.46 264.98 325.32 266.73 325.43 268.98 325.85 270.98 325.48 271.59ZM301.98 275.23 301.23 275.29 300.31 274.73 299.86 273.98 299.75 272.98 299.48 272.77 296.73 272.63 293.73 271.69 293.01 271.23 292.56 270.23 292.42 268.98 292.49 265.98 292.66 265.23 292.98 264.83 293.98 264.56 295.73 264.64 297.73 264.19 302.23 264.29 303.34 266.23 303.64 268.73 304.48 269.98 304.59 270.48 304.22 271.23 302.73 271.69 302.45 271.98 302.34 274.48 301.98 275.23ZM313.73 272.23 312.73 272.34 312.17 271.98 310.50 268.73 310.51 267.98 310.98 267.40 311.98 267.22 312.98 267.39 314.73 268.23 315.60 268.98 315.78 269.73 315.47 270.48 314.56 271.73 313.73 272.23Z"/><path fill-rule="evenodd" fill="rgb(163,163,163)" d="M330.23 237.74 329.43 237.22 328.13 234.97 327.91 234.22 328.23 233.64 331.48 233.53 332.23 233.73 332.74 234.22 332.80 234.72 332.47 235.47 330.23 237.74ZM328.23 262.57 327.71 262.23 327.98 261.98 328.37 262.23 328.23 262.57ZM324.48 270.98 321.23 269.96 320.48 269.49 319.03 267.73 318.71 266.73 318.73 266.13 319.98 265.66 320.73 264.62 321.23 264.29 322.98 264.86 324.73 264.73 325.02 265.23 325.12 270.48 324.98 270.84 324.48 270.98ZM301.73 274.74 301.23 274.85 300.67 274.48 300.51 273.98 300.86 272.73 300.48 272.38 295.48 271.86 293.98 271.31 293.23 270.73 292.77 269.73 292.68 268.48 292.95 266.23 293.48 265.36 294.23 265.15 295.48 265.24 296.98 265.01 297.98 265.06 299.98 264.68 301.23 265.06 302.73 266.06 303.18 266.98 303.30 268.73 303.81 270.23 303.48 270.69 302.14 271.23 301.52 271.98 301.37 272.48 301.90 273.98 301.73 274.74ZM317.98 265.56 317.73 265.15 317.98 265.15 318.21 265.48 317.98 265.56ZM313.73 271.79 312.98 271.89 312.46 271.48 311.13 268.73 311.12 268.23 311.48 267.83 311.98 267.71 312.73 267.88 314.73 268.76 315.22 269.23 315.32 269.73 315.01 270.48 314.45 271.23 313.73 271.79Z"/><path fill-rule="evenodd" fill="rgb(173,173,173)" d="M330.73 236.50 329.98 236.71 329.48 236.34 328.44 234.72 328.42 234.22 328.66 233.97 330.98 233.68 331.73 233.80 332.36 234.22 332.48 234.72 332.23 235.35 330.73 236.50ZM323.98 270.00 321.23 269.30 320.47 268.73 319.67 267.73 319.57 266.98 321.23 264.87 321.73 264.80 322.98 265.35 324.23 265.44 324.47 265.73 324.65 268.48 324.45 269.48 323.98 270.00ZM300.73 271.53 299.48 271.72 295.73 271.50 293.98 270.90 293.30 270.23 292.95 269.23 293.05 267.73 293.48 266.50 294.23 265.96 296.23 265.83 296.98 265.91 297.98 266.31 299.48 265.35 299.98 265.26 301.23 265.61 302.23 266.14 302.73 266.71 302.90 267.23 302.98 269.98 300.73 271.53ZM313.48 271.31 312.99 271.23 312.73 270.90 312.22 269.23 312.23 268.70 314.20 269.23 314.55 269.48 314.63 269.98 314.40 270.48 313.48 271.31ZM298.51 269.73 298.61 269.48 298.23 269.24 298.17 269.73 298.51 269.73Z"/><path fill-rule="evenodd" fill="rgb(184,184,184)" d="M330.73 236.01 330.23 236.03 329.71 235.72 329.16 234.97 329.23 234.36 330.73 233.91 331.48 233.98 331.94 234.22 332.14 234.72 331.97 235.22 331.48 235.69 330.73 236.01ZM323.73 269.25 323.23 269.34 322.23 269.09 321.59 268.73 321.19 268.23 320.93 266.98 321.16 265.98 321.48 265.50 321.98 265.48 323.98 266.37 324.30 267.98 324.14 268.73 323.73 269.25ZM299.98 271.06 299.02 270.98 298.99 270.73 299.61 269.98 299.64 269.48 298.20 267.73 298.33 267.23 298.98 266.46 299.73 265.89 300.23 265.80 301.48 266.11 302.23 266.62 302.57 267.23 302.64 268.23 302.48 269.39 302.23 269.80 299.98 271.06ZM296.23 271.02 295.23 271.06 294.48 270.83 293.73 270.28 293.37 269.73 293.20 268.98 293.35 267.98 293.73 267.21 294.23 266.79 295.23 266.55 296.23 266.58 296.88 266.98 297.40 267.73 297.47 268.48 297.15 270.23 296.85 270.73 296.23 271.02Z"/><path fill-rule="evenodd" fill="rgb(194,194,194)" d="M330.98 235.52 330.48 235.52 330.04 235.22 329.89 234.72 330.05 234.47 330.98 234.20 331.65 234.47 331.70 234.97 330.98 235.52ZM301.73 269.30 300.73 269.39 299.20 268.23 298.93 267.48 299.48 266.60 299.98 266.30 300.73 266.25 301.98 266.87 302.31 267.98 302.14 268.73 301.73 269.30ZM295.98 270.58 294.73 270.59 294.09 270.23 293.69 269.73 293.55 268.48 293.94 267.73 294.48 267.32 295.73 267.18 296.23 267.41 296.73 268.02 296.91 268.73 296.82 269.48 296.48 270.20 295.98 270.58ZM323.48 268.55 322.98 268.63 322.52 268.23 322.68 267.48 323.23 267.10 323.53 267.23 323.75 267.73 323.48 268.55Z"/><path fill-rule="evenodd" fill="rgb(204,204,204)" d="M300.98 268.74 299.98 268.34 299.49 267.73 299.55 267.23 300.10 266.73 300.98 266.69 301.75 267.23 301.89 267.73 301.80 268.23 301.48 268.62 300.98 268.74ZM295.48 270.30 294.48 270.12 293.84 269.23 294.07 268.23 294.98 267.68 295.98 267.91 296.46 268.73 296.25 269.73 295.48 270.30Z"/><path fill-rule="evenodd" fill="rgb(214,214,214)" d="M300.98 268.02 300.49 267.98 300.21 267.73 300.41 267.23 300.93 267.23 301.21 267.48 301.23 267.78 300.98 268.02ZM295.48 269.83 294.73 269.83 294.33 269.48 294.26 268.73 294.73 268.25 295.48 268.21 295.97 268.73 295.98 269.24 295.48 269.83Z"/><path fill-rule="evenodd" fill="rgb(224,224,224)" d="M294.98 269.13 294.98 268.95 295.22 268.98 294.98 269.13Z"/></g><ellipse cx="300" cy="245" rx="2.6" ry="1.1" fill="#1530ff"/><ellipse cx="312" cy="247" rx="1.2" ry="1.2" fill="#1530ff"/><ellipse cx="312" cy="254.7" rx="1.2" ry="1.2" fill="#1530ff"/><ellipse cx="290.6" cy="256.2" rx="1" ry="1" fill="#1530ff"/><ellipse cx="330.5" cy="215.2" rx="1.4" ry="0.9" fill="#1530ff"/><ellipse cx="343.9" cy="215.2" rx="1.4" ry="0.9" fill="#1530ff"/><circle cx="344.5" cy="276.0" r="0.4" fill="#555"/><circle cx="297.0" cy="285.5" r="0.4" fill="#555"/><circle cx="284.5" cy="271.2" r="0.4" fill="#555"/><circle cx="347.0" cy="252.5" r="0.4" fill="#555"/><circle cx="346.5" cy="268.0" r="0.4" fill="#555"/><circle cx="288.0" cy="258.2" r="0.4" fill="#555"/><circle cx="329.0" cy="282.2" r="0.4" fill="#555"/><circle cx="284.7" cy="280.7" r="0.4" fill="#555"/><circle cx="346.0" cy="257.5" r="0.4" fill="#555"/><circle cx="286.7" cy="258.2" r="0.4" fill="#555"/><circle cx="316.7" cy="236.0" r="0.4" fill="#555"/><circle cx="312.0" cy="236.7" r="0.4" fill="#555"/><circle cx="351.0" cy="245.2" r="0.4" fill="#555"/><circle cx="348.7" cy="252.2" r="0.4" fill="#555"/><circle cx="311.7" cy="237.2" r="0.4" fill="#555"/><circle cx="313.5" cy="243.5" r="0.4" fill="#555"/><circle cx="347.5" cy="265.2" r="0.4" fill="#555"/><circle cx="315.2" cy="234.2" r="0.4" fill="#555"/><circle cx="334.2" cy="284.0" r="0.4" fill="#555"/><circle cx="313.0" cy="254.7" r="0.4" fill="#555"/><circle cx="347.7" cy="247.7" r="0.4" fill="#555"/><circle cx="345.2" cy="261.0" r="0.4" fill="#555"/><circle cx="288.5" cy="282.7" r="0.4" fill="#555"/><circle cx="324.5" cy="227.0" r="0.4" fill="#555"/><circle cx="316.2" cy="236.2" r="0.4" fill="#555"/><circle cx="300.2" cy="256.0" r="0.4" fill="#555"/><circle cx="310.7" cy="243.2" r="0.4" fill="#555"/><circle cx="284.2" cy="278.0" r="0.4" fill="#555"/><circle cx="346.0" cy="261.5" r="0.4" fill="#555"/><circle cx="351.0" cy="247.0" r="0.4" fill="#555"/></g><g clip-path="url(#cD2)"><g filter="url(#jet)"><rect x="350.2" y="210.6" width="83.40000000000003" height="83.1" fill="#000"/><path fill-rule="evenodd" fill="rgb(10,10,10)" d="M364.32 289.27 363.57 289.40 363.07 289.12 361.39 286.48 359.87 285.23 358.82 283.24 358.58 282.23 359.11 277.23 358.88 276.23 358.26 274.98 359.05 272.98 359.25 271.23 359.73 269.98 359.28 267.98 359.48 267.48 359.99 266.98 361.95 265.98 362.90 264.98 362.07 263.73 362.03 263.23 362.32 262.78 364.37 261.48 366.32 260.64 367.93 258.23 370.57 255.15 372.07 254.29 374.57 253.33 380.07 253.38 382.32 253.79 384.32 254.81 388.32 253.83 392.32 254.77 393.19 254.47 395.32 252.77 396.57 252.47 397.32 252.67 399.82 253.96 400.82 253.95 401.66 252.97 401.86 251.72 400.94 248.97 400.81 246.72 399.89 245.47 399.50 244.47 399.34 242.97 399.47 241.97 400.23 240.47 402.07 238.16 405.82 235.14 407.82 234.13 407.98 233.47 407.51 231.72 407.64 230.72 408.07 230.44 410.07 230.59 411.07 230.32 411.57 229.88 413.07 227.44 413.82 226.95 414.57 226.80 416.32 227.08 419.07 228.47 421.57 228.87 422.99 229.72 423.74 230.72 424.49 232.22 424.83 234.22 424.40 235.97 422.82 238.94 422.32 241.46 421.55 254.97 422.04 258.48 423.04 261.48 423.57 262.14 425.40 263.23 425.61 263.73 425.30 264.98 425.46 265.73 426.07 266.39 427.57 266.89 428.01 267.23 428.12 267.73 427.82 268.26 424.07 270.84 422.33 272.48 421.07 274.21 419.07 275.41 417.32 277.31 415.57 278.29 413.30 278.98 411.07 280.05 409.57 280.36 405.32 280.71 401.07 281.44 395.32 280.74 393.07 281.21 391.82 280.78 391.76 279.48 391.54 279.23 390.82 279.15 387.76 280.48 387.28 280.98 387.02 281.73 386.57 282.11 382.82 282.66 378.07 285.66 376.07 286.38 373.57 286.82 371.07 288.48 370.07 288.67 369.32 288.60 367.82 287.57 367.07 287.46 366.23 287.73 364.32 289.27ZM413.90 251.47 414.05 250.97 413.93 250.72 413.57 250.57 413.17 250.72 413.00 250.97 413.14 251.47 413.57 251.65 413.90 251.47Z"/><path fill-rule="evenodd" fill="rgb(20,20,20)" d="M370.07 286.99 367.82 286.67 365.32 286.76 364.32 286.42 363.84 285.98 363.46 285.23 363.07 282.80 362.57 282.27 361.07 281.48 360.71 280.48 360.95 279.48 361.63 278.23 361.40 276.48 362.13 274.48 362.24 272.48 363.15 269.98 364.57 267.73 365.93 263.73 368.05 259.48 370.46 255.97 371.32 255.23 372.57 254.56 375.32 253.78 378.82 253.93 381.82 254.40 383.57 255.48 384.32 255.73 388.32 255.06 392.57 255.47 393.57 254.98 395.32 253.31 396.32 252.98 397.07 253.11 399.82 254.58 400.57 254.66 401.07 254.49 402.14 253.22 402.44 251.97 401.36 248.72 401.38 246.47 400.08 244.72 399.78 242.72 400.27 241.22 401.82 239.11 402.82 238.19 406.32 235.80 408.71 234.97 409.91 232.47 411.82 230.82 412.98 228.47 414.07 227.49 415.07 227.32 416.07 227.51 418.33 228.72 421.57 229.42 422.57 229.99 423.18 230.72 423.97 232.22 424.26 233.22 424.32 234.47 423.92 235.97 422.57 238.22 422.07 239.72 420.95 254.97 421.29 258.48 423.24 263.48 423.71 267.23 422.91 270.48 420.69 273.48 418.82 274.77 417.57 276.43 416.57 277.15 415.07 277.88 412.82 278.43 410.32 279.62 407.82 280.00 405.57 280.06 402.32 280.77 400.82 280.78 396.07 280.02 394.82 279.60 392.57 278.28 390.87 278.23 388.82 279.32 386.92 279.98 385.07 281.34 382.65 281.98 380.82 282.91 377.32 284.20 375.57 284.57 372.32 286.34 370.07 286.99ZM413.99 251.72 414.26 251.22 414.07 250.52 413.57 250.34 413.07 250.52 412.75 250.97 412.85 251.47 413.32 251.89 413.99 251.72Z"/><path fill-rule="evenodd" fill="rgb(31,31,31)" d="M370.07 286.26 365.57 286.27 364.82 286.04 364.32 285.61 363.96 284.73 363.75 282.73 362.92 280.48 363.08 278.23 362.73 276.48 363.37 274.48 363.38 272.23 363.95 269.98 365.32 267.38 366.22 264.48 368.38 259.73 370.95 255.97 371.82 255.29 373.07 254.68 374.57 254.26 375.82 254.14 378.57 254.31 381.82 254.84 383.57 255.97 384.32 256.19 388.57 255.46 392.32 255.89 393.50 255.47 395.07 253.88 396.32 253.35 397.07 253.53 399.32 254.88 400.32 255.09 401.07 254.94 402.32 253.63 402.86 252.22 401.69 248.72 401.85 246.47 400.37 244.47 400.10 242.72 400.49 241.47 402.07 239.32 403.07 238.43 406.57 236.14 409.07 235.30 410.56 232.97 412.32 230.84 413.32 228.55 414.07 227.86 414.82 227.65 415.82 227.76 418.57 229.17 421.57 229.86 422.32 230.26 422.93 230.97 423.67 232.47 423.96 234.47 423.67 235.72 422.16 238.22 421.65 239.72 421.52 244.47 421.16 246.47 420.94 251.22 420.25 255.72 420.61 256.73 420.78 258.73 422.66 263.23 423.04 267.23 422.39 270.48 420.35 273.23 418.32 274.59 417.49 275.98 416.32 276.90 414.82 277.59 412.73 277.98 410.07 279.25 407.82 279.64 405.32 279.62 402.32 280.40 398.82 280.21 395.57 279.46 392.82 277.86 391.07 277.80 390.07 278.12 388.32 279.14 386.57 279.63 384.82 280.93 382.57 281.62 380.82 282.40 378.82 282.90 377.32 283.55 375.57 283.90 372.57 285.66 370.07 286.26ZM417.11 240.72 417.39 240.47 417.32 240.12 417.07 239.99 416.57 240.18 416.57 240.64 417.11 240.72ZM414.09 251.97 414.46 251.22 414.32 250.47 413.57 250.13 412.83 250.47 412.52 250.97 412.82 251.80 413.57 252.22 414.09 251.97ZM418.83 257.23 419.64 255.97 419.55 255.72 419.07 255.44 418.36 255.72 417.98 256.48 418.16 257.23 418.83 257.23Z"/><path fill-rule="evenodd" fill="rgb(41,41,41)" d="M370.82 285.74 365.82 285.92 364.74 285.48 364.36 284.73 363.62 280.48 363.33 276.48 363.90 274.48 363.92 271.98 364.41 269.98 365.82 267.12 366.64 264.48 368.62 259.98 370.28 257.98 370.82 256.73 371.32 256.04 372.07 255.45 373.32 254.86 375.82 254.46 378.32 254.61 380.07 255.05 381.57 255.14 383.57 256.33 384.32 256.53 386.32 256.29 388.57 255.74 392.32 256.18 393.57 255.75 395.32 254.04 396.32 253.69 397.07 253.93 398.32 254.95 399.07 255.28 400.32 255.48 401.32 255.24 402.66 253.72 403.25 252.47 403.14 251.72 401.98 248.72 401.96 247.97 402.30 246.72 402.22 246.22 400.82 244.65 400.39 243.22 400.68 241.72 402.31 239.47 403.32 238.60 406.82 236.38 408.82 235.87 409.32 235.53 411.17 233.22 412.32 231.43 413.51 228.72 414.32 228.04 415.07 227.90 415.82 228.03 418.32 229.36 421.57 230.26 422.32 230.72 423.41 232.72 423.61 234.72 423.32 235.76 421.77 238.22 421.22 239.72 421.29 244.47 420.88 246.47 420.65 250.72 420.18 253.72 419.82 254.54 418.57 254.83 418.07 255.26 417.59 255.97 417.38 256.73 417.57 257.61 418.07 258.11 418.57 258.20 419.82 257.93 421.23 260.48 422.36 263.48 422.68 267.23 422.15 269.98 421.70 270.98 420.16 272.98 418.06 274.23 417.07 275.94 416.02 276.73 414.57 277.32 412.82 277.51 409.61 278.98 407.57 279.34 405.32 279.14 402.57 280.03 398.57 279.91 395.57 279.15 393.07 277.59 392.07 277.44 390.82 277.55 390.07 277.79 388.32 278.84 386.32 279.35 385.07 280.40 384.32 280.79 380.82 282.05 378.82 282.43 377.07 283.22 375.50 283.48 373.07 285.06 370.82 285.74ZM417.45 240.72 417.69 240.22 417.32 239.84 416.82 239.80 416.28 240.22 416.31 240.72 416.57 240.92 417.45 240.72ZM411.20 240.72 411.05 240.22 410.57 240.19 410.31 240.47 410.57 240.85 411.20 240.72ZM409.89 250.97 410.58 250.47 410.57 249.74 410.32 249.41 410.07 249.40 409.82 249.77 409.61 250.72 409.89 250.97ZM414.00 252.47 414.52 251.72 414.66 250.72 414.32 250.07 413.57 249.90 412.53 250.47 412.27 251.22 413.07 252.39 413.57 252.63 414.00 252.47Z"/><path fill-rule="evenodd" fill="rgb(51,51,51)" d="M370.57 285.49 365.82 285.56 365.02 285.23 364.73 284.73 364.16 281.73 363.66 276.73 364.25 274.48 364.26 272.23 364.77 269.98 366.45 266.48 367.12 264.23 368.82 260.26 369.37 259.48 370.93 258.23 371.17 256.98 371.58 256.23 372.32 255.59 373.32 255.11 376.32 254.75 378.32 254.90 380.07 255.39 381.57 255.45 383.32 256.51 384.32 256.82 386.32 256.70 387.82 256.11 388.82 255.96 392.32 256.43 393.57 256.03 395.32 254.38 396.32 254.05 396.85 254.22 398.06 255.47 398.57 255.74 400.32 255.92 401.32 255.79 401.82 255.44 403.30 253.47 403.69 252.47 403.64 251.97 402.29 248.72 402.32 247.90 402.97 246.97 402.98 246.47 401.07 244.48 400.67 243.22 400.88 241.97 402.47 239.72 403.32 238.93 405.32 237.88 407.07 236.58 408.82 236.18 409.54 235.72 411.57 233.41 413.03 230.72 413.63 228.97 414.32 228.30 415.07 228.13 415.82 228.27 418.07 229.52 422.09 230.97 422.65 231.72 423.05 232.72 423.27 234.72 422.87 235.97 421.65 237.72 420.66 239.72 421.10 244.22 420.58 246.72 420.32 250.64 419.82 251.60 418.82 251.47 418.51 251.72 418.57 252.50 419.34 253.47 418.32 254.31 417.58 255.22 417.06 255.97 416.85 256.73 417.08 257.73 417.57 258.47 418.07 258.77 419.32 259.05 420.57 260.13 421.11 260.98 422.01 263.23 422.33 267.73 421.59 270.48 420.07 272.68 419.32 273.27 417.16 274.23 416.97 274.48 416.74 275.73 415.82 276.48 414.57 276.95 413.07 276.97 408.32 278.92 407.07 279.03 405.07 278.51 403.07 279.57 401.07 279.35 398.32 279.64 395.57 278.88 393.07 277.29 390.82 277.30 389.82 277.62 388.07 278.65 386.07 279.11 384.82 280.19 384.07 280.60 380.82 281.74 379.07 281.88 377.07 282.88 375.32 283.13 372.82 284.91 370.57 285.49ZM417.35 240.97 417.88 240.47 417.89 239.97 417.07 239.60 416.32 239.85 416.02 240.47 416.27 240.97 416.82 241.12 417.35 240.97ZM411.48 240.97 411.64 240.47 411.32 240.06 410.57 239.93 410.12 240.22 410.08 240.72 410.32 241.00 410.82 241.17 411.48 240.97ZM405.88 241.97 405.54 241.97 405.82 242.20 405.88 241.97ZM404.51 247.97 404.59 247.72 404.32 247.35 403.82 247.40 404.07 247.97 404.51 247.97ZM408.64 252.47 411.28 250.72 411.06 249.47 410.32 248.64 409.82 248.60 409.57 248.77 409.03 250.47 407.97 251.97 408.07 252.50 408.64 252.47ZM413.86 253.22 414.35 252.72 414.90 250.97 414.71 249.97 414.07 249.55 412.45 250.22 411.90 250.72 411.86 250.97 413.07 253.01 413.35 253.22 413.86 253.22Z"/><path fill-rule="evenodd" fill="rgb(61,61,61)" d="M370.57 285.26 365.82 285.14 365.32 284.93 365.06 284.48 364.44 281.98 363.92 276.73 364.50 274.73 364.59 272.23 365.17 269.73 366.24 267.48 367.32 265.73 367.60 263.98 368.53 262.23 369.25 260.23 369.82 259.67 371.32 259.28 371.82 258.57 372.03 257.98 371.80 256.73 372.27 255.97 373.03 255.47 373.82 255.23 377.57 255.07 379.82 255.65 381.57 255.74 383.82 256.99 386.32 257.22 387.82 256.37 388.57 256.18 389.82 256.22 391.82 256.67 392.82 256.58 393.82 256.13 395.32 254.72 396.07 254.44 396.75 254.72 397.57 255.95 398.07 256.36 400.69 256.73 401.12 258.23 401.57 258.62 403.07 258.28 404.33 258.23 404.71 257.73 404.57 256.92 404.07 256.37 402.87 255.72 402.71 255.47 403.07 254.53 404.10 253.72 404.44 252.22 404.30 251.72 403.13 250.22 402.73 248.47 403.07 248.17 404.07 248.86 404.57 248.93 405.13 248.47 405.26 247.47 404.82 246.68 402.57 245.48 401.44 244.47 400.98 243.22 401.04 242.47 401.32 241.88 403.40 239.22 404.32 238.71 405.82 238.36 406.67 237.22 407.32 236.76 409.07 236.40 409.57 236.08 411.88 233.47 413.33 230.72 413.82 229.11 414.50 228.47 415.69 228.47 420.32 230.90 421.57 231.18 422.01 231.47 422.61 232.72 422.85 234.47 422.78 235.22 422.30 236.22 419.66 239.72 420.56 241.22 420.91 243.97 420.23 246.97 420.02 249.97 419.82 250.54 419.57 250.71 418.32 250.70 417.90 250.97 417.77 251.47 417.99 253.72 417.43 254.72 416.30 255.97 416.15 256.48 417.07 258.80 417.57 259.23 420.32 260.50 420.88 261.23 421.65 262.98 421.69 264.73 422.10 266.48 422.12 267.48 421.35 269.23 421.00 270.73 419.82 272.57 419.07 273.07 417.32 273.45 415.14 274.23 414.05 274.98 412.80 276.48 412.13 276.98 409.82 277.62 408.07 278.62 407.32 278.71 406.57 278.51 405.32 277.43 404.57 277.09 404.07 277.26 403.66 278.48 403.32 278.80 402.82 278.85 402.07 278.27 400.00 279.23 398.32 279.41 395.57 278.63 393.32 277.07 392.32 276.94 390.57 277.10 389.57 277.45 388.07 278.34 386.07 278.75 384.32 280.18 383.32 280.63 380.82 281.45 379.07 281.29 377.30 282.48 375.32 282.69 373.07 284.55 371.82 285.05 370.57 285.26ZM417.07 241.22 417.91 240.72 418.25 239.97 417.82 239.59 417.07 239.42 416.18 239.72 415.81 240.47 416.07 241.08 417.07 241.22ZM411.80 241.22 412.02 240.97 412.04 240.47 411.57 239.89 410.57 239.73 409.87 240.22 409.84 240.72 410.32 241.23 411.07 241.43 411.80 241.22ZM406.52 242.97 406.73 242.47 406.68 241.97 406.07 240.93 405.32 240.94 404.54 241.47 404.51 241.97 405.10 242.72 405.82 243.12 406.52 242.97ZM417.92 247.22 418.17 246.47 417.82 246.01 417.32 246.29 417.11 246.97 417.32 247.33 417.92 247.22ZM414.10 253.72 414.71 252.97 415.27 250.47 415.24 249.47 414.57 248.94 413.82 249.12 412.07 250.02 411.63 249.72 410.81 248.47 410.07 248.14 409.39 248.22 409.07 248.60 408.91 249.72 408.58 250.47 406.61 252.22 406.73 253.72 407.57 253.91 408.57 253.54 410.57 251.84 411.57 251.60 412.30 252.47 412.58 253.72 413.07 253.91 414.10 253.72ZM412.41 259.73 413.07 259.39 413.36 258.98 412.82 257.78 412.32 257.46 411.82 257.64 411.54 257.98 411.24 259.23 411.57 259.88 412.41 259.73ZM395.11 262.98 395.37 262.73 395.33 262.48 394.57 262.33 394.51 262.73 395.11 262.98ZM415.32 276.02 415.00 275.98 415.32 276.02Z"/><path fill-rule="evenodd" fill="rgb(71,71,71)" d="M407.07 251.07 406.07 251.19 403.80 250.22 403.76 249.72 404.57 249.83 405.42 248.97 405.73 247.97 405.57 246.88 405.07 245.92 402.82 245.23 401.82 244.49 401.34 243.47 401.46 242.47 402.07 241.79 403.07 241.52 405.57 243.65 406.32 243.84 407.00 243.47 407.21 242.47 406.64 240.22 406.90 239.22 406.75 237.97 406.95 237.47 407.57 236.96 409.07 236.71 409.82 236.26 412.07 233.68 413.68 230.72 414.23 228.97 414.82 228.63 415.57 228.70 418.91 230.47 421.32 232.33 422.17 234.47 422.04 235.72 420.61 237.22 420.13 238.22 419.65 238.72 418.57 239.45 417.07 239.23 416.32 239.39 415.82 239.82 415.57 240.47 415.82 241.18 416.57 241.43 417.42 241.22 418.82 240.26 419.82 240.74 420.31 241.47 420.63 243.22 420.70 244.22 420.48 245.22 419.57 247.28 419.32 247.50 418.57 245.71 418.07 245.34 417.57 245.37 417.06 245.72 415.57 247.82 413.98 248.47 412.32 249.47 410.57 247.96 409.82 247.76 409.07 247.92 408.63 248.47 408.54 249.72 408.32 250.22 407.07 251.07ZM419.86 236.22 419.32 235.77 419.32 236.26 419.57 236.42 419.86 236.22ZM403.57 241.01 403.32 241.02 403.02 240.72 403.04 240.22 403.32 239.76 404.07 239.22 404.97 239.22 405.26 239.72 405.11 240.22 404.43 240.72 403.57 241.01ZM412.16 241.72 412.82 241.52 412.91 241.22 412.07 239.85 411.57 239.58 410.82 239.49 409.78 239.97 409.62 240.72 410.07 241.30 411.07 241.70 412.16 241.72ZM415.82 259.20 415.32 259.10 414.38 258.48 413.51 256.98 412.08 255.72 412.30 255.22 412.86 254.72 414.32 254.17 414.93 253.72 415.45 251.47 415.82 250.94 416.07 250.88 416.57 251.05 417.07 251.58 417.51 253.22 417.17 254.22 415.82 255.28 415.27 256.23 415.30 256.98 416.04 258.48 415.82 259.20ZM371.07 284.99 369.32 285.04 367.32 284.59 366.07 284.54 365.57 284.21 364.65 281.98 364.14 276.73 364.73 274.73 364.81 272.73 365.23 270.48 365.74 268.98 366.82 266.96 368.24 265.98 368.05 263.98 369.27 262.23 369.57 260.80 370.07 260.56 370.82 261.04 371.32 261.08 372.17 260.73 372.30 259.23 372.86 257.73 372.46 256.48 373.16 255.72 376.32 255.30 377.82 255.36 379.82 255.92 381.57 256.02 383.57 257.18 385.38 257.48 386.57 257.90 387.07 257.63 387.73 256.73 388.23 256.48 389.57 256.39 391.57 256.88 392.57 256.87 393.82 256.38 395.32 255.09 396.07 254.92 396.49 255.22 397.92 257.23 398.32 258.91 398.57 259.13 400.07 259.17 401.82 259.72 403.24 258.98 404.07 259.02 405.18 259.73 406.32 261.57 406.82 261.88 407.32 261.91 407.82 261.50 407.83 260.98 407.32 260.33 405.65 259.23 405.37 257.98 405.38 256.23 406.57 254.96 409.15 253.97 410.47 252.47 411.32 252.14 411.76 252.47 411.84 252.97 410.64 254.47 410.71 254.97 411.38 255.97 410.60 258.23 410.59 260.98 410.31 262.48 410.56 262.98 411.07 263.07 411.32 262.91 411.50 262.48 411.40 261.23 412.08 260.48 413.07 260.04 415.07 260.00 416.07 259.61 420.07 261.01 420.57 261.48 421.07 262.38 421.31 263.48 420.97 264.48 421.71 265.98 421.90 267.23 421.57 268.14 421.07 268.64 420.57 268.80 419.82 268.72 419.57 268.92 420.45 270.48 420.35 271.23 419.98 271.98 419.07 272.74 417.07 272.80 414.82 273.92 413.32 274.97 412.40 276.23 411.77 276.73 409.57 276.97 408.07 278.14 407.32 278.29 406.65 277.98 405.07 276.42 404.57 276.13 404.07 276.10 402.07 277.11 400.30 278.73 399.57 279.06 398.57 279.20 395.78 278.48 394.07 277.14 393.32 276.77 390.32 276.87 388.03 277.98 385.82 278.50 384.12 279.98 383.07 280.50 380.82 281.14 379.07 280.74 377.07 282.23 375.07 282.33 373.24 284.23 372.32 284.70 371.07 284.99ZM395.51 263.73 395.97 263.48 397.67 261.73 397.99 260.73 397.82 259.83 396.87 260.23 395.82 261.23 395.07 261.38 393.82 261.12 393.07 259.97 392.37 259.48 391.32 259.35 390.57 259.67 390.44 260.73 390.75 261.73 392.57 261.64 394.24 263.48 394.82 263.73 395.51 263.73ZM420.17 263.98 419.07 262.48 418.57 262.12 418.32 262.17 418.29 262.73 418.57 263.08 419.57 263.96 420.17 263.98Z"/><path fill-rule="evenodd" fill="rgb(82,82,82)" d="M407.32 250.53 406.57 250.65 406.07 250.48 405.73 249.72 406.15 248.22 405.93 246.22 406.03 245.22 406.35 244.72 407.61 243.72 407.79 243.22 407.21 240.72 407.53 239.22 407.32 237.72 407.82 237.22 409.46 236.97 410.17 236.47 412.07 234.18 414.18 230.72 414.44 229.22 414.82 228.95 415.41 228.97 418.96 230.97 419.37 231.47 419.91 232.72 420.88 233.72 421.31 234.47 421.32 235.12 421.07 235.44 420.57 235.37 419.32 234.74 418.57 234.91 418.30 235.72 419.30 237.47 419.28 238.22 418.32 239.01 416.82 239.03 416.07 239.26 415.59 239.72 415.18 240.72 415.28 241.22 416.32 241.59 417.32 241.41 418.82 240.65 419.57 240.94 420.00 241.47 420.23 242.22 420.48 243.97 420.32 244.97 419.57 245.90 418.32 244.92 417.32 245.02 415.32 247.06 412.57 248.71 412.07 248.61 410.32 247.54 409.57 247.44 408.82 247.63 408.22 248.22 408.07 249.87 407.32 250.53ZM413.69 242.22 414.33 241.72 414.34 241.22 413.32 240.54 412.26 239.47 411.57 239.25 410.57 239.30 409.48 239.97 409.33 240.47 409.48 240.97 410.57 241.83 412.07 242.41 413.69 242.22ZM404.07 245.00 402.82 244.85 402.02 244.22 401.71 243.22 402.07 242.49 402.57 242.25 403.32 242.31 404.46 243.22 404.98 243.97 405.10 244.47 404.82 244.79 404.07 245.00ZM416.57 253.73 416.07 253.84 415.82 253.52 415.76 252.47 416.07 251.95 416.57 252.16 416.82 252.62 416.86 253.22 416.57 253.73ZM371.32 284.77 369.09 284.73 367.07 283.79 366.07 283.63 365.57 283.34 364.85 281.98 364.32 276.98 364.91 274.98 365.07 272.73 365.78 269.48 366.46 267.98 367.07 267.12 368.88 266.23 369.03 265.73 368.61 264.23 368.82 263.75 370.57 262.12 371.33 261.73 372.82 261.53 374.32 262.19 375.03 261.73 374.84 260.98 373.32 260.34 372.97 259.73 373.05 258.98 373.83 257.73 373.72 257.23 373.18 256.48 373.60 255.97 377.07 255.55 379.57 256.16 381.32 256.25 383.32 257.36 385.07 257.83 386.57 258.60 387.32 258.27 387.73 257.23 388.32 256.69 389.57 256.59 391.57 257.15 392.57 257.13 393.57 256.79 395.32 255.48 395.82 255.39 396.32 255.76 397.16 256.98 397.55 257.98 397.35 258.98 396.07 260.12 395.32 260.57 394.57 260.57 393.24 259.23 391.57 258.81 390.32 258.97 390.05 259.23 389.92 259.73 390.07 261.64 390.35 262.48 390.82 262.64 391.82 262.32 392.32 262.35 394.07 263.90 395.57 264.33 396.07 264.17 397.93 262.48 398.82 260.33 399.57 259.84 400.32 259.85 401.82 260.28 403.32 259.63 403.82 259.60 404.78 260.23 406.32 262.16 407.07 262.42 407.95 262.23 408.44 261.73 408.41 260.98 406.20 258.98 405.88 258.23 405.82 257.14 406.18 256.23 407.07 255.26 408.07 254.86 409.07 254.78 409.74 255.22 410.12 256.23 409.92 257.73 410.12 259.73 409.64 261.73 409.72 262.48 410.12 263.23 410.82 263.56 411.57 263.27 411.89 262.73 412.04 261.23 412.82 260.52 413.82 260.41 416.32 260.95 416.82 261.23 417.18 262.48 417.64 263.23 419.57 264.90 421.07 265.57 421.50 266.23 421.57 267.46 421.07 268.07 420.57 268.16 419.07 267.62 418.52 267.98 418.80 269.23 419.93 270.73 419.90 271.48 419.57 272.03 418.82 272.44 417.32 272.01 416.57 272.16 413.30 274.48 411.57 276.31 410.82 276.36 410.08 275.98 410.05 274.48 409.76 273.98 409.32 273.80 408.32 274.13 407.61 274.73 407.61 275.23 408.80 276.23 408.28 277.23 407.57 277.69 407.07 277.56 405.07 275.62 404.32 275.22 402.05 276.23 400.39 278.23 399.63 278.73 398.82 278.94 395.82 278.24 393.57 276.47 389.82 276.60 388.07 277.15 386.82 277.32 384.82 278.58 383.62 279.98 382.57 280.47 380.82 280.79 379.82 280.27 379.07 280.18 378.32 280.60 377.07 281.83 375.07 281.77 374.57 282.18 374.04 283.23 373.32 283.95 372.32 284.51 371.32 284.77ZM414.32 255.82 413.69 255.72 413.67 255.22 414.07 254.98 414.57 255.02 414.60 255.47 414.32 255.82ZM398.78 275.48 399.97 273.98 399.82 273.48 399.07 273.13 397.82 273.20 396.57 272.91 396.07 273.02 395.78 273.98 395.85 274.48 396.07 274.70 398.07 275.61 398.78 275.48ZM389.92 274.73 390.30 274.23 390.30 273.73 390.07 273.20 389.57 272.99 389.07 273.29 388.93 273.98 389.32 274.64 389.92 274.73Z"/><path fill-rule="evenodd" fill="rgb(92,92,92)" d="M407.07 250.03 406.68 249.97 406.48 249.72 406.81 248.22 406.42 246.97 406.40 245.97 407.07 244.78 408.68 243.72 407.72 241.22 408.13 239.47 407.90 238.22 408.02 237.72 410.07 237.32 411.26 236.47 413.32 232.51 414.32 231.42 416.32 230.26 417.82 230.69 418.41 231.22 418.72 231.97 418.54 233.22 417.71 235.22 417.77 235.72 418.66 237.72 418.35 238.47 417.82 238.72 415.82 239.04 414.57 240.41 413.79 240.22 412.32 238.91 411.07 238.87 409.57 239.50 409.10 239.97 408.98 240.47 409.34 241.22 411.07 242.74 412.07 243.07 413.57 242.83 415.32 241.86 416.82 241.72 418.57 240.96 419.07 240.98 419.57 241.33 419.91 241.97 420.21 243.97 420.07 244.74 419.57 245.17 418.34 244.47 417.32 244.61 414.07 247.39 412.57 248.11 412.07 248.05 410.07 247.16 408.82 247.27 407.97 247.72 407.50 248.22 407.63 249.47 407.07 250.03ZM403.82 244.48 403.07 244.53 402.51 244.22 402.16 243.47 402.33 242.97 403.07 242.71 403.82 243.09 404.24 243.97 403.82 244.48ZM409.07 260.50 408.57 260.39 407.01 259.23 406.54 258.73 406.26 257.98 406.30 257.23 406.66 256.48 407.32 255.69 408.07 255.33 408.82 255.39 409.31 255.97 409.21 257.48 409.71 259.48 409.57 259.99 409.07 260.50ZM371.82 284.50 369.57 284.57 368.57 284.19 367.32 283.17 366.07 283.10 365.57 282.85 365.01 281.73 364.54 277.98 364.55 276.73 365.15 274.98 365.30 272.98 365.67 271.73 365.88 269.98 366.82 267.83 367.32 267.33 368.57 266.95 369.29 266.48 369.65 265.73 369.64 264.23 371.32 262.23 372.57 262.01 373.82 262.66 374.57 262.73 375.32 262.45 375.99 261.73 376.04 260.98 375.79 260.48 374.07 259.76 373.86 259.23 374.80 257.98 375.19 256.73 376.23 255.97 377.57 255.90 379.32 256.40 381.57 256.65 383.07 257.59 384.99 258.48 385.82 260.01 387.82 258.57 388.14 257.23 388.57 256.89 389.57 256.83 391.57 257.53 392.32 257.53 393.57 257.11 395.57 255.85 396.32 256.41 397.11 257.98 396.82 258.95 396.07 259.56 395.32 259.84 394.82 259.77 393.57 258.78 391.82 258.28 390.57 258.34 389.57 258.83 389.43 259.48 390.07 263.49 390.32 263.66 391.57 262.95 392.32 262.94 393.82 264.22 396.07 265.33 397.16 263.73 398.46 262.73 399.07 260.98 399.53 260.48 400.32 260.34 402.07 260.70 403.57 260.15 404.07 260.26 404.57 260.65 405.84 262.48 407.32 262.87 408.82 262.63 410.19 263.73 411.07 263.90 411.57 263.68 412.07 263.11 412.51 261.23 413.07 260.82 413.57 260.76 414.41 260.98 415.88 261.73 417.16 263.48 419.57 265.67 420.82 266.05 421.29 266.73 421.24 267.23 420.82 267.58 420.32 267.49 419.07 266.77 418.32 267.02 417.90 267.48 417.84 268.23 418.17 269.23 419.43 270.98 419.26 271.73 418.57 271.88 417.57 271.34 417.07 271.29 415.68 271.73 414.37 273.23 411.32 275.62 410.86 275.23 410.32 273.66 409.57 273.16 408.82 273.30 407.32 274.05 406.76 274.48 406.32 275.19 406.07 275.26 403.07 273.29 401.57 273.24 399.32 272.42 397.57 272.56 395.57 272.11 395.34 272.48 395.14 274.23 394.60 275.48 396.57 275.48 397.82 276.35 398.32 276.50 398.82 276.35 400.07 275.45 400.57 275.43 400.95 275.73 400.98 276.48 400.53 277.48 399.81 278.23 398.82 278.63 398.07 278.57 395.57 277.83 394.77 276.98 394.51 276.23 394.56 275.73 394.32 275.64 391.82 276.09 390.67 275.98 390.44 275.73 390.81 274.73 390.84 273.98 390.32 272.57 389.57 272.36 387.82 272.91 387.57 271.95 387.32 271.64 386.82 271.52 386.34 271.98 386.32 272.77 386.82 273.22 387.82 272.98 388.68 275.23 388.63 275.73 388.07 275.98 386.32 276.18 384.82 277.40 383.32 276.92 382.67 276.98 382.38 277.23 382.36 277.73 383.43 278.73 383.63 279.23 383.11 279.98 381.32 280.48 379.82 279.58 379.32 279.49 378.57 279.79 376.82 281.43 374.82 281.21 374.32 281.69 373.59 283.48 372.82 284.10 371.82 284.50ZM414.79 271.73 414.83 271.23 414.46 270.73 414.07 270.65 413.56 270.98 413.56 271.48 413.82 271.73 414.32 271.86 414.79 271.73Z"/><path fill-rule="evenodd" fill="rgb(102,102,102)" d="M414.57 239.54 414.32 239.64 413.82 239.46 412.56 237.97 412.27 235.72 412.36 234.97 413.32 233.11 414.07 232.23 415.07 231.79 416.82 231.46 417.07 231.75 417.43 233.47 417.20 235.47 417.92 236.97 418.07 237.72 417.57 238.34 415.57 238.60 414.57 239.54ZM409.32 239.05 409.07 239.08 408.82 238.74 409.07 238.27 409.60 238.22 410.06 238.47 409.32 239.05ZM413.07 247.49 412.07 247.59 409.82 246.77 407.32 247.33 406.82 246.76 406.83 245.97 407.22 245.22 407.82 244.78 410.07 244.69 411.22 243.97 413.32 243.51 415.32 242.35 418.32 241.25 418.82 241.19 419.34 241.47 419.72 242.47 419.77 243.72 419.57 244.25 418.32 244.06 416.82 244.44 413.07 247.49ZM409.82 242.94 409.32 242.88 408.82 242.47 408.46 241.72 408.57 241.26 409.87 242.22 410.03 242.72 409.82 242.94ZM403.32 243.89 402.87 243.72 402.87 243.47 403.38 243.47 403.32 243.89ZM408.82 259.84 408.32 259.73 407.62 259.23 406.82 258.23 406.82 257.48 407.07 257.00 408.07 256.13 408.35 256.23 408.42 257.48 409.19 258.98 409.19 259.48 408.82 259.84ZM372.07 284.26 370.57 284.47 369.57 284.30 368.57 283.74 367.57 282.55 366.07 282.67 365.57 282.39 365.21 281.48 364.74 276.98 365.40 274.98 365.57 273.11 366.10 271.73 366.24 269.73 367.07 267.99 367.57 267.60 369.07 267.09 370.03 266.23 370.55 265.23 371.04 263.23 371.57 262.59 372.32 262.41 374.07 263.32 374.82 263.33 375.82 262.88 377.40 261.48 375.82 258.32 375.98 256.98 376.57 256.38 377.57 256.31 381.07 256.89 381.82 257.20 384.07 258.75 385.32 261.64 385.82 262.04 386.44 261.73 387.19 259.73 387.82 259.27 388.57 259.16 389.07 259.85 389.32 260.68 389.46 263.73 389.82 264.67 390.32 264.95 390.82 264.82 391.52 263.73 392.07 263.52 394.82 265.22 395.82 266.18 396.32 266.19 396.66 265.98 397.57 264.00 398.82 263.48 399.03 263.23 399.32 261.63 399.80 260.98 400.32 260.84 402.07 261.09 403.57 260.65 404.07 260.81 404.57 261.40 404.75 262.98 404.97 263.23 406.32 263.12 408.57 263.42 410.82 264.28 411.57 264.04 412.18 263.48 412.82 261.47 413.32 261.15 414.03 261.23 415.49 262.23 416.44 263.48 417.99 264.73 418.53 265.48 418.38 266.23 417.25 267.48 417.21 267.98 417.58 269.48 417.43 270.23 416.82 270.57 416.07 270.70 414.57 269.89 413.32 270.31 412.74 270.98 412.66 271.48 413.36 272.98 411.82 274.38 411.32 274.22 410.75 272.98 410.07 272.45 409.07 272.56 406.07 273.69 405.57 273.66 405.07 273.23 405.01 272.73 405.32 272.23 406.08 271.73 405.84 271.23 404.62 270.73 402.57 270.45 401.52 270.73 400.82 271.77 400.32 271.99 399.07 271.92 397.32 272.12 395.07 271.10 394.57 271.12 394.36 271.48 394.86 273.23 394.57 274.21 393.82 274.82 392.07 275.36 391.57 275.08 390.88 272.48 390.57 272.01 388.57 271.86 387.32 270.88 386.32 270.91 385.84 271.23 385.52 271.73 385.50 272.73 385.95 273.73 387.19 274.73 387.14 274.98 386.32 275.37 384.82 276.54 384.32 276.63 382.82 276.40 381.82 276.95 381.63 277.73 382.83 278.98 382.96 279.48 382.83 279.73 382.07 280.09 381.32 280.02 379.82 278.33 379.07 278.17 378.12 279.48 376.82 280.76 376.32 280.80 375.32 280.49 374.32 280.89 373.93 281.48 373.54 283.23 372.82 283.91 372.07 284.26ZM395.57 259.24 394.82 259.03 393.62 257.98 393.56 257.73 395.32 256.37 396.07 256.73 396.69 257.98 396.47 258.73 395.57 259.24ZM389.57 258.05 388.82 258.08 388.57 257.63 388.72 257.23 389.57 257.15 390.25 257.48 390.21 257.73 389.57 258.05ZM399.07 278.10 398.57 278.20 397.57 277.73 396.32 277.76 395.82 277.60 395.32 277.13 395.28 276.48 395.82 276.04 396.57 276.06 397.82 277.44 399.82 276.80 399.94 276.98 399.76 277.48 399.07 278.10Z"/><path fill-rule="evenodd" fill="rgb(112,112,112)" d="M414.57 238.29 413.82 238.29 413.22 237.72 412.76 235.97 412.74 234.97 413.32 233.67 414.07 232.82 414.82 232.47 415.82 232.45 416.33 232.72 416.80 233.47 416.72 235.72 417.40 236.97 417.47 237.47 417.07 237.92 415.57 237.95 414.57 238.29ZM412.82 247.05 411.82 247.03 409.82 246.13 407.63 246.72 407.32 246.47 407.31 245.97 407.60 245.47 408.07 245.20 408.57 245.18 410.07 245.65 412.07 244.61 413.82 244.42 414.88 243.22 416.09 242.47 418.32 241.46 418.82 241.47 419.17 241.72 419.40 242.47 419.07 243.37 414.51 244.72 413.83 246.22 412.82 247.05ZM371.32 284.25 370.07 284.15 369.09 283.73 368.07 282.02 367.82 281.87 366.07 282.23 365.55 281.73 364.96 277.23 365.65 275.23 365.84 273.48 366.74 271.98 366.51 270.48 366.57 269.76 367.40 268.23 369.32 267.30 370.75 265.98 371.33 264.98 371.60 263.48 371.82 263.12 372.07 262.98 372.57 263.08 374.02 264.73 374.82 265.00 375.33 264.73 376.08 263.48 377.07 262.52 377.82 262.11 379.35 261.73 380.13 261.23 380.18 260.98 379.89 260.73 378.07 260.57 377.33 259.98 377.09 259.23 377.02 257.73 377.16 257.23 377.57 256.98 380.38 257.23 381.61 257.73 383.57 259.23 384.22 260.23 384.89 261.98 385.32 262.48 385.82 262.71 386.32 262.69 386.81 262.23 387.57 260.10 388.07 259.79 388.57 259.95 389.11 261.23 389.04 263.73 389.19 264.48 389.57 265.10 390.32 265.52 390.87 265.48 392.07 264.62 392.57 264.58 394.32 265.39 395.57 266.56 396.57 266.53 397.21 265.98 397.82 264.69 398.32 264.52 399.32 264.85 399.78 264.48 399.98 263.73 399.77 262.23 400.07 261.59 400.57 261.43 402.07 261.51 403.32 261.17 403.82 261.30 404.07 261.61 404.10 263.23 404.57 263.85 406.82 263.54 409.32 264.15 410.82 264.73 411.32 264.62 412.07 264.00 412.69 263.23 413.25 261.73 413.82 261.61 414.75 262.23 416.07 263.92 417.32 264.74 417.89 265.48 417.82 265.98 416.53 267.48 416.45 267.98 416.68 268.98 416.53 269.48 416.07 269.53 415.32 269.05 414.57 269.12 413.32 269.72 411.82 270.81 408.57 271.94 407.82 271.88 405.48 269.98 405.07 268.82 404.82 268.58 403.07 269.67 400.92 270.48 400.07 271.24 398.07 271.72 396.82 271.64 394.88 270.48 393.82 270.63 393.25 270.98 393.23 271.23 394.19 272.48 394.38 273.48 394.07 274.01 393.07 274.46 392.32 274.44 391.82 274.00 391.46 272.98 391.37 271.73 391.07 271.35 388.82 271.41 387.07 270.00 384.82 270.34 383.57 270.78 382.89 271.23 382.82 271.97 383.32 272.45 384.32 272.70 384.82 273.13 385.58 274.73 385.28 275.48 384.32 276.08 383.07 275.94 382.32 276.06 380.57 277.37 378.82 277.47 378.32 277.95 377.62 279.23 377.07 279.70 376.57 279.87 375.32 279.75 374.57 280.10 373.85 280.73 373.57 281.21 373.42 282.73 373.10 283.48 372.32 284.00 371.32 284.25ZM395.82 258.59 395.32 258.59 394.72 257.98 394.68 257.48 395.07 257.07 395.57 257.02 396.07 257.55 396.16 258.23 395.82 258.59ZM387.63 269.23 388.11 268.73 388.12 268.23 387.82 267.93 387.32 267.85 386.82 268.17 386.68 268.73 387.07 269.39 387.63 269.23Z"/><path fill-rule="evenodd" fill="rgb(122,122,122)" d="M414.82 237.52 414.07 237.60 413.57 237.21 413.20 235.97 413.13 234.97 413.38 234.22 413.95 233.47 414.57 233.09 415.32 233.00 416.07 233.33 416.41 233.97 416.09 235.72 416.31 236.72 416.27 236.97 414.82 237.52ZM418.07 243.28 416.82 243.34 416.50 243.22 416.49 242.97 417.22 242.22 418.57 241.73 418.91 241.97 419.00 242.47 418.72 242.97 418.07 243.28ZM379.57 259.98 378.57 260.12 377.78 259.73 377.57 258.67 378.07 257.62 378.57 257.43 379.43 257.48 380.14 257.73 380.65 258.23 380.63 259.23 380.14 259.73 379.57 259.98ZM371.82 283.98 370.32 283.91 369.35 283.48 368.98 282.98 368.57 281.48 368.32 281.27 367.57 281.21 366.32 281.68 366.07 281.61 365.84 281.23 365.74 279.48 365.27 277.23 365.97 275.48 366.25 273.73 367.28 272.73 367.55 272.23 367.55 271.73 367.07 270.48 367.23 269.48 367.82 268.66 370.78 266.48 372.32 264.69 372.82 264.71 374.07 265.42 374.87 265.48 375.72 264.98 376.66 263.48 377.57 262.65 378.57 262.35 381.32 262.14 381.82 261.58 381.97 259.98 382.32 259.58 382.82 259.62 383.39 259.98 383.82 260.58 384.63 262.48 385.07 262.92 385.82 263.27 386.57 263.23 386.96 262.98 387.82 260.78 388.32 260.57 388.64 260.98 388.81 261.73 388.72 264.23 389.02 264.98 389.57 265.63 390.57 265.98 392.32 265.22 393.07 265.23 394.07 265.69 395.07 266.70 395.57 266.95 396.82 266.78 398.07 265.67 399.57 265.42 400.49 264.23 400.61 262.73 400.82 262.27 402.82 261.86 403.38 261.98 403.66 263.48 404.23 264.23 404.82 264.34 406.57 263.84 409.57 264.67 410.38 265.23 410.82 266.67 411.32 266.97 411.57 266.90 411.83 266.48 411.63 265.48 411.71 264.98 413.57 262.42 413.82 262.34 414.57 262.86 415.70 264.48 417.12 265.48 417.07 265.83 416.74 266.23 412.07 269.92 408.57 271.17 407.82 271.02 406.36 269.98 406.01 269.48 405.70 268.23 405.07 267.75 404.57 267.87 402.32 269.58 400.41 270.23 398.49 271.23 397.57 271.44 396.70 271.23 395.07 270.07 392.57 270.08 392.06 269.73 391.07 268.54 390.32 268.38 389.92 268.73 390.68 269.98 390.57 270.48 389.82 270.96 389.07 271.00 388.57 270.72 388.18 269.98 388.36 269.48 389.04 268.73 388.98 268.23 388.07 267.47 387.32 267.33 386.82 267.44 386.32 267.80 385.57 268.88 384.57 269.34 382.82 270.63 382.38 271.23 382.32 271.84 382.57 272.44 384.50 274.23 384.67 274.73 384.50 275.23 384.07 275.42 382.57 275.50 380.57 276.61 378.82 276.98 378.20 277.48 377.07 278.93 375.32 279.07 374.17 279.73 373.57 280.23 373.13 280.98 373.10 282.73 372.94 283.23 372.46 283.73 371.82 283.98ZM393.32 273.77 392.57 273.77 392.21 273.48 392.00 272.73 392.32 272.15 393.07 272.16 393.70 272.73 393.81 273.23 393.32 273.77Z"/><path fill-rule="evenodd" fill="rgb(133,133,133)" d="M414.57 236.74 414.07 236.64 413.86 236.22 413.67 234.72 414.32 233.79 415.32 233.60 415.81 233.97 415.85 234.47 414.89 236.47 414.57 236.74ZM417.82 242.74 417.69 242.47 417.99 242.22 418.34 242.22 418.32 242.54 417.82 242.74ZM379.07 259.57 378.32 259.48 378.07 258.98 378.31 258.23 378.82 257.94 379.32 258.00 379.80 258.48 379.63 259.23 379.07 259.57ZM372.07 283.58 370.82 283.65 369.71 283.23 369.39 282.73 369.40 281.23 369.07 280.70 366.57 280.66 365.77 277.73 365.81 276.98 366.32 275.89 366.67 274.23 368.01 272.48 368.12 271.73 367.94 270.23 368.24 269.48 368.96 268.48 372.32 265.48 372.82 265.43 374.32 265.85 375.57 265.51 376.32 264.77 377.32 263.25 378.07 262.81 379.82 262.74 381.82 263.50 382.19 263.23 383.07 261.58 383.32 261.59 384.57 263.40 385.32 263.89 386.32 264.01 387.82 263.43 388.88 265.48 389.82 266.32 390.57 266.47 392.32 265.64 393.07 265.63 393.84 265.98 395.07 267.15 395.82 267.32 396.82 267.12 398.32 266.27 399.57 265.90 400.53 264.98 401.59 263.23 402.07 262.87 402.57 262.85 403.58 264.23 404.32 264.76 406.57 264.15 409.57 265.17 410.01 265.73 410.28 266.98 410.57 267.49 412.16 268.23 412.01 268.98 411.42 269.48 408.07 270.32 407.01 269.73 405.96 267.73 405.32 267.29 404.82 267.24 402.32 269.26 401.32 269.64 399.57 269.94 398.32 270.86 397.32 271.07 396.57 270.74 395.32 269.72 392.82 269.62 391.32 268.12 390.57 267.65 389.32 267.55 387.57 266.89 386.07 267.02 384.82 267.99 382.14 270.98 382.07 272.23 383.06 273.98 382.79 274.73 380.53 275.98 378.57 276.71 376.82 278.47 375.07 278.64 372.83 279.73 372.30 280.73 372.72 282.73 372.54 283.23 372.07 283.58ZM414.07 266.81 413.57 266.94 413.07 266.83 412.48 265.98 412.24 265.23 412.57 264.43 413.82 263.42 414.56 263.98 415.35 265.73 415.11 266.23 414.07 266.81ZM385.14 266.23 385.38 265.73 385.07 264.82 384.57 264.41 383.90 264.48 383.81 264.98 384.08 265.48 384.57 266.04 385.14 266.23ZM389.57 270.27 389.07 270.24 389.03 269.98 389.32 269.79 389.57 269.90 389.57 270.27Z"/><path fill-rule="evenodd" fill="rgb(143,143,143)" d="M370.82 280.26 369.57 279.94 367.32 279.93 366.91 279.48 366.52 277.73 367.05 274.73 368.43 272.48 368.57 270.23 369.46 268.48 370.13 267.73 372.32 266.02 374.57 266.16 375.57 265.82 376.56 264.98 377.57 263.49 378.32 263.09 379.82 263.23 382.57 264.83 383.78 266.23 384.16 267.23 383.60 268.73 382.11 270.48 381.76 271.23 381.72 272.23 382.33 273.73 382.13 274.48 378.82 276.14 376.82 278.03 375.07 278.24 372.82 278.94 371.32 280.09 370.82 280.26ZM397.82 270.59 397.07 270.57 395.32 269.22 393.57 269.36 392.82 269.14 391.25 267.48 391.10 266.98 391.22 266.73 392.07 266.08 393.07 265.99 393.82 266.40 395.07 267.63 396.32 267.60 399.32 266.50 401.57 264.43 402.32 264.07 402.82 264.21 404.32 265.32 404.82 265.23 406.07 264.54 406.82 264.50 409.07 265.49 409.56 265.98 409.66 266.98 409.32 267.59 407.07 267.88 405.57 266.93 404.82 266.70 404.32 266.96 403.07 268.38 402.07 269.12 400.57 269.46 399.07 269.17 398.35 270.23 397.82 270.59ZM413.57 265.58 413.07 265.39 412.97 264.98 413.57 264.44 413.82 264.54 414.00 264.98 413.82 265.46 413.57 265.58ZM388.32 266.37 387.32 266.29 386.81 265.98 386.75 265.23 387.07 264.78 387.57 264.62 388.07 265.05 388.52 265.98 388.54 266.23 388.32 266.37ZM371.32 283.23 370.57 283.03 370.19 282.73 370.11 282.48 370.32 282.00 370.82 281.83 371.86 282.23 372.07 282.53 372.02 282.98 371.32 283.23Z"/><path fill-rule="evenodd" fill="rgb(153,153,153)" d="M371.07 279.54 367.82 279.42 367.33 278.98 367.08 277.98 367.40 274.98 368.73 272.73 369.01 270.23 370.05 268.23 372.32 266.53 374.57 266.47 375.57 266.12 376.75 265.23 377.82 263.80 378.32 263.50 379.07 263.48 379.82 263.73 382.28 265.23 383.34 266.48 383.56 267.48 383.12 268.73 381.95 270.23 381.48 271.23 381.34 272.23 381.61 273.48 381.51 273.98 381.07 274.14 380.07 273.52 379.82 273.74 379.23 275.23 376.82 277.65 375.07 277.89 372.82 278.54 371.07 279.54ZM401.82 268.99 400.82 269.20 400.01 268.98 399.28 268.23 399.13 267.48 399.66 266.73 401.32 265.19 402.07 264.80 402.57 264.80 403.72 265.73 403.97 266.48 403.12 267.98 401.82 268.99ZM407.82 267.01 407.07 267.19 406.32 266.92 405.40 266.23 405.24 265.98 405.37 265.48 406.32 264.83 407.11 264.98 408.76 266.23 408.80 266.48 408.58 266.73 407.82 267.01ZM394.07 268.77 393.32 268.89 392.57 268.44 391.75 267.48 391.78 266.73 392.57 266.30 393.57 266.65 394.56 268.23 394.07 268.77ZM397.57 269.93 397.07 269.87 396.06 268.98 395.78 268.48 395.98 268.23 397.07 267.85 397.95 267.98 398.10 268.48 398.01 269.23 397.57 269.93Z"/><path fill-rule="evenodd" fill="rgb(163,163,163)" d="M371.32 279.00 370.57 279.15 368.07 278.88 367.67 278.48 367.46 277.73 367.67 275.23 369.15 272.73 369.33 270.48 370.27 268.48 371.07 267.73 372.32 267.02 374.57 266.80 375.57 266.43 377.32 265.23 378.57 264.03 380.07 264.32 381.66 265.23 382.80 266.48 383.04 267.23 382.95 267.98 381.49 270.48 380.82 272.11 379.82 272.55 379.39 272.98 379.06 274.48 378.69 275.23 376.57 277.42 374.82 277.63 372.82 278.22 371.32 279.00ZM401.82 268.74 401.07 268.95 400.32 268.78 399.80 268.23 399.68 267.48 400.10 266.73 400.82 266.01 401.57 265.51 402.32 265.35 403.07 265.80 403.42 266.73 402.99 267.73 401.82 268.74ZM406.82 266.49 406.02 265.98 406.07 265.50 406.32 265.33 406.82 265.36 407.24 265.73 407.32 266.23 406.82 266.49ZM393.32 268.29 392.82 268.10 392.32 267.60 392.17 267.23 392.32 266.86 392.86 266.73 393.53 267.23 393.72 267.98 393.32 268.29Z"/><path fill-rule="evenodd" fill="rgb(173,173,173)" d="M371.07 278.74 370.32 278.77 368.32 278.41 367.94 277.98 367.73 276.98 367.78 275.98 368.07 275.02 369.63 272.98 369.65 270.73 370.74 268.48 372.32 267.50 375.07 267.02 377.07 265.81 378.32 265.41 379.32 264.77 380.32 264.84 381.42 265.48 382.37 266.73 382.39 267.98 380.80 271.23 379.11 272.73 378.66 274.48 378.25 275.23 376.57 277.07 374.57 277.39 372.32 278.11 371.07 278.74ZM401.82 268.48 401.07 268.69 400.57 268.57 400.20 268.23 400.06 267.48 400.82 266.40 401.57 265.96 402.07 265.88 402.73 266.23 402.96 266.98 402.65 267.73 401.82 268.48Z"/><path fill-rule="evenodd" fill="rgb(184,184,184)" d="M371.32 278.31 370.32 278.45 368.57 278.05 368.13 277.48 368.00 276.73 368.10 275.73 368.57 274.81 369.32 274.16 370.57 273.73 370.78 273.48 370.72 272.98 370.10 271.98 370.00 271.23 370.18 270.48 371.17 268.73 372.32 268.00 374.82 267.52 377.07 266.20 378.84 265.98 379.82 265.34 380.32 265.31 381.07 265.69 381.55 266.23 381.83 266.98 381.24 269.48 380.57 270.82 378.93 272.48 378.30 274.48 377.83 275.23 376.82 276.46 376.32 276.81 374.57 277.07 371.32 278.31ZM401.57 268.30 401.07 268.39 400.66 268.23 400.43 267.48 401.07 266.63 401.57 266.41 402.07 266.43 402.42 266.73 402.50 267.23 402.07 267.97 401.57 268.30Z"/><path fill-rule="evenodd" fill="rgb(194,194,194)" d="M371.07 278.06 370.07 278.10 368.82 277.75 368.39 277.23 368.28 276.23 368.57 275.35 369.07 274.82 370.82 274.26 371.39 273.73 371.51 272.98 370.76 271.73 370.67 271.23 371.07 270.61 372.07 270.48 372.42 270.23 372.16 269.23 372.41 268.73 374.82 267.96 377.32 266.49 379.32 266.51 380.32 266.13 380.64 266.23 380.90 266.73 380.68 269.73 378.82 272.17 377.91 274.48 376.82 275.93 376.09 276.48 374.82 276.65 371.07 278.06ZM401.32 267.98 401.07 267.94 400.90 267.48 401.32 267.00 401.70 266.98 401.92 267.48 401.32 267.98Z"/><path fill-rule="evenodd" fill="rgb(204,204,204)" d="M370.82 277.75 369.82 277.72 369.07 277.48 368.58 276.73 368.64 275.98 369.21 275.23 370.82 274.76 371.76 273.98 372.06 273.23 372.14 271.73 373.50 270.48 373.90 268.98 377.32 266.87 378.32 266.82 379.57 267.30 380.18 268.23 380.20 269.48 377.07 274.95 376.07 275.94 370.82 277.75Z"/><path fill-rule="evenodd" fill="rgb(214,214,214)" d="M370.82 277.26 370.07 277.32 369.32 277.11 369.01 276.73 369.07 275.98 369.57 275.61 370.82 275.33 372.31 273.98 372.57 273.48 372.71 272.23 373.95 270.98 374.36 269.48 374.67 268.98 377.32 267.26 378.32 267.20 379.07 267.55 379.58 268.23 379.67 269.23 378.71 271.48 377.32 273.72 376.25 274.48 375.59 275.23 373.64 276.48 370.82 277.26ZM376.00 274.23 376.13 273.73 375.97 273.23 375.57 272.87 375.32 272.93 375.16 273.48 375.31 273.98 375.57 274.23 376.00 274.23Z"/><path fill-rule="evenodd" fill="rgb(224,224,224)" d="M377.07 272.98 374.88 271.48 374.66 270.73 374.71 269.73 375.12 268.98 375.76 268.48 377.32 267.65 378.07 267.56 378.57 267.74 379.02 268.23 379.15 269.23 378.32 271.72 377.57 272.71 377.07 272.98ZM373.82 273.17 373.55 272.73 373.82 272.32 374.10 272.48 373.82 273.17ZM372.57 276.48 371.82 276.48 371.38 276.23 371.53 275.48 372.82 274.31 373.57 273.98 373.82 274.08 374.20 274.73 374.10 275.48 373.32 276.21 372.57 276.48Z"/><path fill-rule="evenodd" fill="rgb(235,235,235)" d="M377.57 272.24 376.82 272.35 375.67 271.48 375.10 270.73 375.00 269.98 375.28 269.23 375.82 268.73 377.07 268.12 377.82 267.98 378.56 268.48 378.70 269.48 378.33 271.23 377.57 272.24ZM372.82 275.59 372.57 275.48 372.82 275.38 372.82 275.59Z"/><path fill-rule="evenodd" fill="rgb(245,245,245)" d="M377.57 271.83 377.07 271.97 376.57 271.77 375.65 270.98 375.32 270.23 375.45 269.48 375.82 269.03 377.32 268.43 378.07 268.70 378.34 269.48 378.17 270.98 377.57 271.83Z"/></g><ellipse cx="370" cy="241.8" rx="1.4" ry="1.4" fill="#1530ff"/><ellipse cx="383" cy="243" rx="1.2" ry="1.2" fill="#1530ff"/><ellipse cx="395.7" cy="237.5" rx="1.4" ry="1.4" fill="#1530ff"/><ellipse cx="390.5" cy="251" rx="1.1" ry="1.1" fill="#1530ff"/><ellipse cx="383" cy="254" rx="0.9" ry="0.9" fill="#1530ff"/><ellipse cx="371" cy="256" rx="0.9" ry="0.9" fill="#1530ff"/><ellipse cx="419" cy="215.2" rx="1.4" ry="0.9" fill="#1530ff"/><circle cx="393.6" cy="282.7" r="0.4" fill="#555"/><circle cx="405.1" cy="230.0" r="0.4" fill="#555"/><circle cx="360.1" cy="287.7" r="0.4" fill="#555"/><circle cx="357.8" cy="287.0" r="0.4" fill="#555"/><circle cx="396.8" cy="284.5" r="0.4" fill="#555"/><circle cx="422.3" cy="253.2" r="0.4" fill="#555"/><circle cx="420.8" cy="226.0" r="0.4" fill="#555"/><circle cx="421.6" cy="279.0" r="0.4" fill="#555"/><circle cx="425.6" cy="234.2" r="0.4" fill="#555"/><circle cx="392.1" cy="253.7" r="0.4" fill="#555"/><circle cx="356.3" cy="270.7" r="0.4" fill="#555"/><circle cx="425.1" cy="231.2" r="0.4" fill="#555"/><circle cx="355.6" cy="277.7" r="0.4" fill="#555"/><circle cx="358.6" cy="264.5" r="0.4" fill="#555"/><circle cx="428.3" cy="268.0" r="0.4" fill="#555"/><circle cx="359.1" cy="270.2" r="0.4" fill="#555"/><circle cx="370.6" cy="252.0" r="0.4" fill="#555"/><circle cx="354.3" cy="282.7" r="0.4" fill="#555"/><circle cx="422.3" cy="255.0" r="0.4" fill="#555"/><circle cx="424.6" cy="244.0" r="0.4" fill="#555"/><circle cx="395.1" cy="281.7" r="0.4" fill="#555"/><circle cx="411.8" cy="228.7" r="0.4" fill="#555"/><circle cx="425.8" cy="249.2" r="0.4" fill="#555"/><circle cx="416.3" cy="223.7" r="0.4" fill="#555"/><circle cx="401.3" cy="234.7" r="0.4" fill="#555"/><circle cx="375.1" cy="252.2" r="0.4" fill="#555"/><circle cx="379.8" cy="285.5" r="0.4" fill="#555"/><circle cx="407.6" cy="230.0" r="0.4" fill="#555"/><circle cx="355.6" cy="276.2" r="0.4" fill="#555"/><circle cx="357.1" cy="266.0" r="0.4" fill="#555"/></g><rect x="191.7" y="46.5" width="75.80000000000001" height="75.8" fill="none" stroke="#b4b4b4" stroke-width="0.9"/><rect x="270.5" y="46.5" width="75.80000000000001" height="75.8" fill="none" stroke="#b4b4b4" stroke-width="0.9"/><rect x="348.5" y="46.5" width="74.5" height="75.8" fill="none" stroke="#b4b4b4" stroke-width="0.9"/><rect x="23.5" y="215.5" width="74.8" height="74.19999999999999" fill="none" stroke="#a0a0a0" stroke-width="0.8"/><rect x="100.5" y="215.5" width="75.5" height="74.19999999999999" fill="none" stroke="#a0a0a0" stroke-width="0.8"/><rect x="275.6" y="214.6" width="75.69999999999999" height="75.1" fill="none" stroke="#a0a0a0" stroke-width="0.8"/><rect x="354.2" y="214.6" width="75.40000000000003" height="75.1" fill="none" stroke="#a0a0a0" stroke-width="0.8"/><line x1="21.9" y1="219.5" x2="23.5" y2="219.5" stroke="#999" stroke-width="0.6"/><line x1="21.9" y1="224.9" x2="23.5" y2="224.9" stroke="#999" stroke-width="0.6"/><line x1="21.9" y1="230.3" x2="23.5" y2="230.3" stroke="#999" stroke-width="0.6"/><line x1="21.9" y1="235.7" x2="23.5" y2="235.7" stroke="#999" stroke-width="0.6"/><line x1="21.9" y1="241.1" x2="23.5" y2="241.1" stroke="#999" stroke-width="0.6"/><line x1="21.9" y1="246.5" x2="23.5" y2="246.5" stroke="#999" stroke-width="0.6"/><line x1="21.9" y1="251.9" x2="23.5" y2="251.9" stroke="#999" stroke-width="0.6"/><line x1="21.9" y1="257.3" x2="23.5" y2="257.3" stroke="#999" stroke-width="0.6"/><line x1="21.9" y1="262.7" x2="23.5" y2="262.7" stroke="#999" stroke-width="0.6"/><line x1="21.9" y1="268.1" x2="23.5" y2="268.1" stroke="#999" stroke-width="0.6"/><line x1="21.9" y1="273.5" x2="23.5" y2="273.5" stroke="#999" stroke-width="0.6"/><line x1="21.9" y1="278.9" x2="23.5" y2="278.9" stroke="#999" stroke-width="0.6"/><line x1="21.9" y1="284.3" x2="23.5" y2="284.3" stroke="#999" stroke-width="0.6"/><line x1="27.5" y1="289.7" x2="27.5" y2="291.3" stroke="#999" stroke-width="0.6"/><line x1="32.9" y1="289.7" x2="32.9" y2="291.3" stroke="#999" stroke-width="0.6"/><line x1="38.3" y1="289.7" x2="38.3" y2="291.3" stroke="#999" stroke-width="0.6"/><line x1="43.7" y1="289.7" x2="43.7" y2="291.3" stroke="#999" stroke-width="0.6"/><line x1="49.1" y1="289.7" x2="49.1" y2="291.3" stroke="#999" stroke-width="0.6"/><line x1="54.5" y1="289.7" x2="54.5" y2="291.3" stroke="#999" stroke-width="0.6"/><line x1="59.9" y1="289.7" x2="59.9" y2="291.3" stroke="#999" stroke-width="0.6"/><line x1="65.3" y1="289.7" x2="65.3" y2="291.3" stroke="#999" stroke-width="0.6"/><line x1="70.7" y1="289.7" x2="70.7" y2="291.3" stroke="#999" stroke-width="0.6"/><line x1="76.1" y1="289.7" x2="76.1" y2="291.3" stroke="#999" stroke-width="0.6"/><line x1="81.5" y1="289.7" x2="81.5" y2="291.3" stroke="#999" stroke-width="0.6"/><line x1="86.9" y1="289.7" x2="86.9" y2="291.3" stroke="#999" stroke-width="0.6"/><line x1="92.3" y1="289.7" x2="92.3" y2="291.3" stroke="#999" stroke-width="0.6"/><rect x="21.6" y="269.6" width="1.9" height="3.2" fill="#111"/><rect x="31.2" y="289.7" width="8.5" height="1.9" fill="#222"/><line x1="98.9" y1="219.5" x2="100.5" y2="219.5" stroke="#999" stroke-width="0.6"/><line x1="98.9" y1="224.9" x2="100.5" y2="224.9" stroke="#999" stroke-width="0.6"/><line x1="98.9" y1="230.3" x2="100.5" y2="230.3" stroke="#999" stroke-width="0.6"/><line x1="98.9" y1="235.7" x2="100.5" y2="235.7" stroke="#999" stroke-width="0.6"/><line x1="98.9" y1="241.1" x2="100.5" y2="241.1" stroke="#999" stroke-width="0.6"/><line x1="98.9" y1="246.5" x2="100.5" y2="246.5" stroke="#999" stroke-width="0.6"/><line x1="98.9" y1="251.9" x2="100.5" y2="251.9" stroke="#999" stroke-width="0.6"/><line x1="98.9" y1="257.3" x2="100.5" y2="257.3" stroke="#999" stroke-width="0.6"/><line x1="98.9" y1="262.7" x2="100.5" y2="262.7" stroke="#999" stroke-width="0.6"/><line x1="98.9" y1="268.1" x2="100.5" y2="268.1" stroke="#999" stroke-width="0.6"/><line x1="98.9" y1="273.5" x2="100.5" y2="273.5" stroke="#999" stroke-width="0.6"/><line x1="98.9" y1="278.9" x2="100.5" y2="278.9" stroke="#999" stroke-width="0.6"/><line x1="98.9" y1="284.3" x2="100.5" y2="284.3" stroke="#999" stroke-width="0.6"/><line x1="104.5" y1="289.7" x2="104.5" y2="291.3" stroke="#999" stroke-width="0.6"/><line x1="109.9" y1="289.7" x2="109.9" y2="291.3" stroke="#999" stroke-width="0.6"/><line x1="115.3" y1="289.7" x2="115.3" y2="291.3" stroke="#999" stroke-width="0.6"/><line x1="120.7" y1="289.7" x2="120.7" y2="291.3" stroke="#999" stroke-width="0.6"/><line x1="126.1" y1="289.7" x2="126.1" y2="291.3" stroke="#999" stroke-width="0.6"/><line x1="131.5" y1="289.7" x2="131.5" y2="291.3" stroke="#999" stroke-width="0.6"/><line x1="136.9" y1="289.7" x2="136.9" y2="291.3" stroke="#999" stroke-width="0.6"/><line x1="142.3" y1="289.7" x2="142.3" y2="291.3" stroke="#999" stroke-width="0.6"/><line x1="147.7" y1="289.7" x2="147.7" y2="291.3" stroke="#999" stroke-width="0.6"/><line x1="153.1" y1="289.7" x2="153.1" y2="291.3" stroke="#999" stroke-width="0.6"/><line x1="158.5" y1="289.7" x2="158.5" y2="291.3" stroke="#999" stroke-width="0.6"/><line x1="163.9" y1="289.7" x2="163.9" y2="291.3" stroke="#999" stroke-width="0.6"/><line x1="169.3" y1="289.7" x2="169.3" y2="291.3" stroke="#999" stroke-width="0.6"/><line x1="174.7" y1="289.7" x2="174.7" y2="291.3" stroke="#999" stroke-width="0.6"/><rect x="98.6" y="269.6" width="1.9" height="3.2" fill="#111"/><rect x="108.2" y="289.7" width="8.5" height="1.9" fill="#222"/><line x1="274.0" y1="218.6" x2="275.6" y2="218.6" stroke="#999" stroke-width="0.6"/><line x1="274.0" y1="224.0" x2="275.6" y2="224.0" stroke="#999" stroke-width="0.6"/><line x1="274.0" y1="229.4" x2="275.6" y2="229.4" stroke="#999" stroke-width="0.6"/><line x1="274.0" y1="234.8" x2="275.6" y2="234.8" stroke="#999" stroke-width="0.6"/><line x1="274.0" y1="240.2" x2="275.6" y2="240.2" stroke="#999" stroke-width="0.6"/><line x1="274.0" y1="245.6" x2="275.6" y2="245.6" stroke="#999" stroke-width="0.6"/><line x1="274.0" y1="251.0" x2="275.6" y2="251.0" stroke="#999" stroke-width="0.6"/><line x1="274.0" y1="256.4" x2="275.6" y2="256.4" stroke="#999" stroke-width="0.6"/><line x1="274.0" y1="261.8" x2="275.6" y2="261.8" stroke="#999" stroke-width="0.6"/><line x1="274.0" y1="267.2" x2="275.6" y2="267.2" stroke="#999" stroke-width="0.6"/><line x1="274.0" y1="272.6" x2="275.6" y2="272.6" stroke="#999" stroke-width="0.6"/><line x1="274.0" y1="278.0" x2="275.6" y2="278.0" stroke="#999" stroke-width="0.6"/><line x1="274.0" y1="283.4" x2="275.6" y2="283.4" stroke="#999" stroke-width="0.6"/><line x1="279.6" y1="289.7" x2="279.6" y2="291.3" stroke="#999" stroke-width="0.6"/><line x1="285.0" y1="289.7" x2="285.0" y2="291.3" stroke="#999" stroke-width="0.6"/><line x1="290.4" y1="289.7" x2="290.4" y2="291.3" stroke="#999" stroke-width="0.6"/><line x1="295.8" y1="289.7" x2="295.8" y2="291.3" stroke="#999" stroke-width="0.6"/><line x1="301.2" y1="289.7" x2="301.2" y2="291.3" stroke="#999" stroke-width="0.6"/><line x1="306.6" y1="289.7" x2="306.6" y2="291.3" stroke="#999" stroke-width="0.6"/><line x1="312.0" y1="289.7" x2="312.0" y2="291.3" stroke="#999" stroke-width="0.6"/><line x1="317.4" y1="289.7" x2="317.4" y2="291.3" stroke="#999" stroke-width="0.6"/><line x1="322.8" y1="289.7" x2="322.8" y2="291.3" stroke="#999" stroke-width="0.6"/><line x1="328.2" y1="289.7" x2="328.2" y2="291.3" stroke="#999" stroke-width="0.6"/><line x1="333.6" y1="289.7" x2="333.6" y2="291.3" stroke="#999" stroke-width="0.6"/><line x1="339.0" y1="289.7" x2="339.0" y2="291.3" stroke="#999" stroke-width="0.6"/><line x1="344.4" y1="289.7" x2="344.4" y2="291.3" stroke="#999" stroke-width="0.6"/><line x1="349.8" y1="289.7" x2="349.8" y2="291.3" stroke="#999" stroke-width="0.6"/><rect x="273.70000000000005" y="264.8" width="1.9" height="3.2" fill="#111"/><rect x="293" y="289.7" width="8.5" height="1.9" fill="#222"/><line x1="352.59999999999997" y1="218.6" x2="354.2" y2="218.6" stroke="#999" stroke-width="0.6"/><line x1="352.59999999999997" y1="224.0" x2="354.2" y2="224.0" stroke="#999" stroke-width="0.6"/><line x1="352.59999999999997" y1="229.4" x2="354.2" y2="229.4" stroke="#999" stroke-width="0.6"/><line x1="352.59999999999997" y1="234.8" x2="354.2" y2="234.8" stroke="#999" stroke-width="0.6"/><line x1="352.59999999999997" y1="240.2" x2="354.2" y2="240.2" stroke="#999" stroke-width="0.6"/><line x1="352.59999999999997" y1="245.6" x2="354.2" y2="245.6" stroke="#999" stroke-width="0.6"/><line x1="352.59999999999997" y1="251.0" x2="354.2" y2="251.0" stroke="#999" stroke-width="0.6"/><line x1="352.59999999999997" y1="256.4" x2="354.2" y2="256.4" stroke="#999" stroke-width="0.6"/><line x1="352.59999999999997" y1="261.8" x2="354.2" y2="261.8" stroke="#999" stroke-width="0.6"/><line x1="352.59999999999997" y1="267.2" x2="354.2" y2="267.2" stroke="#999" stroke-width="0.6"/><line x1="352.59999999999997" y1="272.6" x2="354.2" y2="272.6" stroke="#999" stroke-width="0.6"/><line x1="352.59999999999997" y1="278.0" x2="354.2" y2="278.0" stroke="#999" stroke-width="0.6"/><line x1="352.59999999999997" y1="283.4" x2="354.2" y2="283.4" stroke="#999" stroke-width="0.6"/><line x1="358.2" y1="289.7" x2="358.2" y2="291.3" stroke="#999" stroke-width="0.6"/><line x1="363.6" y1="289.7" x2="363.6" y2="291.3" stroke="#999" stroke-width="0.6"/><line x1="369.0" y1="289.7" x2="369.0" y2="291.3" stroke="#999" stroke-width="0.6"/><line x1="374.4" y1="289.7" x2="374.4" y2="291.3" stroke="#999" stroke-width="0.6"/><line x1="379.8" y1="289.7" x2="379.8" y2="291.3" stroke="#999" stroke-width="0.6"/><line x1="385.2" y1="289.7" x2="385.2" y2="291.3" stroke="#999" stroke-width="0.6"/><line x1="390.6" y1="289.7" x2="390.6" y2="291.3" stroke="#999" stroke-width="0.6"/><line x1="396.0" y1="289.7" x2="396.0" y2="291.3" stroke="#999" stroke-width="0.6"/><line x1="401.4" y1="289.7" x2="401.4" y2="291.3" stroke="#999" stroke-width="0.6"/><line x1="406.8" y1="289.7" x2="406.8" y2="291.3" stroke="#999" stroke-width="0.6"/><line x1="412.2" y1="289.7" x2="412.2" y2="291.3" stroke="#999" stroke-width="0.6"/><line x1="417.6" y1="289.7" x2="417.6" y2="291.3" stroke="#999" stroke-width="0.6"/><line x1="423.0" y1="289.7" x2="423.0" y2="291.3" stroke="#999" stroke-width="0.6"/><line x1="428.4" y1="289.7" x2="428.4" y2="291.3" stroke="#999" stroke-width="0.6"/><rect x="352.3" y="264.8" width="1.9" height="3.2" fill="#111"/><rect x="371.6" y="289.7" width="8.5" height="1.9" fill="#222"/><line x1="189.89999999999998" y1="60.8" x2="191.7" y2="60.8" stroke="#888" stroke-width="0.7"/><line x1="189.89999999999998" y1="78.6" x2="191.7" y2="78.6" stroke="#888" stroke-width="0.7"/><line x1="189.89999999999998" y1="96.4" x2="191.7" y2="96.4" stroke="#888" stroke-width="0.7"/><line x1="189.89999999999998" y1="114.2" x2="191.7" y2="114.2" stroke="#888" stroke-width="0.7"/><line x1="190.79999999999998" y1="51.9" x2="191.7" y2="51.9" stroke="#aaa" stroke-width="0.5"/><line x1="190.79999999999998" y1="60.8" x2="191.7" y2="60.8" stroke="#aaa" stroke-width="0.5"/><line x1="190.79999999999998" y1="69.7" x2="191.7" y2="69.7" stroke="#aaa" stroke-width="0.5"/><line x1="190.79999999999998" y1="78.6" x2="191.7" y2="78.6" stroke="#aaa" stroke-width="0.5"/><line x1="190.79999999999998" y1="87.5" x2="191.7" y2="87.5" stroke="#aaa" stroke-width="0.5"/><line x1="190.79999999999998" y1="96.4" x2="191.7" y2="96.4" stroke="#aaa" stroke-width="0.5"/><line x1="190.79999999999998" y1="105.3" x2="191.7" y2="105.3" stroke="#aaa" stroke-width="0.5"/><line x1="190.79999999999998" y1="114.2" x2="191.7" y2="114.2" stroke="#aaa" stroke-width="0.5"/><line x1="199.0" y1="122.3" x2="199.0" y2="124.1" stroke="#888" stroke-width="0.7"/><line x1="215.3" y1="122.3" x2="215.3" y2="124.1" stroke="#888" stroke-width="0.7"/><line x1="231.6" y1="122.3" x2="231.6" y2="124.1" stroke="#888" stroke-width="0.7"/><line x1="247.9" y1="122.3" x2="247.9" y2="124.1" stroke="#888" stroke-width="0.7"/><line x1="264.2" y1="122.3" x2="264.2" y2="124.1" stroke="#888" stroke-width="0.7"/><line x1="207.1" y1="122.3" x2="207.1" y2="123.2" stroke="#aaa" stroke-width="0.5"/><line x1="215.3" y1="122.3" x2="215.3" y2="123.2" stroke="#aaa" stroke-width="0.5"/><line x1="223.4" y1="122.3" x2="223.4" y2="123.2" stroke="#aaa" stroke-width="0.5"/><line x1="231.6" y1="122.3" x2="231.6" y2="123.2" stroke="#aaa" stroke-width="0.5"/><line x1="239.8" y1="122.3" x2="239.8" y2="123.2" stroke="#aaa" stroke-width="0.5"/><line x1="247.9" y1="122.3" x2="247.9" y2="123.2" stroke="#aaa" stroke-width="0.5"/><line x1="256.1" y1="122.3" x2="256.1" y2="123.2" stroke="#aaa" stroke-width="0.5"/><line x1="264.2" y1="122.3" x2="264.2" y2="123.2" stroke="#aaa" stroke-width="0.5"/><line x1="268.7" y1="60.8" x2="270.5" y2="60.8" stroke="#888" stroke-width="0.7"/><line x1="268.7" y1="78.6" x2="270.5" y2="78.6" stroke="#888" stroke-width="0.7"/><line x1="268.7" y1="96.4" x2="270.5" y2="96.4" stroke="#888" stroke-width="0.7"/><line x1="268.7" y1="114.2" x2="270.5" y2="114.2" stroke="#888" stroke-width="0.7"/><line x1="269.6" y1="51.9" x2="270.5" y2="51.9" stroke="#aaa" stroke-width="0.5"/><line x1="269.6" y1="60.8" x2="270.5" y2="60.8" stroke="#aaa" stroke-width="0.5"/><line x1="269.6" y1="69.7" x2="270.5" y2="69.7" stroke="#aaa" stroke-width="0.5"/><line x1="269.6" y1="78.6" x2="270.5" y2="78.6" stroke="#aaa" stroke-width="0.5"/><line x1="269.6" y1="87.5" x2="270.5" y2="87.5" stroke="#aaa" stroke-width="0.5"/><line x1="269.6" y1="96.4" x2="270.5" y2="96.4" stroke="#aaa" stroke-width="0.5"/><line x1="269.6" y1="105.3" x2="270.5" y2="105.3" stroke="#aaa" stroke-width="0.5"/><line x1="269.6" y1="114.2" x2="270.5" y2="114.2" stroke="#aaa" stroke-width="0.5"/><line x1="277.8" y1="122.3" x2="277.8" y2="124.1" stroke="#888" stroke-width="0.7"/><line x1="294.1" y1="122.3" x2="294.1" y2="124.1" stroke="#888" stroke-width="0.7"/><line x1="310.4" y1="122.3" x2="310.4" y2="124.1" stroke="#888" stroke-width="0.7"/><line x1="326.7" y1="122.3" x2="326.7" y2="124.1" stroke="#888" stroke-width="0.7"/><line x1="343.0" y1="122.3" x2="343.0" y2="124.1" stroke="#888" stroke-width="0.7"/><line x1="285.9" y1="122.3" x2="285.9" y2="123.2" stroke="#aaa" stroke-width="0.5"/><line x1="294.1" y1="122.3" x2="294.1" y2="123.2" stroke="#aaa" stroke-width="0.5"/><line x1="302.2" y1="122.3" x2="302.2" y2="123.2" stroke="#aaa" stroke-width="0.5"/><line x1="310.4" y1="122.3" x2="310.4" y2="123.2" stroke="#aaa" stroke-width="0.5"/><line x1="318.5" y1="122.3" x2="318.5" y2="123.2" stroke="#aaa" stroke-width="0.5"/><line x1="326.7" y1="122.3" x2="326.7" y2="123.2" stroke="#aaa" stroke-width="0.5"/><line x1="334.8" y1="122.3" x2="334.8" y2="123.2" stroke="#aaa" stroke-width="0.5"/><line x1="343.0" y1="122.3" x2="343.0" y2="123.2" stroke="#aaa" stroke-width="0.5"/><line x1="346.7" y1="60.8" x2="348.5" y2="60.8" stroke="#888" stroke-width="0.7"/><line x1="346.7" y1="78.6" x2="348.5" y2="78.6" stroke="#888" stroke-width="0.7"/><line x1="346.7" y1="96.4" x2="348.5" y2="96.4" stroke="#888" stroke-width="0.7"/><line x1="346.7" y1="114.2" x2="348.5" y2="114.2" stroke="#888" stroke-width="0.7"/><line x1="347.6" y1="51.9" x2="348.5" y2="51.9" stroke="#aaa" stroke-width="0.5"/><line x1="347.6" y1="60.8" x2="348.5" y2="60.8" stroke="#aaa" stroke-width="0.5"/><line x1="347.6" y1="69.7" x2="348.5" y2="69.7" stroke="#aaa" stroke-width="0.5"/><line x1="347.6" y1="78.6" x2="348.5" y2="78.6" stroke="#aaa" stroke-width="0.5"/><line x1="347.6" y1="87.5" x2="348.5" y2="87.5" stroke="#aaa" stroke-width="0.5"/><line x1="347.6" y1="96.4" x2="348.5" y2="96.4" stroke="#aaa" stroke-width="0.5"/><line x1="347.6" y1="105.3" x2="348.5" y2="105.3" stroke="#aaa" stroke-width="0.5"/><line x1="347.6" y1="114.2" x2="348.5" y2="114.2" stroke="#aaa" stroke-width="0.5"/><line x1="355.8" y1="122.3" x2="355.8" y2="124.1" stroke="#888" stroke-width="0.7"/><line x1="372.1" y1="122.3" x2="372.1" y2="124.1" stroke="#888" stroke-width="0.7"/><line x1="388.4" y1="122.3" x2="388.4" y2="124.1" stroke="#888" stroke-width="0.7"/><line x1="404.7" y1="122.3" x2="404.7" y2="124.1" stroke="#888" stroke-width="0.7"/><line x1="421.0" y1="122.3" x2="421.0" y2="124.1" stroke="#888" stroke-width="0.7"/><line x1="363.9" y1="122.3" x2="363.9" y2="123.2" stroke="#aaa" stroke-width="0.5"/><line x1="372.1" y1="122.3" x2="372.1" y2="123.2" stroke="#aaa" stroke-width="0.5"/><line x1="380.2" y1="122.3" x2="380.2" y2="123.2" stroke="#aaa" stroke-width="0.5"/><line x1="388.4" y1="122.3" x2="388.4" y2="123.2" stroke="#aaa" stroke-width="0.5"/><line x1="396.5" y1="122.3" x2="396.5" y2="123.2" stroke="#aaa" stroke-width="0.5"/><line x1="404.7" y1="122.3" x2="404.7" y2="123.2" stroke="#aaa" stroke-width="0.5"/><line x1="412.8" y1="122.3" x2="412.8" y2="123.2" stroke="#aaa" stroke-width="0.5"/><line x1="421.0" y1="122.3" x2="421.0" y2="123.2" stroke="#aaa" stroke-width="0.5"/><line x1="312.7" y1="214.6" x2="312.7" y2="289.7" stroke="#4a4a4a" stroke-width="1.0" stroke-opacity="0.72"/><line x1="275.6" y1="257.2" x2="351.3" y2="257.2" stroke="#4a4a4a" stroke-width="1.0" stroke-opacity="0.72"/><line x1="390.9" y1="214.6" x2="390.9" y2="289.7" stroke="#4a4a4a" stroke-width="1.0" stroke-opacity="0.72"/><line x1="354.2" y1="257.2" x2="429.6" y2="257.2" stroke="#4a4a4a" stroke-width="1.0" stroke-opacity="0.72"/><rect x="64.2" y="253.0" width="25.2" height="30.4" fill="none" stroke="#555" stroke-width="0.8"/><rect x="135.9" y="253.4" width="26.1" height="29.9" fill="none" stroke="#555" stroke-width="0.8"/><text x="88.9" y="287.6" font-size="8.4" fill="#4f4f9c" textLength="8.0" lengthAdjust="spacingAndGlyphs" stroke="#4f4f9c" stroke-width="0.18">36</text><text x="163.2" y="287.6" font-size="8.4" fill="#4f4f9c" textLength="8.0" lengthAdjust="spacingAndGlyphs" stroke="#4f4f9c" stroke-width="0.18">15</text><text x="279.6" y="224.4" font-size="8.4" fill="#4f4f9c" textLength="4.2999999999999545" lengthAdjust="spacingAndGlyphs" stroke="#4f4f9c" stroke-width="0.18">3</text><text x="339.6" y="224.4" font-size="8.4" fill="#4f4f9c" textLength="8.199999999999989" lengthAdjust="spacingAndGlyphs" stroke="#4f4f9c" stroke-width="0.18">27</text><text x="277.1" y="287.8" font-size="8.4" fill="#4f4f9c" textLength="8.299999999999955" lengthAdjust="spacingAndGlyphs" stroke="#4f4f9c" stroke-width="0.18">34</text><text x="339.7" y="287.7" font-size="8.4" fill="#4f4f9c" textLength="8.199999999999989" lengthAdjust="spacingAndGlyphs" stroke="#4f4f9c" stroke-width="0.18">36</text><text x="358.3" y="224.4" font-size="8.4" fill="#4f4f9c" textLength="4.199999999999989" lengthAdjust="spacingAndGlyphs" stroke="#4f4f9c" stroke-width="0.18">2</text><text x="419.1" y="224.4" font-size="8.4" fill="#4f4f9c" textLength="7.0" lengthAdjust="spacingAndGlyphs" stroke="#4f4f9c" stroke-width="0.18">11</text><text x="356" y="287.7" font-size="8.4" fill="#4f4f9c" textLength="8.199999999999989" lengthAdjust="spacingAndGlyphs" stroke="#4f4f9c" stroke-width="0.18">50</text><text x="418.1" y="288" font-size="8.4" fill="#4f4f9c" textLength="8.199999999999989" lengthAdjust="spacingAndGlyphs" stroke="#4f4f9c" stroke-width="0.18">37</text><path fill="none" stroke="#727272" stroke-width="0.5" d="M226.6 113.6 225.6 113.7 224.8 113.4 224.2 112.6 224.1 111.6 224.8 110.4 227.1 108.7 227.9 107.1 227.8 106.6 222.1 105.9 219.1 104.9 216.8 103.1 214.3 101.7 209.8 98.1 204.1 95.4 199.4 91.1 198.2 89.1 197.5 86.6 197.4 83.6 197.7 80.6 198.7 76.4 199.8 73.4 200.6 72.2 203.6 69.8 209.6 67.2 214.8 65.4 219.6 64.1 223.1 64.2 224.8 64.6 226.3 65.3 229.6 67.4 230.1 67.4 230.4 67.1 230.5 66.4 230.1 60.6 230.2 56.4 230.5 54.9 231.3 53.7 232.6 52.7 234.1 52.3 235.6 52.3 236.8 52.8 238.0 53.9 238.7 55.1 238.9 56.6 238.6 57.9 237.8 58.9 236.8 59.8 234.8 60.8 234.9 62.9 235.3 63.3 238.1 63.7 239.6 64.6 240.9 66.1 241.8 68.4 241.8 69.9 241.5 71.4 240.4 73.6 238.8 74.8 235.1 76.4 236.7 80.9 239.6 85.6 239.9 87.6 241.0 90.4 240.8 94.9 240.6 95.4 239.3 96.5 237.7 99.4 235.1 102.2 233.3 103.7 230.2 105.1 229.0 106.1 229.0 106.4 229.4 106.6 232.1 107.3 232.8 107.0 234.8 105.5 235.6 105.3 236.6 105.4 237.7 106.1 238.3 107.1 238.4 108.4 237.8 109.5 237.1 110.2 236.3 110.5 233.6 110.2 232.1 111.8 231.3 112.3 226.6 113.6ZM256.1 97.2 254.6 97.3 253.3 97.1 252.3 96.5 250.6 94.7 248.6 94.4 247.4 93.6 247.1 92.4 247.3 88.5 245.1 85.9 244.4 84.4 244.6 82.6 245.8 81.1 246.8 80.8 249.1 81.0 250.1 81.3 250.8 81.9 251.4 82.6 251.7 83.6 251.4 85.6 250.7 87.6 251.0 88.6 252.7 90.4 256.6 91.0 257.6 91.5 258.3 92.4 258.8 93.9 258.5 95.4 257.6 96.5 256.1 97.2ZM244.1 99.6 242.9 99.4 241.9 98.6 241.4 97.6 241.4 96.1 242.1 95.5 244.8 94.9 245.6 95.3 246.1 95.9 246.4 97.4 245.6 99.0 244.8 99.5 244.1 99.6ZM226.1 105.4 222.6 105.5 219.8 104.6 214.8 101.2 210.6 97.6 205.1 95.1 203.1 93.4 200.6 91.7 199.0 89.9 198.0 87.1 197.7 84.1 198.1 81.1 199.1 78.1 200.4 75.6 200.7 73.9 201.2 72.9 203.8 70.8 206.8 69.6 209.1 68.4 212.8 67.4 218.6 65.3 222.3 65.1 225.3 65.9 229.1 69.1 229.6 69.3 230.1 69.1 230.6 68.4 231.0 66.9 230.4 60.9 230.7 55.1 231.3 54.0 232.6 53.0 234.1 52.6 235.6 52.6 236.8 53.1 237.9 54.1 238.5 55.4 238.6 56.9 238.2 58.1 237.3 59.1 234.5 60.6 234.6 63.1 235.1 63.6 238.1 64.0 239.8 65.1 241.2 67.4 241.5 68.6 241.5 69.9 240.7 72.6 239.3 74.2 236.1 75.4 233.1 75.0 232.8 75.1 232.6 75.9 233.0 76.9 234.5 78.4 235.8 81.4 237.1 83.4 238.1 85.6 238.5 87.9 239.8 90.1 239.9 91.9 239.5 93.4 237.8 96.9 236.3 99.4 234.8 101.1 232.1 103.2 227.6 105.0 226.1 105.4ZM249.1 85.9 247.3 86.0 246.3 85.4 245.9 84.6 245.8 83.6 246.1 82.9 246.6 82.4 247.3 82.1 248.1 82.2 249.1 82.5 249.8 83.1 250.2 83.9 250.2 84.9 249.8 85.5 249.1 85.9ZM256.1 96.9 254.6 97.1 253.3 96.8 252.1 95.9 250.6 94.0 249.1 93.8 248.3 93.4 247.9 92.6 247.9 91.9 248.1 90.6 248.6 89.9 249.3 89.5 250.1 89.5 252.1 90.9 255.6 90.9 256.6 91.2 257.6 91.9 258.5 93.4 258.4 94.9 257.6 96.2 256.1 96.9ZM243.8 98.6 243.1 98.2 243.0 97.4 243.6 96.6 244.6 96.3 245.0 96.9 245.0 97.6 244.5 98.4 243.8 98.6ZM236.3 109.6 235.0 109.4 234.0 108.4 234.0 107.6 234.3 107.1 235.6 106.4 236.8 106.5 237.6 107.5 237.3 108.9 236.3 109.6ZM226.6 112.9 225.8 113.0 225.1 112.6 224.9 112.1 225.0 111.4 225.6 110.7 227.3 109.8 228.6 108.4 229.3 108.1 230.1 108.1 231.1 108.5 231.8 109.1 232.1 109.6 232.0 110.4 231.2 111.4 226.6 112.9ZM224.8 105.2 222.1 105.1 219.6 104.0 215.4 101.1 211.0 97.4 205.3 94.5 203.6 93.1 200.6 91.4 199.2 89.6 198.2 86.9 198.0 84.1 198.4 81.1 199.9 77.9 202.1 75.6 201.8 73.9 203.2 72.4 208.8 69.4 212.6 68.6 217.8 66.3 219.3 66.0 222.8 66.0 224.8 66.9 227.8 69.9 229.1 70.4 230.1 70.4 230.6 69.6 231.2 67.1 230.6 60.9 230.6 57.6 230.9 55.1 231.6 54.1 232.8 53.1 234.1 52.8 235.6 52.8 236.8 53.3 237.8 54.4 238.3 55.4 238.4 56.9 238.1 57.9 237.3 58.9 234.3 60.4 234.1 61.1 234.3 63.1 234.6 63.6 235.0 63.9 238.1 64.2 239.7 65.4 240.5 66.4 241.2 67.9 241.4 69.1 241.2 70.4 240.7 72.1 240.0 73.4 238.8 74.2 236.8 75.0 235.3 75.1 231.6 73.6 231.3 73.6 231.3 73.9 232.1 77.1 233.8 79.2 235.2 82.1 236.3 83.7 237.6 87.9 238.9 90.1 239.0 91.6 238.1 93.4 237.5 95.9 236.0 97.6 235.3 99.4 234.5 100.4 231.6 102.5 229.3 103.2 226.8 104.7 224.8 105.2ZM255.1 96.9 253.8 96.8 252.8 96.3 251.9 95.4 250.8 93.5 249.3 93.2 248.8 92.9 248.5 91.9 249.1 90.6 250.1 90.4 251.8 91.5 253.8 91.0 255.6 91.1 256.8 91.6 257.6 92.1 258.3 93.6 258.0 95.4 256.8 96.4 255.1 96.9ZM236.1 108.7 235.6 108.5 235.2 108.1 235.4 107.6 235.8 107.4 236.3 107.4 236.7 107.9 236.6 108.4 236.1 108.7ZM230.1 110.9 229.1 111.0 228.5 110.6 228.7 109.9 229.3 109.2 230.1 109.2 230.8 109.9 230.8 110.4 230.1 110.9ZM226.8 111.9 226.1 112.1 225.9 111.6 226.3 111.3 226.8 111.2 227.1 111.4 226.8 111.9ZM236.1 74.9 234.8 74.7 232.6 73.6 231.2 72.1 230.7 70.9 231.4 67.1 230.8 61.1 230.7 57.9 231.0 55.6 231.4 54.6 232.3 53.6 233.3 53.1 234.6 52.9 236.1 53.1 237.2 53.9 238.0 55.1 238.2 56.6 237.9 57.9 237.1 58.8 234.1 60.4 233.9 61.1 234.1 63.4 234.8 64.0 237.6 64.3 239.1 65.0 240.4 66.6 241.2 68.9 240.7 71.6 240.0 73.1 238.8 74.0 236.1 74.9ZM224.8 104.9 222.3 104.9 220.1 104.0 215.8 101.1 211.2 97.1 207.6 95.3 203.7 92.9 201.3 91.7 200.1 90.6 199.4 89.6 198.3 86.4 198.2 83.6 199.0 80.1 200.6 77.6 203.1 75.9 203.7 73.9 204.3 72.9 209.1 70.0 210.1 69.8 212.8 69.7 214.8 68.4 218.8 66.7 221.3 66.8 222.3 67.1 222.7 68.1 222.1 69.9 222.8 70.8 226.6 70.9 228.1 71.4 228.9 71.9 229.4 73.4 230.8 75.1 231.6 77.9 233.8 81.0 235.4 84.1 236.7 88.1 238.0 90.1 237.8 91.4 236.8 92.4 237.0 94.4 236.7 95.4 236.1 95.8 234.6 95.7 233.8 96.4 233.7 97.4 234.4 98.6 234.0 99.6 231.6 101.6 229.3 102.1 227.3 104.1 224.8 104.9ZM216.5 79.9 216.3 79.4 215.9 79.1 215.4 79.1 215.2 79.4 215.8 80.0 216.5 79.9ZM255.6 96.7 253.8 96.6 252.5 95.9 251.4 94.1 251.2 92.9 251.3 92.4 252.8 91.5 254.1 91.2 256.1 91.4 257.3 92.1 258.1 93.4 258.0 94.9 257.1 96.0 255.6 96.7ZM250.1 92.4 249.6 92.4 249.6 91.6 250.1 91.6 250.4 91.9 250.5 92.1 250.1 92.4ZM236.3 74.7 234.8 74.4 232.6 73.2 231.5 71.9 231.1 70.6 231.6 67.1 230.9 58.4 231.1 55.6 231.6 54.6 232.3 53.8 233.3 53.3 234.6 53.0 236.1 53.2 237.0 53.9 237.9 55.1 238.1 56.6 237.7 57.9 236.8 58.8 235.8 59.4 234.3 59.9 233.8 60.4 233.6 61.1 233.9 63.4 234.2 63.9 234.8 64.2 237.3 64.4 238.9 65.1 240.4 66.9 241.0 68.9 240.7 71.1 240.0 72.9 238.8 73.8 236.3 74.7ZM224.8 104.7 222.3 104.7 220.3 103.9 216.1 101.0 211.2 96.9 207.8 95.2 203.8 92.6 201.3 91.5 199.6 89.6 198.4 86.4 198.4 84.1 198.8 81.4 199.8 79.1 201.3 77.3 204.8 75.6 205.8 76.0 209.8 78.9 211.6 80.7 212.3 80.9 213.3 80.2 214.3 80.6 214.8 81.4 214.2 82.1 214.1 82.6 214.9 83.4 216.3 83.9 217.6 83.9 216.6 82.1 216.6 81.9 217.7 81.1 217.9 80.4 217.5 79.4 216.8 78.5 215.3 78.0 213.1 78.8 212.3 78.7 209.8 77.2 207.6 75.1 206.8 74.7 205.6 74.6 205.3 74.1 205.7 73.4 207.3 72.5 209.3 70.7 210.6 70.5 214.1 70.8 214.6 70.4 215.6 69.0 218.8 67.6 219.6 67.7 219.9 68.1 219.6 68.5 217.9 69.1 217.6 69.9 218.1 70.2 219.8 70.5 220.5 70.9 220.8 71.4 220.6 72.6 220.8 73.1 221.6 73.3 223.1 72.5 225.1 72.7 226.6 72.1 227.3 72.3 227.7 72.6 228.1 74.4 229.6 75.2 230.1 75.8 230.7 79.1 231.3 80.8 231.8 81.4 232.8 81.8 233.3 82.3 234.5 84.4 235.3 87.1 235.3 88.1 234.5 90.6 233.8 91.2 232.0 91.9 231.1 92.9 231.1 93.6 231.9 94.9 232.0 95.6 230.9 98.1 230.8 100.1 229.3 101.2 227.5 103.6 226.3 104.3 224.8 104.7ZM226.3 75.1 226.1 74.7 225.8 74.6 225.8 75.2 226.3 75.1ZM226.7 82.9 227.6 82.4 227.9 81.9 227.5 80.9 226.8 80.4 225.6 80.9 224.8 81.9 225.8 83.0 226.7 82.9ZM221.8 85.1 222.1 84.9 223.0 81.6 222.1 81.2 220.8 81.2 220.3 81.4 219.9 81.9 220.1 84.1 219.6 84.9 220.6 85.3 221.8 85.1ZM226.3 87.6 227.7 86.6 227.8 86.4 227.6 86.1 225.1 84.7 223.6 85.0 222.7 85.4 222.7 86.1 223.2 86.9 225.3 87.6 226.3 87.6ZM255.8 96.5 253.8 96.5 252.3 95.5 251.7 94.4 251.5 93.4 251.6 92.6 252.1 92.1 253.3 91.5 254.6 91.3 256.2 91.6 257.3 92.4 258.0 93.6 257.8 94.8 257.1 95.8 255.8 96.5ZM236.6 74.4 235.3 74.4 233.1 73.3 231.9 72.1 231.4 70.6 231.7 67.1 231.6 63.1 231.0 58.1 231.3 55.9 231.6 54.9 232.3 54.0 233.3 53.5 234.6 53.2 235.8 53.3 236.8 53.9 237.7 55.1 237.9 56.6 237.7 57.6 236.8 58.7 235.8 59.3 234.1 59.9 233.5 60.4 233.3 61.1 233.5 63.1 233.9 63.9 234.6 64.3 237.3 64.5 238.8 65.3 240.2 66.9 240.9 68.9 240.6 70.9 239.8 72.8 238.8 73.6 236.6 74.4ZM222.1 80.4 219.3 80.4 218.7 79.9 217.6 78.2 216.3 77.5 215.3 77.3 213.3 77.7 212.6 77.5 211.1 76.0 208.3 74.4 208.0 73.9 208.0 73.1 209.3 71.6 210.6 71.2 212.3 71.3 214.6 72.1 216.3 72.0 218.3 72.2 220.4 74.1 221.6 74.4 223.6 74.0 224.3 74.5 225.2 75.9 225.8 76.4 226.6 76.6 228.1 76.4 228.5 76.6 227.3 78.9 226.8 79.3 224.8 80.3 222.1 80.4ZM223.6 104.6 221.8 104.4 220.1 103.6 216.3 101.0 211.5 96.9 207.8 95.0 204.1 92.6 201.8 91.6 200.3 90.4 199.6 89.4 198.7 87.1 198.5 84.4 199.2 80.6 200.2 78.9 201.1 77.8 203.8 76.4 204.6 76.3 205.6 76.6 209.6 79.4 211.1 80.9 212.8 82.1 214.5 83.6 219.4 85.9 221.3 86.3 223.2 87.4 226.8 88.6 228.0 88.6 228.6 88.2 229.1 87.1 229.4 85.1 229.8 84.5 232.6 83.6 233.6 84.2 234.1 85.4 234.3 88.9 233.6 90.4 231.6 91.3 230.4 92.4 230.3 93.1 230.9 95.9 230.0 99.6 227.3 103.5 225.8 104.2 223.6 104.6ZM255.3 96.4 253.6 96.3 252.8 95.8 252.1 94.9 251.7 93.1 252.1 92.4 252.8 91.8 254.1 91.5 255.6 91.6 256.8 92.1 257.6 93.0 257.8 94.1 257.5 95.1 256.6 96.0 255.3 96.4ZM232.3 61.6 232.1 61.6 231.9 61.1 231.2 58.1 231.7 55.1 232.3 54.4 233.6 53.6 235.1 53.4 236.1 53.6 237.0 54.4 237.6 55.4 237.7 56.4 237.5 57.4 236.2 58.9 233.2 60.1 232.7 60.6 232.3 61.6ZM236.6 74.1 235.3 74.1 233.6 73.2 232.5 72.4 231.9 71.4 231.6 69.9 231.9 67.6 231.9 65.1 232.1 64.1 232.6 63.5 234.6 64.6 236.8 64.7 238.1 65.0 239.6 66.3 240.5 67.9 240.6 69.9 239.9 72.4 238.8 73.4 236.6 74.1ZM225.1 79.2 220.8 79.2 220.1 78.9 219.4 77.6 216.6 76.3 213.3 76.5 212.7 75.9 212.2 73.9 211.6 72.9 211.8 72.6 212.3 72.6 216.8 74.0 218.6 74.3 220.1 75.6 220.3 77.0 220.6 77.2 221.1 77.1 222.2 75.6 222.8 75.3 223.6 75.4 225.9 77.9 225.8 78.6 225.1 79.2ZM223.8 104.4 222.1 104.3 220.3 103.4 216.6 100.9 211.9 96.9 208.3 95.0 204.2 92.4 201.8 91.4 200.4 90.1 198.9 86.9 198.7 84.4 199.5 80.6 201.3 78.0 203.8 76.8 204.6 76.7 205.6 77.0 209.3 79.7 213.8 83.6 219.1 86.2 221.3 86.8 228.3 90.0 229.1 89.9 229.6 89.3 230.1 86.9 230.6 85.9 232.1 85.2 232.9 85.4 233.5 88.4 233.3 89.3 232.8 89.9 230.8 90.8 229.8 91.9 229.8 92.9 230.4 95.9 229.6 99.4 227.7 102.6 227.1 103.3 225.6 104.1 223.8 104.4ZM255.6 96.1 253.8 96.1 252.5 95.1 252.1 94.4 251.9 93.4 252.2 92.6 252.8 92.1 253.8 91.7 255.1 91.7 256.3 92.1 257.2 92.9 257.6 93.9 257.3 94.9 256.6 95.6 255.6 96.1ZM233.3 59.7 232.3 59.8 231.5 58.6 231.4 57.4 232.1 55.1 232.7 54.4 233.6 53.9 234.8 53.6 235.8 53.7 236.6 54.2 237.3 55.3 237.5 56.4 237.3 57.3 236.8 58.1 235.8 58.9 233.3 59.7ZM236.6 73.9 235.3 73.8 233.6 72.9 232.7 72.1 232.1 71.1 231.9 69.9 232.1 65.9 232.3 64.9 232.8 64.4 233.3 64.3 234.8 64.8 236.8 64.9 237.7 65.1 239.3 66.4 240.2 67.9 240.5 69.6 239.8 72.1 238.8 73.1 236.6 73.9ZM214.3 75.2 213.8 74.9 214.1 74.5 214.6 74.6 214.7 74.9 214.3 75.2ZM224.3 104.1 222.3 104.1 220.8 103.5 217.0 100.9 215.3 99.3 211.9 96.6 208.3 94.8 204.3 92.2 201.8 91.2 200.6 90.1 199.1 86.9 198.9 84.6 199.7 80.6 201.5 78.1 203.8 77.1 204.6 77.1 205.6 77.4 209.3 80.0 213.7 83.9 219.1 86.6 221.1 87.1 225.1 88.8 228.9 91.1 230.0 95.4 229.5 98.9 227.1 103.0 226.1 103.6 224.3 104.1ZM232.3 89.2 231.3 89.3 230.9 88.9 230.9 87.6 231.6 86.8 232.1 87.0 232.6 87.9 232.7 88.6 232.3 89.2ZM255.6 95.9 254.1 96.0 252.7 95.1 252.1 93.6 252.3 92.9 252.8 92.4 253.8 91.9 254.8 91.9 256.1 92.2 256.9 92.9 257.2 93.6 257.1 94.6 256.4 95.4 255.6 95.9ZM233.3 59.4 232.6 59.4 232.1 59.2 231.6 58.1 231.7 57.1 232.6 55.2 233.8 54.1 234.8 53.8 235.8 53.9 236.6 54.5 237.1 55.4 237.3 56.4 237.1 57.3 235.8 58.6 233.3 59.4ZM236.3 73.7 235.3 73.5 233.4 72.4 232.3 71.0 232.1 69.6 232.3 65.9 232.6 65.2 233.1 64.8 237.6 65.4 239.3 66.8 240.1 68.1 240.3 69.9 239.6 72.1 238.6 73.0 236.3 73.7ZM224.6 103.9 222.6 104.0 221.1 103.4 217.3 100.9 215.3 98.9 212.2 96.6 208.3 94.6 204.6 92.0 202.1 91.1 200.9 90.1 199.3 87.1 199.0 84.9 199.9 80.9 201.6 78.4 203.8 77.3 204.6 77.3 205.6 77.6 209.3 80.3 213.2 83.9 219.0 86.9 221.1 87.3 225.1 89.0 228.3 91.1 228.8 91.9 229.6 94.9 229.7 96.4 229.4 98.4 227.1 102.6 226.1 103.4 224.6 103.9ZM255.3 95.6 254.1 95.7 252.8 94.9 252.3 93.6 252.8 92.6 253.6 92.2 254.6 92.1 255.7 92.4 256.4 92.9 256.8 93.6 256.8 94.1 256.3 94.9 255.3 95.6ZM233.3 59.2 232.6 59.1 232.1 58.8 231.8 58.1 231.9 57.4 232.6 56.8 234.3 56.9 235.1 56.6 235.2 55.9 234.2 54.6 234.8 54.1 235.8 54.2 236.8 55.4 237.0 56.4 236.8 57.1 235.8 58.4 233.3 59.2ZM237.3 73.2 236.3 73.4 235.3 73.1 233.3 71.9 232.7 71.1 232.4 69.9 232.5 66.4 232.6 65.6 233.1 65.1 233.6 65.0 237.3 65.6 239.1 67.0 239.8 68.1 240.1 69.6 239.6 71.7 238.8 72.6 237.3 73.2ZM224.8 103.6 222.8 103.8 221.4 103.4 217.6 100.8 215.6 98.7 212.6 96.6 208.3 94.4 204.6 91.8 202.3 91.0 201.2 90.1 199.4 86.9 199.2 84.9 200.1 80.9 201.8 78.6 203.6 77.6 204.6 77.6 205.3 77.8 209.3 80.6 213.1 84.1 218.8 87.1 221.1 87.6 222.8 88.5 224.8 89.1 226.8 90.3 228.1 91.3 228.6 92.4 229.3 94.9 229.5 96.4 229.2 98.1 226.8 102.5 226.1 103.1 224.8 103.6ZM254.6 95.4 253.6 95.2 252.8 94.4 252.6 93.4 253.3 92.6 254.8 92.5 255.6 92.9 256.0 93.4 255.8 94.2 255.1 95.1 254.6 95.4ZM233.8 58.7 233.1 58.9 232.6 58.7 232.2 58.1 232.3 57.6 233.1 57.4 235.3 57.9 233.8 58.7ZM236.6 72.9 235.1 72.5 233.7 71.6 233.1 70.9 232.8 69.9 233.0 67.9 232.8 66.4 233.3 65.4 234.1 65.5 235.0 66.1 234.9 67.1 235.3 67.6 237.1 67.9 238.8 67.7 239.7 68.6 239.8 70.1 239.1 71.9 238.3 72.5 236.6 72.9ZM224.6 103.4 222.8 103.6 221.5 103.1 217.6 100.4 215.6 98.2 212.6 96.4 208.3 94.2 204.8 91.6 202.6 90.8 201.6 90.1 199.7 86.9 199.5 85.1 200.5 80.9 202.3 78.6 203.8 77.9 205.3 78.1 209.3 80.9 212.8 84.3 217.1 86.4 218.8 87.5 220.8 87.8 222.8 88.9 224.8 89.5 227.6 91.4 228.3 92.4 228.9 94.4 229.1 96.4 228.9 98.1 226.6 102.3 225.8 102.9 224.6 103.4ZM205.1 85.6 205.8 85.0 205.7 84.1 204.8 83.6 203.8 83.9 203.4 84.6 203.5 85.4 204.1 85.7 205.1 85.6ZM233.6 67.0 233.3 66.8 233.2 66.4 233.6 65.9 234.1 66.4 233.6 67.0ZM237.3 72.1 235.8 72.1 234.0 71.1 233.4 70.1 233.5 69.4 233.8 68.9 235.3 68.5 238.6 68.4 239.1 68.6 239.6 69.6 239.3 70.9 238.6 71.8 237.3 72.1ZM224.1 103.2 222.8 103.3 221.7 102.9 217.7 100.1 217.0 99.1 216.3 97.6 214.6 97.2 208.8 94.2 205.1 91.3 202.8 90.6 202.1 90.1 201.4 88.6 200.1 86.9 199.8 85.4 200.8 81.4 202.7 78.9 204.1 78.2 205.3 78.5 207.3 80.2 209.6 81.4 212.6 84.5 216.9 86.6 218.6 87.8 220.8 88.1 222.8 89.5 224.9 89.9 227.4 91.6 228.0 92.6 228.4 93.9 228.8 96.6 228.6 98.1 226.2 102.1 225.5 102.6 224.1 103.2ZM202.9 88.1 203.9 86.9 205.8 86.0 206.3 85.4 206.4 84.1 205.8 83.0 205.1 82.9 203.8 83.0 202.8 83.9 202.3 85.9 202.4 87.9 202.6 88.2 202.9 88.1ZM217.5 96.6 219.3 96.1 219.9 95.6 220.0 94.9 219.6 94.2 218.3 93.9 217.2 94.4 216.7 94.9 216.5 95.6 216.6 96.5 216.8 96.8 217.5 96.6ZM238.1 71.1 235.8 71.1 235.0 70.6 234.8 69.9 235.8 69.3 238.6 69.2 239.0 69.6 239.0 70.4 238.7 70.9 238.1 71.1ZM204.6 81.9 203.1 81.9 202.6 81.4 203.1 79.6 203.6 79.1 204.3 78.9 205.3 79.1 206.0 80.1 205.6 81.2 204.6 81.9ZM214.1 95.9 212.1 95.4 208.3 93.6 204.6 89.9 204.9 87.6 206.6 86.3 207.1 85.6 207.3 82.9 207.7 81.9 208.1 81.4 209.1 81.6 210.1 82.3 210.7 83.1 211.4 84.6 216.7 87.1 218.1 88.8 218.6 89.0 220.1 88.7 220.9 89.1 219.9 90.1 219.8 90.9 220.6 92.2 222.1 93.1 222.3 93.6 222.1 94.2 221.3 94.4 220.3 93.4 219.6 93.1 216.1 93.4 215.3 93.8 214.5 95.6 214.1 95.9ZM211.2 91.1 211.8 90.8 213.1 89.5 214.8 89.4 214.7 88.6 213.8 87.5 213.1 87.4 210.1 89.1 209.9 89.9 210.1 90.5 210.6 91.0 211.2 91.1ZM227.1 99.2 226.3 99.0 225.1 97.1 224.6 94.4 225.0 92.4 224.8 90.9 225.8 91.1 226.7 91.6 227.3 92.3 227.7 93.1 227.7 94.1 227.2 95.4 228.0 96.6 228.1 97.4 227.8 98.4 227.1 99.2ZM223.6 102.5 222.8 102.6 222.2 102.4 221.0 100.9 220.9 100.4 221.5 99.4 220.9 97.6 221.3 97.0 221.8 96.9 222.3 97.2 222.6 97.6 222.8 99.1 224.6 101.1 224.5 101.9 223.6 102.5ZM219.8 100.2 218.8 100.1 218.1 99.6 217.7 98.6 218.1 98.0 218.8 97.9 219.3 98.4 219.9 99.6 219.8 100.2Z"/><path fill="none" stroke="#727272" stroke-width="0.5" d="M312.4 113.4 310.9 113.5 307.6 113.0 304.6 111.9 301.7 109.6 296.7 103.6 292.0 100.1 290.9 99.8 289.6 100.6 288.9 100.8 287.6 100.4 287.0 99.4 287.1 98.6 287.5 97.4 287.1 96.8 286.6 96.9 285.9 97.9 285.1 98.3 284.1 98.4 283.4 97.9 283.0 97.1 283.0 96.4 284.2 94.4 281.6 91.5 279.0 87.1 278.7 84.9 277.9 82.9 277.8 80.4 278.1 79.6 279.1 78.2 279.6 75.9 281.4 73.9 282.9 71.4 285.9 68.0 288.1 66.6 290.4 64.8 296.1 62.2 300.9 59.5 304.1 58.0 306.6 57.6 309.1 56.2 313.4 55.4 315.6 54.5 317.9 54.0 325.4 54.7 329.1 56.0 331.2 57.4 333.6 59.7 335.8 62.6 337.7 66.1 338.6 69.6 338.8 73.6 340.0 76.1 340.4 77.4 341.3 85.9 341.0 89.6 339.8 93.1 338.4 95.0 337.1 96.0 332.9 97.3 328.4 97.4 325.8 98.1 323.9 98.8 321.2 100.9 320.6 101.9 319.6 106.5 318.0 108.1 317.0 110.4 314.5 112.6 312.4 113.4ZM326.5 70.4 327.3 70.1 327.9 69.6 328.4 68.6 328.6 67.1 328.4 65.4 327.4 62.6 325.8 60.9 323.8 59.9 321.6 59.5 320.1 60.1 318.6 61.4 318.2 62.6 318.4 65.1 318.9 66.6 320.3 68.4 322.0 69.4 325.1 70.3 326.5 70.4ZM281.4 101.5 280.6 101.5 280.1 101.3 279.6 100.4 279.7 99.4 280.6 98.6 281.6 98.7 282.4 99.6 282.3 100.6 281.4 101.5ZM312.6 112.4 311.4 112.4 307.1 111.7 305.9 111.1 304.6 110.0 303.1 109.4 301.8 108.1 301.1 106.4 298.0 103.1 295.7 101.6 294.4 100.1 291.4 98.6 290.7 98.6 290.0 99.9 289.4 100.4 288.6 100.5 287.8 100.1 287.4 99.4 287.5 98.4 289.2 96.9 286.4 94.8 285.1 93.4 283.2 91.9 282.0 90.4 280.2 86.6 279.9 84.6 278.8 82.1 278.7 80.9 279.0 80.1 280.5 78.9 280.9 76.1 282.6 74.4 284.0 71.9 285.6 69.8 286.6 68.8 290.4 66.1 293.6 64.4 296.9 63.1 301.9 60.1 304.9 58.9 307.4 58.6 308.6 57.6 309.6 57.2 311.4 56.8 313.9 57.0 315.7 55.6 316.9 55.2 321.6 55.0 325.1 55.3 329.9 57.4 332.9 60.5 335.3 63.6 336.1 66.4 337.0 68.1 337.6 70.4 337.8 73.6 339.3 77.4 340.5 86.6 340.2 89.1 339.0 92.9 337.7 94.4 336.4 95.3 332.6 96.2 328.1 96.5 326.1 96.9 323.4 97.9 321.9 98.9 320.3 99.6 319.6 100.9 319.2 103.9 316.4 109.4 313.8 111.9 312.6 112.4ZM327.2 70.4 327.9 70.0 328.4 69.2 328.8 66.6 327.9 63.2 326.9 61.7 325.4 60.4 322.7 59.4 320.9 59.5 319.0 60.6 318.1 62.0 317.9 63.6 318.4 66.0 319.6 68.0 320.6 68.9 322.6 69.9 325.6 70.6 327.2 70.4ZM284.6 98.1 283.6 97.7 283.2 96.6 283.9 95.5 285.1 95.2 286.0 95.9 286.1 96.9 285.6 97.7 284.6 98.1ZM281.1 101.2 280.2 100.9 279.9 100.1 280.1 99.3 280.9 98.9 281.7 99.1 282.1 99.9 281.9 100.7 281.1 101.2ZM312.6 111.2 307.9 110.9 306.9 110.5 305.6 109.1 303.9 108.1 303.5 107.6 303.5 105.1 303.0 103.9 302.4 103.7 300.9 103.9 300.2 103.6 298.9 102.3 296.6 101.1 295.8 99.1 295.4 98.6 293.6 98.7 292.6 98.5 291.9 97.9 290.8 96.4 289.0 95.4 286.9 93.7 282.7 89.6 282.2 87.6 281.7 86.4 281.4 84.4 279.6 82.7 279.2 81.9 279.2 81.1 279.6 80.4 281.4 79.1 282.2 76.6 283.7 74.6 286.5 69.9 289.6 67.8 291.6 66.9 293.4 65.6 297.9 64.1 299.9 62.4 304.5 60.1 305.6 59.8 307.9 59.6 309.9 58.3 311.6 57.9 314.4 58.2 316.6 56.4 320.4 55.5 325.4 55.7 328.4 57.1 329.6 57.9 331.9 60.9 332.9 62.6 334.1 63.6 334.5 64.4 334.9 67.1 336.1 69.4 336.6 72.6 338.8 77.6 339.8 86.9 339.6 88.6 338.3 92.6 337.4 93.8 336.1 94.6 325.4 96.2 322.5 97.1 319.6 98.4 319.1 99.1 318.6 100.6 318.3 102.9 317.5 104.1 317.2 105.9 316.2 107.9 315.5 108.9 312.6 111.2ZM326.9 70.6 327.9 70.2 328.4 69.5 329.0 67.1 328.9 66.0 328.4 64.3 327.4 62.1 325.6 60.3 323.1 59.3 320.9 59.3 319.1 60.4 318.1 61.6 317.8 63.1 318.2 65.9 319.1 67.6 320.3 68.9 322.4 70.0 325.1 70.7 326.9 70.6ZM284.6 97.9 283.8 97.6 283.5 96.9 283.9 95.9 284.6 95.6 285.4 95.9 285.8 96.6 285.4 97.6 284.6 97.9ZM289.1 100.2 288.1 100.1 287.6 99.4 287.8 98.4 288.6 97.8 289.6 98.0 290.0 98.6 289.8 99.6 289.1 100.2ZM281.1 100.9 280.4 100.7 280.1 100.1 280.4 99.4 280.9 99.2 281.5 99.4 281.8 99.9 281.6 100.6 281.1 100.9ZM311.9 110.2 310.1 110.3 307.6 109.8 304.5 107.1 304.2 105.9 304.0 100.4 304.2 99.6 305.0 98.4 304.4 95.1 303.9 94.3 303.1 94.2 302.4 95.0 301.9 95.9 301.7 97.4 300.5 99.1 300.5 99.9 301.7 101.1 302.1 101.9 301.7 102.6 300.9 102.8 300.4 102.5 299.4 101.2 297.9 100.8 297.3 100.4 297.0 99.4 297.0 97.6 296.4 96.9 295.6 96.9 294.6 97.7 293.6 98.1 292.9 97.9 292.1 97.4 291.3 95.6 289.6 94.4 289.6 93.6 290.3 92.1 290.0 91.4 289.4 91.1 288.6 91.2 287.4 92.1 286.7 91.6 286.1 90.1 284.6 89.8 283.9 89.4 283.6 88.6 283.9 88.0 284.6 87.6 285.9 87.8 286.1 87.4 285.6 87.0 284.1 86.8 283.4 86.4 282.9 85.6 282.6 83.6 280.9 83.2 280.1 82.8 279.6 81.9 279.6 81.1 280.4 80.2 282.7 79.1 283.7 76.4 286.5 73.4 286.3 71.1 286.6 70.4 287.4 69.7 288.9 69.3 290.4 69.8 293.9 66.8 298.6 65.3 300.6 63.2 303.1 62.9 306.4 61.1 308.4 61.7 309.1 61.1 309.7 59.9 310.2 59.4 311.9 59.0 313.6 59.5 314.1 59.4 316.6 57.2 318.1 56.4 321.1 55.7 325.4 55.9 328.4 57.4 329.8 58.6 331.6 61.1 332.6 63.9 333.6 65.1 333.6 66.9 333.3 67.4 332.3 67.9 332.1 68.9 332.6 69.8 333.1 70.2 333.6 70.3 334.4 69.9 334.8 70.1 334.9 70.6 334.6 71.6 334.9 72.4 336.7 73.9 338.2 76.6 338.7 78.6 339.1 81.6 339.3 86.6 339.1 88.1 338.2 90.4 337.7 92.4 336.6 93.4 335.4 94.0 329.9 94.8 327.4 94.9 324.6 95.5 319.9 97.0 317.9 98.1 315.9 97.4 312.4 98.0 310.4 97.3 306.5 98.6 306.4 99.4 307.1 99.7 307.9 99.6 309.6 98.7 312.1 98.7 314.4 100.1 315.4 100.4 316.0 100.1 317.4 98.7 317.7 98.9 317.8 99.6 316.7 103.1 316.6 105.4 316.2 106.6 315.1 108.1 313.1 109.7 311.9 110.2ZM325.9 70.9 327.1 70.7 327.9 70.3 328.5 69.6 328.8 68.6 329.1 66.4 327.9 62.6 326.6 61.0 325.0 59.9 322.6 59.1 320.5 59.4 318.7 60.6 317.9 61.9 317.7 63.6 318.2 66.4 319.4 68.2 320.4 69.1 322.6 70.2 325.9 70.9ZM311.1 65.9 311.3 65.6 311.2 65.1 310.4 64.6 309.3 64.6 308.7 65.4 309.1 65.9 311.1 65.9ZM319.9 78.9 320.4 78.1 320.6 76.9 320.1 76.3 319.4 76.2 318.4 76.9 317.9 77.9 318.8 78.9 319.9 78.9ZM331.3 79.4 331.6 78.9 331.4 78.1 330.6 77.4 329.6 77.1 329.6 77.6 330.6 79.1 331.3 79.4ZM326.5 78.9 326.9 78.1 326.4 77.6 325.9 77.6 325.5 78.1 325.6 78.9 325.9 79.1 326.5 78.9ZM287.4 80.1 287.8 79.6 287.9 79.1 287.6 78.5 287.1 78.3 286.6 78.6 286.5 79.4 286.9 80.1 287.4 80.1ZM303.9 86.9 304.2 86.4 304.1 86.0 303.5 86.4 303.6 86.9 303.9 86.9ZM284.9 97.6 284.1 97.6 283.7 97.1 283.8 96.4 284.4 95.9 285.1 96.0 285.5 96.4 285.4 97.1 284.9 97.6ZM289.1 100.0 288.4 100.0 287.9 99.5 287.8 98.9 288.4 98.2 289.1 98.2 289.7 98.6 289.7 99.4 289.1 100.0ZM280.9 100.6 280.5 100.4 280.4 99.9 280.6 99.6 281.1 99.5 281.5 100.1 281.4 100.4 280.9 100.6ZM293.6 97.7 292.6 97.4 292.1 96.6 292.0 95.4 292.4 94.7 293.9 94.1 294.9 92.9 295.9 92.2 297.1 92.1 298.9 92.8 299.4 92.6 299.1 91.8 297.6 90.6 297.2 88.9 296.1 88.1 294.6 87.6 293.2 88.1 292.1 89.5 291.1 89.7 290.4 89.5 288.4 88.1 287.7 87.1 286.1 85.8 284.3 85.1 283.6 82.9 283.1 82.7 281.4 82.9 280.4 82.6 279.8 81.6 280.1 80.8 281.4 80.2 282.6 80.3 284.9 82.0 285.6 83.7 286.1 83.7 286.6 83.4 287.3 82.6 287.5 81.4 288.4 80.3 288.4 79.1 288.1 77.6 287.6 77.3 285.6 77.0 285.5 76.6 285.8 76.1 286.9 75.0 288.1 74.3 289.1 74.0 290.6 74.3 291.4 73.9 291.7 73.4 291.7 70.9 292.4 69.7 293.9 69.5 294.7 69.9 295.6 70.7 295.9 70.5 296.3 69.6 296.3 67.6 296.6 67.2 297.1 67.1 297.7 67.4 297.8 68.6 298.1 69.0 298.6 69.2 299.1 69.0 299.4 68.4 299.4 66.4 300.1 65.1 300.9 64.3 301.6 64.3 302.9 65.0 303.6 65.2 304.0 64.9 304.9 63.5 306.1 63.3 307.4 64.1 307.4 65.6 307.9 66.4 308.6 66.7 311.9 67.1 312.6 66.5 312.6 65.4 311.6 63.4 310.0 62.9 310.0 62.4 310.6 61.1 311.1 60.5 311.6 60.3 312.9 60.9 313.4 60.7 316.4 57.8 317.6 57.0 320.6 56.0 324.4 55.9 326.4 56.5 329.0 58.1 331.0 60.6 331.8 62.4 332.5 65.9 331.6 67.9 331.6 69.2 334.6 72.6 336.8 74.4 337.8 76.1 338.3 77.9 338.9 81.9 338.9 86.9 338.5 88.4 337.5 89.9 337.2 91.4 336.9 92.0 334.1 93.5 329.6 94.1 328.1 93.7 327.4 92.3 326.6 92.0 326.1 92.4 326.0 93.6 325.6 94.2 321.9 95.6 318.1 96.7 314.9 96.3 312.6 96.6 311.9 96.5 310.6 95.6 310.1 93.9 309.9 93.8 309.7 95.4 309.0 96.4 307.9 97.1 306.4 97.3 305.6 96.6 305.5 94.9 304.6 93.1 304.6 92.3 305.1 91.9 307.1 91.1 308.6 91.2 309.8 90.1 311.1 89.8 311.3 89.6 309.6 87.7 308.9 86.4 308.5 86.1 307.9 86.2 307.4 86.6 307.4 88.1 307.1 88.9 306.6 89.0 305.9 88.7 305.2 87.6 305.7 86.1 305.7 85.6 305.0 84.9 304.1 84.7 303.4 85.1 302.5 86.1 301.9 88.5 301.1 89.9 301.0 90.4 301.6 91.5 302.0 93.1 302.0 93.9 301.6 94.5 300.2 95.4 299.4 96.7 298.9 97.1 297.9 97.0 296.4 96.3 295.6 96.2 294.4 97.4 293.6 97.7ZM326.8 70.9 327.6 70.6 328.4 69.9 328.9 68.9 329.2 67.4 329.1 65.9 327.8 62.4 326.0 60.4 324.0 59.4 321.6 59.0 319.9 59.6 318.3 60.9 317.6 62.4 317.7 64.6 318.4 66.9 319.9 68.9 322.1 70.1 324.9 70.9 326.8 70.9ZM288.9 73.2 287.4 72.8 286.7 71.9 286.8 70.6 287.9 69.8 289.1 70.0 289.8 70.9 289.8 72.4 289.4 73.0 288.9 73.2ZM309.0 71.4 309.5 70.6 309.1 70.2 308.6 70.3 308.4 70.9 308.6 71.4 309.0 71.4ZM300.2 75.4 302.5 73.9 302.9 73.0 302.6 72.4 301.1 72.4 299.9 73.1 299.3 74.1 299.3 74.9 299.6 75.5 300.2 75.4ZM315.3 88.1 316.1 87.6 316.1 87.4 315.2 86.1 315.0 85.4 315.9 83.6 315.4 81.6 316.4 79.4 317.4 79.3 320.1 80.6 323.4 80.5 325.4 81.4 327.9 79.7 329.1 79.3 329.9 80.0 331.1 82.0 331.6 82.2 331.9 81.7 332.1 79.4 331.8 77.9 330.2 76.6 325.6 75.1 323.8 73.9 322.1 73.3 321.4 73.4 320.4 74.3 318.1 74.3 317.2 74.6 316.5 76.1 315.1 77.4 314.5 78.4 314.4 79.4 315.1 81.6 314.1 83.4 313.8 85.4 313.1 87.1 313.2 87.9 313.6 88.2 314.4 88.3 315.3 88.1ZM305.6 75.9 306.2 75.1 305.9 74.6 305.1 74.8 304.7 75.4 305.0 75.9 305.6 75.9ZM323.1 77.7 322.6 77.6 322.3 76.1 322.5 75.4 323.1 75.0 323.9 75.3 324.1 75.9 323.8 76.9 323.1 77.7ZM301.9 78.6 302.1 78.1 301.6 77.6 301.4 77.6 301.4 78.2 301.9 78.6ZM319.7 85.6 320.1 84.9 319.9 84.0 319.4 83.1 318.6 82.9 317.8 83.6 317.7 84.6 318.6 85.7 319.7 85.6ZM292.8 85.4 293.3 84.9 292.9 84.4 292.1 84.5 291.6 85.1 292.1 85.6 292.8 85.4ZM284.9 97.4 284.4 97.5 284.0 97.1 283.9 96.6 284.4 96.1 284.9 96.1 285.3 96.6 284.9 97.4ZM289.1 99.7 288.6 99.8 288.1 99.5 288.1 98.9 288.4 98.5 288.9 98.4 289.4 98.6 289.5 99.1 289.1 99.7ZM311.9 109.7 310.4 109.9 308.4 109.5 306.6 108.5 305.1 107.1 304.7 106.1 304.6 104.4 304.9 101.4 305.4 100.5 307.5 100.1 309.6 99.3 311.4 99.2 312.9 99.7 315.8 101.6 316.1 102.4 316.3 104.6 315.9 106.4 314.6 108.0 312.9 109.2 311.9 109.7ZM317.9 95.9 312.2 95.1 311.5 94.1 311.5 92.9 311.9 92.6 313.1 92.5 313.9 92.0 314.2 91.1 314.0 89.9 314.1 89.6 316.9 88.6 318.6 87.2 320.2 86.6 321.0 86.1 321.3 85.4 320.3 82.6 320.4 82.1 320.9 81.7 322.9 81.3 324.6 82.2 325.6 82.3 326.4 82.0 327.6 80.9 328.6 80.7 329.4 81.1 330.5 82.9 331.4 83.3 332.1 83.2 332.4 82.4 332.4 78.9 331.9 77.6 331.1 76.9 325.9 74.5 324.1 73.4 321.6 72.6 320.6 72.7 319.4 73.5 316.1 73.8 315.6 74.1 314.8 76.4 313.1 78.6 312.9 80.1 312.2 81.1 312.2 81.6 312.9 82.9 312.8 83.6 312.4 84.3 309.6 84.9 307.6 85.0 307.0 84.9 305.6 83.9 303.9 83.9 301.2 86.4 300.4 88.4 299.6 89.0 299.1 89.1 296.2 87.1 295.1 85.1 294.3 82.4 293.6 81.7 292.9 81.8 291.6 82.2 290.6 83.1 289.8 86.1 289.9 86.4 291.4 87.1 291.5 87.6 291.1 88.1 290.6 88.1 290.2 87.9 289.4 86.7 287.9 86.5 286.6 85.6 286.2 84.9 286.4 84.4 288.2 82.6 288.9 80.4 288.6 77.3 287.6 75.9 288.4 75.1 291.1 75.1 293.1 74.2 294.9 75.6 295.6 76.0 297.1 75.0 297.0 75.6 295.9 76.5 295.5 77.6 295.6 78.1 296.6 79.0 297.6 79.2 299.4 78.4 300.1 78.7 301.9 80.2 303.9 79.6 305.6 80.0 306.0 77.6 307.9 74.0 309.1 74.9 309.9 75.2 310.6 75.0 311.1 74.4 311.0 73.6 309.8 72.6 310.4 70.9 310.1 69.4 309.6 69.1 308.9 69.2 307.8 70.1 307.5 71.4 307.9 73.4 307.6 73.7 304.6 73.5 304.2 73.1 303.5 71.9 302.4 71.6 300.1 72.0 298.6 73.6 297.4 74.1 296.6 73.5 296.1 72.4 296.1 71.6 296.6 70.6 297.4 70.0 299.1 69.9 299.6 69.6 300.4 68.4 300.8 66.4 301.4 65.9 303.1 66.4 305.6 66.0 307.9 67.1 309.6 67.4 311.1 68.0 312.1 67.9 312.9 67.1 313.1 66.4 312.7 63.6 313.2 61.9 314.1 60.6 316.4 58.1 317.9 57.1 320.1 56.2 324.6 56.1 326.1 56.6 328.6 58.0 329.9 59.4 331.3 61.6 332.0 65.6 331.3 68.1 331.3 69.1 332.1 70.4 334.5 72.9 336.5 74.4 337.7 76.4 338.3 78.4 338.7 81.4 338.7 86.9 338.1 88.3 336.8 89.6 336.3 91.4 334.1 92.9 331.4 93.4 329.9 93.3 328.9 92.9 327.4 91.2 326.1 91.0 325.1 91.4 324.7 93.1 323.7 93.9 322.4 94.5 320.9 94.6 319.1 95.6 317.9 95.9ZM327.2 70.9 328.1 70.4 328.7 69.6 329.3 67.1 329.2 65.9 328.6 64.1 327.6 61.9 325.6 60.0 323.1 59.0 321.1 59.0 319.3 59.9 318.0 61.1 317.5 62.9 317.9 66.1 318.9 67.9 320.1 69.2 322.4 70.4 325.1 71.0 327.2 70.9ZM288.6 72.7 287.6 72.5 286.9 71.6 287.1 70.6 287.9 70.1 288.9 70.2 289.5 71.1 289.4 72.1 288.6 72.7ZM293.6 73.9 293.1 73.9 292.6 73.3 292.0 71.9 292.3 70.6 293.4 70.0 294.6 70.5 295.1 71.6 294.7 73.1 293.6 73.9ZM281.6 82.6 280.6 82.5 280.1 81.9 280.2 81.1 281.1 80.5 282.1 80.5 282.9 81.4 282.7 82.1 281.6 82.6ZM311.1 87.2 310.8 86.9 311.1 86.4 311.4 86.6 311.1 87.2ZM293.6 97.4 293.1 97.3 292.5 96.9 292.3 96.1 292.4 95.4 292.9 94.9 294.4 94.4 295.4 93.0 296.1 92.7 296.9 92.8 298.6 93.7 299.3 94.4 299.4 95.4 298.6 96.5 297.6 96.5 296.2 95.9 295.4 95.8 294.4 97.0 293.6 97.4ZM307.6 94.7 307.1 94.5 306.7 93.6 306.7 93.1 307.0 92.9 307.4 92.9 307.9 93.4 308.0 94.1 307.6 94.7ZM284.9 97.1 284.3 97.1 284.1 96.8 284.4 96.4 285.0 96.6 284.9 97.1ZM289.1 99.4 288.6 99.6 288.4 99.4 288.3 98.9 288.6 98.7 289.1 98.8 289.1 99.4ZM311.6 109.4 310.1 109.6 308.4 109.2 306.4 107.9 305.5 107.1 305.0 105.9 304.9 104.4 305.2 102.1 305.9 101.0 309.4 99.7 311.4 99.5 312.9 100.0 315.4 101.9 315.7 102.6 316.0 104.4 315.7 106.1 314.4 107.8 312.9 108.9 311.6 109.4ZM331.6 92.4 330.9 92.4 330.0 92.1 327.0 89.1 323.6 87.8 323.0 87.1 322.9 86.4 323.2 84.6 323.9 83.6 324.6 83.3 327.4 83.0 329.1 83.3 331.6 84.5 332.9 85.5 333.4 85.4 332.8 83.1 332.6 78.6 331.6 76.9 324.1 73.0 321.1 72.1 319.6 72.0 317.9 72.7 315.6 73.0 314.2 73.6 313.6 74.4 313.4 74.6 313.3 74.4 313.7 73.1 313.6 72.4 313.3 71.6 312.1 70.4 313.5 66.6 313.2 63.9 313.5 62.4 314.3 60.9 316.6 58.2 317.9 57.3 319.6 56.6 321.4 56.2 324.9 56.3 327.6 57.6 329.2 58.9 330.9 61.4 331.5 63.1 331.7 65.6 330.9 68.1 331.1 69.4 334.2 72.9 336.4 74.5 337.6 76.6 338.5 81.6 338.6 85.6 338.3 87.4 337.4 88.5 335.7 89.1 335.5 90.4 335.0 91.1 331.6 92.4ZM326.6 71.1 327.6 70.9 328.4 70.3 329.0 69.4 329.3 68.4 329.4 66.1 328.1 62.5 326.9 60.9 325.1 59.6 322.6 58.8 321.4 58.8 320.3 59.1 318.4 60.5 317.6 61.9 317.4 64.1 318.1 66.9 319.4 68.8 320.6 69.7 322.4 70.5 324.1 71.0 326.6 71.1ZM305.9 71.7 305.1 71.8 302.9 70.9 301.1 70.8 300.7 70.6 300.6 70.1 301.1 69.3 302.4 68.3 304.6 67.3 305.6 67.3 307.2 68.1 307.4 68.6 306.4 71.1 305.9 71.7ZM288.6 72.2 287.9 72.2 287.3 71.6 287.3 70.9 287.9 70.4 288.6 70.5 289.0 70.9 289.1 71.6 288.6 72.2ZM294.1 72.9 293.1 73.0 292.5 72.4 292.4 71.4 293.1 70.6 293.9 70.6 294.5 71.1 294.7 72.1 294.1 72.9ZM298.1 73.2 297.1 73.1 296.5 72.1 296.7 71.1 297.6 70.5 298.9 70.7 299.4 71.4 298.9 72.6 298.1 73.2ZM291.1 80.5 290.1 80.6 289.4 79.7 289.0 78.4 289.4 76.8 290.1 76.1 292.6 75.5 293.4 75.6 294.4 76.6 294.2 78.1 293.6 79.0 291.1 80.5ZM309.6 82.5 309.1 82.5 308.4 82.1 307.9 81.6 307.7 80.9 307.9 80.1 308.4 79.2 308.9 78.7 309.4 78.6 310.4 78.9 310.8 79.9 310.1 81.8 309.6 82.5ZM281.9 82.2 281.4 82.3 280.7 82.1 280.4 81.6 280.6 81.1 281.1 80.8 281.9 80.9 282.3 81.6 281.9 82.2ZM304.1 82.4 303.3 82.1 303.1 81.6 303.5 81.1 304.1 81.2 304.6 81.6 304.6 82.1 304.1 82.4ZM297.9 86.6 297.1 86.3 296.0 84.1 296.4 82.9 297.4 82.1 297.7 82.1 298.6 83.2 300.2 83.6 301.1 84.4 297.9 86.6ZM288.6 85.9 288.1 86.0 287.4 85.8 286.8 84.9 287.1 84.1 288.1 83.5 288.9 83.6 289.3 84.4 289.2 85.4 288.6 85.9ZM317.4 94.9 315.6 94.8 314.9 94.3 314.4 93.6 314.5 92.9 315.7 90.6 317.6 89.2 318.9 88.7 319.4 88.8 320.1 89.5 321.9 89.8 322.2 90.4 322.6 92.6 322.1 92.9 320.1 92.7 318.6 94.4 317.4 94.9ZM298.1 96.1 295.2 95.1 295.0 94.4 295.3 93.6 295.9 93.2 296.6 93.2 298.6 94.4 298.9 95.4 298.6 95.9 298.1 96.1ZM293.9 97.0 293.1 97.0 292.6 96.4 292.7 95.6 293.4 95.1 294.1 95.2 294.6 95.6 294.4 96.4 293.9 97.0ZM311.4 109.1 310.1 109.3 308.6 108.9 306.6 107.7 305.8 106.9 305.3 105.4 305.4 103.1 305.8 101.9 306.5 101.1 309.4 100.0 311.6 99.9 313.1 100.5 315.1 102.1 315.7 104.4 315.4 106.1 314.7 107.1 313.6 108.0 311.4 109.1ZM331.4 90.7 330.6 90.5 327.4 88.1 324.4 87.1 323.9 86.6 323.8 85.9 324.1 85.1 324.9 84.3 327.6 84.1 329.6 84.5 330.3 84.9 331.1 85.9 333.1 86.8 333.6 86.7 333.9 86.1 333.9 85.1 333.1 82.6 332.8 78.6 332.1 77.2 330.8 76.1 323.9 72.6 319.4 71.4 317.4 71.2 316.1 70.1 314.1 69.5 313.5 68.6 313.7 66.4 313.4 63.6 314.1 61.6 316.9 58.2 319.6 56.7 321.4 56.4 324.9 56.5 327.6 57.8 329.0 58.9 330.7 61.4 331.2 62.9 331.4 65.6 330.7 68.1 330.8 69.4 331.7 70.6 334.1 73.1 336.2 74.6 337.5 76.9 338.4 81.9 338.4 85.4 338.1 87.1 337.6 87.9 336.6 88.4 334.1 88.1 333.3 89.1 331.4 90.7ZM327.2 71.1 328.1 70.7 328.9 69.9 329.3 69.1 329.6 67.4 329.4 65.6 328.0 62.1 325.9 59.9 323.6 58.9 321.6 58.7 319.9 59.3 318.1 60.6 317.4 62.2 317.4 65.1 318.1 67.2 319.9 69.5 322.1 70.6 324.9 71.3 327.2 71.1ZM305.1 70.6 304.4 70.7 303.6 70.4 303.0 69.9 303.0 69.4 304.1 68.6 305.4 68.4 305.8 68.9 305.9 69.4 305.7 70.1 305.1 70.6ZM288.4 71.9 287.7 71.6 287.6 71.1 287.9 70.8 288.4 70.7 288.7 71.1 288.7 71.6 288.4 71.9ZM293.6 72.7 293.1 72.5 292.7 71.9 292.9 71.2 293.4 70.9 294.1 71.1 294.4 71.6 294.2 72.4 293.6 72.7ZM297.9 72.9 297.1 72.7 296.8 71.9 297.1 71.1 297.9 70.8 298.6 71.1 298.9 71.6 298.6 72.5 297.9 72.9ZM290.9 79.9 290.1 79.9 289.4 79.1 289.3 78.1 289.6 77.3 290.4 76.7 291.6 76.5 292.6 76.0 293.4 76.1 294.0 76.9 293.7 77.9 290.9 79.9ZM281.4 82.0 280.8 81.6 281.1 81.2 281.8 81.4 281.8 81.6 281.4 82.0ZM288.1 85.6 287.4 85.4 287.2 84.9 287.4 84.3 288.1 83.9 288.6 84.1 288.9 84.6 288.7 85.4 288.1 85.6ZM317.6 93.9 316.1 94.0 315.7 93.6 315.5 93.1 316.4 91.2 317.1 90.6 317.9 90.4 318.6 90.9 319.0 92.1 318.6 93.2 317.6 93.9ZM298.1 95.7 297.6 95.7 295.6 94.9 295.4 94.4 295.5 93.9 296.4 93.5 298.1 94.5 298.5 95.1 298.1 95.7ZM293.6 96.7 293.1 96.6 292.9 96.1 293.1 95.7 293.6 95.5 294.0 95.6 294.2 96.1 293.6 96.7ZM311.1 108.9 309.1 108.8 307.1 107.8 306.0 106.6 305.6 105.1 305.7 102.9 306.4 101.6 308.6 100.5 310.6 100.1 312.4 100.4 314.4 101.8 315.1 102.9 315.5 104.6 315.2 105.9 314.4 107.1 312.9 108.2 311.1 108.9ZM336.4 88.2 335.3 87.9 334.5 87.1 334.2 84.9 333.2 82.4 333.0 78.6 332.6 77.6 331.9 76.6 325.9 73.5 324.1 72.3 317.6 70.6 316.0 69.6 314.4 69.1 313.9 68.6 313.8 67.9 313.9 66.1 313.6 63.9 314.0 62.4 314.6 61.1 316.0 59.4 317.9 57.7 320.6 56.6 324.9 56.6 328.2 58.4 330.4 61.1 331.0 62.6 331.2 64.9 331.1 66.1 330.4 68.1 330.5 69.4 333.9 73.1 336.4 75.1 337.2 76.6 337.7 78.4 338.2 81.9 338.2 85.9 337.6 87.5 337.1 87.9 336.4 88.2ZM326.5 71.4 327.6 71.1 328.4 70.7 329.2 69.6 329.5 68.9 329.7 66.4 328.4 62.5 326.9 60.6 325.1 59.4 322.6 58.6 321.1 58.6 320.1 59.0 318.2 60.4 317.4 61.9 317.2 64.1 317.8 66.9 319.4 69.2 320.4 70.0 322.4 71.0 324.1 71.4 326.5 71.4ZM297.9 72.6 297.4 72.5 297.1 71.9 297.4 71.3 297.9 71.1 298.4 71.4 298.6 71.9 298.3 72.4 297.9 72.6ZM293.9 72.2 293.2 72.1 293.2 71.4 293.6 71.2 293.9 71.4 293.9 72.2ZM291.1 79.5 290.4 79.6 289.7 79.1 289.5 78.4 289.9 77.4 290.4 77.1 291.9 76.9 292.6 76.5 293.4 76.6 293.6 77.1 293.4 77.6 292.4 78.2 291.1 79.5ZM288.1 85.2 287.6 84.9 287.9 84.4 288.4 84.6 288.1 85.2ZM327.4 86.7 326.6 86.8 325.6 86.5 325.3 86.1 325.4 85.6 326.4 85.2 327.5 85.4 327.8 86.1 327.4 86.7ZM317.6 92.9 317.1 93.0 316.7 92.6 316.9 92.0 317.4 91.7 318.0 92.1 317.9 92.6 317.6 92.9ZM296.9 94.7 295.9 94.6 295.8 94.1 296.1 93.9 296.6 94.0 297.0 94.6 296.9 94.7ZM311.1 108.7 309.4 108.7 307.3 107.6 306.3 106.6 305.9 105.1 306.0 102.9 306.6 101.7 308.4 100.8 310.6 100.3 312.4 100.6 314.1 101.9 314.9 102.9 315.3 104.6 315.0 105.9 314.3 106.9 312.9 107.9 311.1 108.7ZM321.6 71.1 317.9 70.3 314.3 68.6 314.0 67.9 314.1 66.4 313.8 64.1 313.9 63.1 315.0 60.9 316.6 58.9 317.9 57.9 320.6 56.8 324.9 56.7 328.0 58.4 329.9 60.6 330.9 62.9 331.0 65.9 330.6 66.8 330.1 67.4 328.4 62.3 327.4 61.0 325.8 59.6 322.6 58.5 321.1 58.5 319.9 59.0 318.1 60.4 317.5 61.4 317.1 62.9 317.2 65.4 317.7 67.1 319.4 69.6 321.6 71.1ZM336.6 87.9 335.6 87.8 334.7 86.9 334.4 84.7 333.4 82.4 333.2 78.6 332.4 76.9 331.1 75.9 325.9 73.3 324.7 72.4 324.5 71.9 327.9 71.1 328.8 70.4 329.9 69.1 333.9 73.3 336.3 75.1 337.2 77.1 338.1 82.4 337.9 86.4 337.5 87.4 336.6 87.9ZM297.9 72.3 297.4 71.9 297.9 71.5 298.2 71.9 297.9 72.3ZM291.1 79.2 290.4 79.3 289.8 78.6 289.9 77.9 290.6 77.3 291.4 77.3 291.9 77.6 291.8 78.4 291.1 79.2ZM311.1 108.4 309.9 108.6 308.9 108.3 307.1 107.2 306.4 106.4 306.1 105.1 306.2 102.9 306.8 101.9 307.6 101.3 309.6 100.7 311.6 100.6 313.1 101.3 314.6 102.9 315.1 104.6 314.6 106.1 313.1 107.5 311.1 108.4ZM318.9 69.9 317.9 69.9 316.4 69.1 315.0 68.6 314.3 67.9 314.3 66.1 314.0 64.1 314.1 63.1 314.7 61.6 316.2 59.6 318.1 58.0 319.9 57.2 321.1 56.9 324.9 56.9 328.0 58.6 329.5 60.4 330.6 62.4 330.8 64.9 330.4 66.3 329.9 65.6 328.1 61.6 326.6 60.1 325.4 59.2 323.1 58.4 321.1 58.4 319.6 59.0 317.7 60.6 317.0 62.6 317.0 65.4 317.4 66.9 318.9 69.4 318.9 69.9ZM336.9 87.5 335.9 87.5 335.0 86.6 334.6 84.6 333.6 82.1 333.4 78.6 332.6 76.9 331.4 75.8 326.1 73.1 325.3 72.4 325.4 72.0 327.9 71.3 329.9 69.8 333.7 73.4 335.5 74.6 336.3 75.4 337.1 77.1 338.0 82.1 337.8 85.9 337.5 86.9 336.9 87.5ZM290.9 78.9 290.3 78.9 290.1 78.4 290.4 77.8 290.9 77.6 291.5 78.1 291.3 78.6 290.9 78.9ZM311.1 108.1 310.1 108.3 309.1 108.1 306.8 106.4 306.5 105.4 306.5 103.1 306.9 102.2 307.6 101.6 309.6 100.9 311.6 100.8 312.9 101.5 314.4 103.1 314.8 104.6 314.5 105.9 313.1 107.2 311.1 108.1ZM318.1 69.4 314.9 68.1 314.2 64.4 314.2 63.4 314.7 62.1 316.9 59.1 317.9 58.3 319.9 57.4 323.9 56.9 325.6 57.3 328.3 59.1 329.7 60.9 330.4 62.4 330.6 64.0 330.4 65.4 329.9 65.0 328.1 61.4 326.4 59.7 325.4 59.1 322.9 58.2 321.1 58.2 319.6 58.8 318.0 60.1 317.1 61.6 316.8 63.9 317.1 66.4 318.2 68.9 318.1 69.4ZM336.9 87.1 336.1 87.3 335.3 86.6 334.8 84.4 333.8 81.9 333.7 78.6 332.6 76.6 331.6 75.6 326.1 72.9 325.7 72.4 325.8 72.1 327.9 71.5 329.9 70.2 336.1 75.5 336.9 77.1 337.8 82.1 337.7 85.6 337.4 86.6 336.9 87.1ZM290.9 78.5 290.5 78.4 290.6 78.1 290.9 78.1 290.9 78.5ZM310.9 107.9 309.4 107.9 307.4 106.4 307.1 105.6 306.8 103.4 307.1 102.4 307.9 101.7 309.4 101.2 311.1 101.0 312.3 101.4 313.6 102.6 314.4 103.9 314.6 104.9 314.3 105.6 313.5 106.6 310.9 107.9ZM316.9 67.9 315.9 68.0 315.1 67.6 314.5 63.4 315.1 61.9 316.1 60.4 317.2 59.1 318.4 58.4 320.6 57.6 323.9 57.1 325.1 57.3 328.0 59.1 330.1 62.1 330.3 63.4 330.1 64.4 329.6 63.9 328.3 61.4 326.1 59.2 322.1 57.8 320.1 58.2 317.8 60.1 317.0 61.4 316.6 64.1 316.9 67.9ZM336.6 86.7 336.1 86.8 335.6 86.2 335.1 84.1 334.0 81.6 333.9 78.4 332.6 76.0 331.9 75.3 329.9 74.5 328.1 73.4 326.9 72.9 326.4 72.4 326.7 72.1 328.1 71.7 329.6 70.7 330.1 70.8 336.0 75.6 336.6 77.0 337.6 82.4 337.5 85.4 337.1 86.3 336.6 86.7ZM310.9 107.4 310.1 107.5 309.4 107.3 308.0 105.9 307.4 103.1 307.6 102.5 308.1 102.1 310.4 101.5 311.6 101.5 312.5 102.1 313.9 104.0 314.1 104.9 313.6 105.9 312.6 106.7 310.9 107.4Z"/><circle cx="253.8" cy="95.1" r="0.45" fill="#555"/><circle cx="257.1" cy="62.8" r="0.45" fill="#555"/><circle cx="246.6" cy="93.9" r="0.45" fill="#555"/><circle cx="240.1" cy="91.4" r="0.45" fill="#555"/><circle cx="257.5" cy="74.5" r="0.45" fill="#555"/><circle cx="246.7" cy="65.4" r="0.45" fill="#555"/><circle cx="245.6" cy="73.4" r="0.45" fill="#555"/><circle cx="251.1" cy="78.6" r="0.45" fill="#555"/><circle cx="261.9" cy="90.0" r="0.45" fill="#555"/><circle cx="253.7" cy="99.5" r="0.45" fill="#555"/><circle cx="244.7" cy="59.7" r="0.45" fill="#555"/><circle cx="253.5" cy="54.1" r="0.45" fill="#555"/><circle cx="240.8" cy="76.7" r="0.45" fill="#555"/><circle cx="250.3" cy="96.0" r="0.45" fill="#555"/><circle cx="253.8" cy="76.7" r="0.45" fill="#555"/><circle cx="250.9" cy="63.9" r="0.45" fill="#555"/><circle cx="240.3" cy="61.2" r="0.45" fill="#555"/><circle cx="255.2" cy="61.6" r="0.45" fill="#555"/><circle cx="248.1" cy="52.2" r="0.45" fill="#555"/><circle cx="258.3" cy="59.4" r="0.45" fill="#555"/><circle cx="245.9" cy="94.3" r="0.45" fill="#555"/><circle cx="251.2" cy="92.7" r="0.45" fill="#555"/><circle cx="254.1" cy="87.6" r="0.45" fill="#555"/><circle cx="242.0" cy="78.0" r="0.45" fill="#555"/><circle cx="251.2" cy="93.8" r="0.45" fill="#555"/><circle cx="247.9" cy="80.7" r="0.45" fill="#555"/><circle cx="241.3" cy="70.6" r="0.45" fill="#555"/><circle cx="247.1" cy="59.2" r="0.45" fill="#555"/><circle cx="258.0" cy="70.2" r="0.45" fill="#555"/><circle cx="261.5" cy="80.3" r="0.45" fill="#555"/><circle cx="234.1" cy="112.3" r="0.45" fill="#555"/><circle cx="235.5" cy="106.0" r="0.45" fill="#555"/><circle cx="230.8" cy="107.1" r="0.45" fill="#555"/><circle cx="230.0" cy="105.3" r="0.45" fill="#555"/><circle cx="241.4" cy="106.8" r="0.45" fill="#555"/><circle cx="235.4" cy="107.9" r="0.45" fill="#555"/><circle cx="239.5" cy="112.6" r="0.45" fill="#555"/><circle cx="224.6" cy="115.0" r="0.45" fill="#555"/><circle cx="240.9" cy="115.8" r="0.45" fill="#555"/><circle cx="233.4" cy="105.9" r="0.45" fill="#555"/><circle cx="225.8" cy="116.1" r="0.45" fill="#555"/><circle cx="233.0" cy="106.3" r="0.45" fill="#555"/><circle cx="239.7" cy="112.3" r="0.45" fill="#555"/><circle cx="233.4" cy="108.9" r="0.45" fill="#555"/><circle cx="230.2" cy="107.1" r="0.45" fill="#555"/><circle cx="222.8" cy="115.4" r="0.45" fill="#555"/><circle cx="231.4" cy="111.1" r="0.45" fill="#555"/><circle cx="228.4" cy="113.8" r="0.45" fill="#555"/><circle cx="222.5" cy="108.8" r="0.45" fill="#555"/><circle cx="222.6" cy="105.6" r="0.45" fill="#555"/><circle cx="301.2" cy="89.7" r="0.45" fill="#555"/><circle cx="288.3" cy="84.9" r="0.45" fill="#555"/><circle cx="298.9" cy="78.4" r="0.45" fill="#555"/><circle cx="292.2" cy="90.6" r="0.45" fill="#555"/><circle cx="286.5" cy="84.7" r="0.45" fill="#555"/><circle cx="296.4" cy="98.7" r="0.45" fill="#555"/><circle cx="281.6" cy="99.6" r="0.45" fill="#555"/><circle cx="278.1" cy="93.1" r="0.45" fill="#555"/><circle cx="297.5" cy="70.9" r="0.45" fill="#555"/><circle cx="288.1" cy="95.3" r="0.45" fill="#555"/><circle cx="278.3" cy="88.6" r="0.45" fill="#555"/><circle cx="297.0" cy="84.5" r="0.45" fill="#555"/><circle cx="295.4" cy="74.2" r="0.45" fill="#555"/><circle cx="282.8" cy="79.1" r="0.45" fill="#555"/><circle cx="282.3" cy="78.5" r="0.45" fill="#555"/><circle cx="300.8" cy="86.6" r="0.45" fill="#555"/><circle cx="286.2" cy="75.8" r="0.45" fill="#555"/><circle cx="300.8" cy="82.0" r="0.45" fill="#555"/><circle cx="301.5" cy="84.6" r="0.45" fill="#555"/><circle cx="290.5" cy="98.3" r="0.45" fill="#555"/><circle cx="295.8" cy="86.9" r="0.45" fill="#555"/><circle cx="288.2" cy="97.6" r="0.45" fill="#555"/><circle cx="287.9" cy="99.2" r="0.45" fill="#555"/><circle cx="279.6" cy="81.5" r="0.45" fill="#555"/><circle cx="290.5" cy="100.2" r="0.45" fill="#555"/><circle cx="284.0" cy="95.0" r="0.45" fill="#555"/><circle cx="294.2" cy="91.8" r="0.45" fill="#555"/><circle cx="293.1" cy="101.0" r="0.45" fill="#555"/><circle cx="286.0" cy="80.3" r="0.45" fill="#555"/><circle cx="282.9" cy="67.8" r="0.45" fill="#555"/><circle cx="283.1" cy="99.0" r="0.45" fill="#555"/><circle cx="298.2" cy="70.0" r="0.45" fill="#555"/><circle cx="292.5" cy="83.3" r="0.45" fill="#555"/><circle cx="292.3" cy="89.7" r="0.45" fill="#555"/><circle cx="285.4" cy="100.6" r="0.45" fill="#555"/><circle cx="289.2" cy="88.6" r="0.45" fill="#555"/><circle cx="293.2" cy="72.6" r="0.45" fill="#555"/><circle cx="279.5" cy="80.8" r="0.45" fill="#555"/><circle cx="296.3" cy="95.3" r="0.45" fill="#555"/><circle cx="295.5" cy="70.1" r="0.45" fill="#555"/><circle cx="299.9" cy="94.9" r="0.45" fill="#555"/><circle cx="299.1" cy="84.8" r="0.45" fill="#555"/><circle cx="300.0" cy="67.7" r="0.45" fill="#555"/><circle cx="278.7" cy="66.7" r="0.45" fill="#555"/><circle cx="284.1" cy="74.9" r="0.45" fill="#555"/><circle cx="282.5" cy="86.4" r="0.45" fill="#555"/><circle cx="278.9" cy="87.3" r="0.45" fill="#555"/><circle cx="282.0" cy="90.4" r="0.45" fill="#555"/><circle cx="278.5" cy="77.2" r="0.45" fill="#555"/><circle cx="300.5" cy="85.4" r="0.45" fill="#555"/><circle cx="297.5" cy="89.7" r="0.45" fill="#555"/><circle cx="292.7" cy="72.9" r="0.45" fill="#555"/><circle cx="291.8" cy="67.4" r="0.45" fill="#555"/><circle cx="297.2" cy="100.6" r="0.45" fill="#555"/><circle cx="298.5" cy="67.8" r="0.45" fill="#555"/><circle cx="286.1" cy="77.4" r="0.45" fill="#555"/><circle cx="280.7" cy="88.6" r="0.45" fill="#555"/><circle cx="297.1" cy="77.3" r="0.45" fill="#555"/><circle cx="298.7" cy="94.7" r="0.45" fill="#555"/><circle cx="281.1" cy="93.6" r="0.45" fill="#555"/><circle cx="299.2" cy="73.1" r="0.45" fill="#555"/><circle cx="291.8" cy="89.0" r="0.45" fill="#555"/><circle cx="292.6" cy="69.5" r="0.45" fill="#555"/><circle cx="293.9" cy="88.8" r="0.45" fill="#555"/><circle cx="297.8" cy="94.9" r="0.45" fill="#555"/><circle cx="285.9" cy="92.0" r="0.45" fill="#555"/><circle cx="298.8" cy="98.1" r="0.45" fill="#555"/><circle cx="281.9" cy="67.0" r="0.45" fill="#555"/><circle cx="293.6" cy="73.7" r="0.45" fill="#555"/><circle cx="291.5" cy="100.0" r="0.45" fill="#555"/><circle cx="287.1" cy="75.1" r="0.45" fill="#555"/><circle cx="289.0" cy="89.7" r="0.45" fill="#555"/><circle cx="280.4" cy="79.7" r="0.45" fill="#555"/><circle cx="281.2" cy="89.8" r="0.45" fill="#555"/><circle cx="297.9" cy="79.6" r="0.45" fill="#555"/><circle cx="286.9" cy="85.4" r="0.45" fill="#555"/><circle cx="283.2" cy="74.9" r="0.45" fill="#555"/><circle cx="285.9" cy="82.5" r="0.45" fill="#555"/><circle cx="280.0" cy="93.1" r="0.45" fill="#555"/><circle cx="291.9" cy="76.8" r="0.45" fill="#555"/><circle cx="279.9" cy="93.5" r="0.45" fill="#555"/><circle cx="281.1" cy="70.8" r="0.45" fill="#555"/><circle cx="281.1" cy="68.9" r="0.45" fill="#555"/><circle cx="299.8" cy="75.7" r="0.45" fill="#555"/><circle cx="285.4" cy="96.0" r="0.45" fill="#555"/><circle cx="292.9" cy="72.7" r="0.45" fill="#555"/><circle cx="288.4" cy="97.8" r="0.45" fill="#555"/><circle cx="287.0" cy="91.6" r="0.45" fill="#555"/><circle cx="280.3" cy="92.2" r="0.45" fill="#555"/><circle cx="296.6" cy="95.7" r="0.45" fill="#555"/><circle cx="338.8" cy="98.7" r="0.45" fill="#555"/><circle cx="330.8" cy="101.3" r="0.45" fill="#555"/><circle cx="339.8" cy="95.4" r="0.45" fill="#555"/><circle cx="333.5" cy="101.7" r="0.45" fill="#555"/><circle cx="339.7" cy="108.1" r="0.45" fill="#555"/><circle cx="331.6" cy="95.3" r="0.45" fill="#555"/><circle cx="340.4" cy="103.6" r="0.45" fill="#555"/><circle cx="339.4" cy="109.9" r="0.45" fill="#555"/><circle cx="342.2" cy="107.2" r="0.45" fill="#555"/><circle cx="340.1" cy="99.1" r="0.45" fill="#555"/><circle cx="311.5" cy="106.0" r="0.45" fill="#555"/><circle cx="313.7" cy="112.3" r="0.45" fill="#555"/><circle cx="313.0" cy="108.9" r="0.45" fill="#555"/><circle cx="306.8" cy="108.6" r="0.45" fill="#555"/><circle cx="300.6" cy="113.3" r="0.45" fill="#555"/><circle cx="309.8" cy="108.3" r="0.45" fill="#555"/><circle cx="309.9" cy="111.9" r="0.45" fill="#555"/><circle cx="306.9" cy="113.1" r="0.45" fill="#555"/><circle cx="316.6" cy="108.3" r="0.45" fill="#555"/><circle cx="302.5" cy="112.4" r="0.45" fill="#555"/><circle cx="317.9" cy="105.6" r="0.45" fill="#555"/><circle cx="312.8" cy="113.1" r="0.45" fill="#555"/><g clip-path="url(#lyclip)"><g filter="url(#speck)"><g filter="url(#lyblur)"><rect x="350" y="50" width="72" height="70" fill="#c0d848"/><ellipse cx="400" cy="70" rx="13" ry="14" fill="#ec6a2c"/><ellipse cx="396" cy="61" rx="8" ry="6" fill="#e85a28"/><ellipse cx="408" cy="80" rx="7" ry="7" fill="#f07a34"/><ellipse cx="378" cy="80" rx="12" ry="9" fill="#78cc48"/><ellipse cx="386" cy="86" rx="8" ry="8" fill="#b8dc40"/><ellipse cx="367" cy="82" rx="7" ry="7" fill="#50b850"/><ellipse cx="359.5" cy="86" rx="3.2" ry="6.5" fill="#2050b0"/><ellipse cx="362.5" cy="81" rx="3" ry="4" fill="#3a78c0"/><ellipse cx="382" cy="104" rx="10" ry="8" fill="#f0b030"/><ellipse cx="388" cy="108" rx="6" ry="5" fill="#ee8a30"/><ellipse cx="410" cy="94" rx="7" ry="5" fill="#f0b840"/><ellipse cx="396" cy="92" rx="6" ry="6" fill="#e0d040"/><ellipse cx="372" cy="95" rx="6" ry="5" fill="#d8d840"/><ellipse cx="392" cy="76" rx="5" ry="6" fill="#d0d040"/></g></g></g><text x="351.7" y="56.2" font-size="8.6" fill="#222" textLength="17.4" lengthAdjust="spacingAndGlyphs" stroke="#222" stroke-width="0.18">Ly6C</text><rect x="350.1" y="58.8" width="21.8" height="4" fill="url(#lyg)"/>
</svg></div></body></html>
